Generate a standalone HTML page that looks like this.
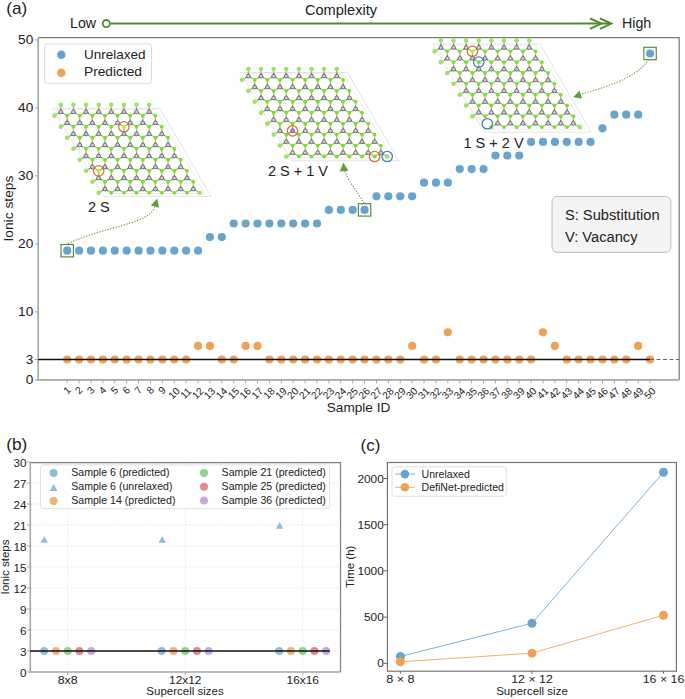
<!DOCTYPE html>
<html><head><meta charset="utf-8"><style>
html,body{margin:0;padding:0;background:#fff;}
svg{display:block;font-family:"Liberation Sans", sans-serif;}
</style></head><body>
<svg width="685" height="699" viewBox="0 0 685 699">
<rect width="685" height="699" fill="#fff"/>
<text x="6.3" y="13.6" font-size="17" fill="#222" textLength="21" lengthAdjust="spacingAndGlyphs">(a)</text>
<text x="70" y="28" font-size="14.2" fill="#222">Low</text>
<text x="341" y="14.8" font-size="14.6" fill="#222" text-anchor="middle">Complexity</text>
<text x="622" y="27.7" font-size="14.2" fill="#222">High</text>
<line x1="110.5" y1="23.6" x2="610" y2="23.6" stroke="#4e8a2e" stroke-width="2"/>
<circle cx="106.3" cy="23.6" r="3.6" fill="#fff" stroke="#4e8a2e" stroke-width="1.8"/>
<polyline points="590,18.3 601.3,23.6 590,28.9" fill="none" stroke="#4e8a2e" stroke-width="2"/>
<polyline points="600,18.3 611.3,23.6 600,28.9" fill="none" stroke="#4e8a2e" stroke-width="2"/>
<path d="M38.2,37.6 H679.2 V379.9" fill="none" stroke="#7c7c7c" stroke-width="1.25"/>
<path d="M38.2,37.6 V379.9 H679.2" fill="none" stroke="#a8a8a8" stroke-width="1.6"/>
<line x1="34.7" y1="379.90" x2="38.2" y2="379.90" stroke="#a8a8a8" stroke-width="1"/>
<text x="33.3" y="384.30" font-size="12.6" fill="#222" text-anchor="end" textLength="7.6" lengthAdjust="spacingAndGlyphs">0</text>
<line x1="34.7" y1="359.50" x2="38.2" y2="359.50" stroke="#a8a8a8" stroke-width="1"/>
<text x="33.3" y="363.90" font-size="12.6" fill="#222" text-anchor="end" textLength="7.6" lengthAdjust="spacingAndGlyphs">3</text>
<line x1="34.7" y1="311.90" x2="38.2" y2="311.90" stroke="#a8a8a8" stroke-width="1"/>
<text x="33.3" y="316.30" font-size="12.6" fill="#222" text-anchor="end" textLength="15.2" lengthAdjust="spacingAndGlyphs">10</text>
<line x1="34.7" y1="243.90" x2="38.2" y2="243.90" stroke="#a8a8a8" stroke-width="1"/>
<text x="33.3" y="248.30" font-size="12.6" fill="#222" text-anchor="end" textLength="15.2" lengthAdjust="spacingAndGlyphs">20</text>
<line x1="34.7" y1="175.90" x2="38.2" y2="175.90" stroke="#a8a8a8" stroke-width="1"/>
<text x="33.3" y="180.30" font-size="12.6" fill="#222" text-anchor="end" textLength="15.2" lengthAdjust="spacingAndGlyphs">30</text>
<line x1="34.7" y1="107.90" x2="38.2" y2="107.90" stroke="#a8a8a8" stroke-width="1"/>
<text x="33.3" y="112.30" font-size="12.6" fill="#222" text-anchor="end" textLength="15.2" lengthAdjust="spacingAndGlyphs">40</text>
<line x1="34.7" y1="39.90" x2="38.2" y2="39.90" stroke="#a8a8a8" stroke-width="1"/>
<text x="33.3" y="44.30" font-size="12.6" fill="#222" text-anchor="end" textLength="15.2" lengthAdjust="spacingAndGlyphs">50</text>
<line x1="67.20" y1="379.9" x2="67.20" y2="383.4" stroke="#a8a8a8" stroke-width="1"/>
<text x="66.70" y="393.75" font-size="10.2" fill="#222" text-anchor="middle" transform="rotate(-45 66.70 389.95)">1</text>
<line x1="79.09" y1="379.9" x2="79.09" y2="383.4" stroke="#a8a8a8" stroke-width="1"/>
<text x="78.59" y="393.75" font-size="10.2" fill="#222" text-anchor="middle" transform="rotate(-45 78.59 389.95)">2</text>
<line x1="90.99" y1="379.9" x2="90.99" y2="383.4" stroke="#a8a8a8" stroke-width="1"/>
<text x="90.49" y="393.75" font-size="10.2" fill="#222" text-anchor="middle" transform="rotate(-45 90.49 389.95)">3</text>
<line x1="102.89" y1="379.9" x2="102.89" y2="383.4" stroke="#a8a8a8" stroke-width="1"/>
<text x="102.39" y="393.75" font-size="10.2" fill="#222" text-anchor="middle" transform="rotate(-45 102.39 389.95)">4</text>
<line x1="114.78" y1="379.9" x2="114.78" y2="383.4" stroke="#a8a8a8" stroke-width="1"/>
<text x="114.28" y="393.75" font-size="10.2" fill="#222" text-anchor="middle" transform="rotate(-45 114.28 389.95)">5</text>
<line x1="126.67" y1="379.9" x2="126.67" y2="383.4" stroke="#a8a8a8" stroke-width="1"/>
<text x="126.17" y="393.75" font-size="10.2" fill="#222" text-anchor="middle" transform="rotate(-45 126.17 389.95)">6</text>
<line x1="138.57" y1="379.9" x2="138.57" y2="383.4" stroke="#a8a8a8" stroke-width="1"/>
<text x="138.07" y="393.75" font-size="10.2" fill="#222" text-anchor="middle" transform="rotate(-45 138.07 389.95)">7</text>
<line x1="150.47" y1="379.9" x2="150.47" y2="383.4" stroke="#a8a8a8" stroke-width="1"/>
<text x="149.97" y="393.75" font-size="10.2" fill="#222" text-anchor="middle" transform="rotate(-45 149.97 389.95)">8</text>
<line x1="162.36" y1="379.9" x2="162.36" y2="383.4" stroke="#a8a8a8" stroke-width="1"/>
<text x="161.86" y="393.75" font-size="10.2" fill="#222" text-anchor="middle" transform="rotate(-45 161.86 389.95)">9</text>
<line x1="174.25" y1="379.9" x2="174.25" y2="383.4" stroke="#a8a8a8" stroke-width="1"/>
<text x="173.75" y="396.76" font-size="10.2" fill="#222" text-anchor="middle" transform="rotate(-45 173.75 392.96)">10</text>
<line x1="186.15" y1="379.9" x2="186.15" y2="383.4" stroke="#a8a8a8" stroke-width="1"/>
<text x="185.65" y="396.76" font-size="10.2" fill="#222" text-anchor="middle" transform="rotate(-45 185.65 392.96)">11</text>
<line x1="198.05" y1="379.9" x2="198.05" y2="383.4" stroke="#a8a8a8" stroke-width="1"/>
<text x="197.55" y="396.76" font-size="10.2" fill="#222" text-anchor="middle" transform="rotate(-45 197.55 392.96)">12</text>
<line x1="209.94" y1="379.9" x2="209.94" y2="383.4" stroke="#a8a8a8" stroke-width="1"/>
<text x="209.44" y="396.76" font-size="10.2" fill="#222" text-anchor="middle" transform="rotate(-45 209.44 392.96)">13</text>
<line x1="221.83" y1="379.9" x2="221.83" y2="383.4" stroke="#a8a8a8" stroke-width="1"/>
<text x="221.33" y="396.76" font-size="10.2" fill="#222" text-anchor="middle" transform="rotate(-45 221.33 392.96)">14</text>
<line x1="233.73" y1="379.9" x2="233.73" y2="383.4" stroke="#a8a8a8" stroke-width="1"/>
<text x="233.23" y="396.76" font-size="10.2" fill="#222" text-anchor="middle" transform="rotate(-45 233.23 392.96)">15</text>
<line x1="245.62" y1="379.9" x2="245.62" y2="383.4" stroke="#a8a8a8" stroke-width="1"/>
<text x="245.12" y="396.76" font-size="10.2" fill="#222" text-anchor="middle" transform="rotate(-45 245.12 392.96)">16</text>
<line x1="257.52" y1="379.9" x2="257.52" y2="383.4" stroke="#a8a8a8" stroke-width="1"/>
<text x="257.02" y="396.76" font-size="10.2" fill="#222" text-anchor="middle" transform="rotate(-45 257.02 392.96)">17</text>
<line x1="269.42" y1="379.9" x2="269.42" y2="383.4" stroke="#a8a8a8" stroke-width="1"/>
<text x="268.92" y="396.76" font-size="10.2" fill="#222" text-anchor="middle" transform="rotate(-45 268.92 392.96)">18</text>
<line x1="281.31" y1="379.9" x2="281.31" y2="383.4" stroke="#a8a8a8" stroke-width="1"/>
<text x="280.81" y="396.76" font-size="10.2" fill="#222" text-anchor="middle" transform="rotate(-45 280.81 392.96)">19</text>
<line x1="293.20" y1="379.9" x2="293.20" y2="383.4" stroke="#a8a8a8" stroke-width="1"/>
<text x="292.70" y="396.76" font-size="10.2" fill="#222" text-anchor="middle" transform="rotate(-45 292.70 392.96)">20</text>
<line x1="305.10" y1="379.9" x2="305.10" y2="383.4" stroke="#a8a8a8" stroke-width="1"/>
<text x="304.60" y="396.76" font-size="10.2" fill="#222" text-anchor="middle" transform="rotate(-45 304.60 392.96)">21</text>
<line x1="317.00" y1="379.9" x2="317.00" y2="383.4" stroke="#a8a8a8" stroke-width="1"/>
<text x="316.50" y="396.76" font-size="10.2" fill="#222" text-anchor="middle" transform="rotate(-45 316.50 392.96)">22</text>
<line x1="328.89" y1="379.9" x2="328.89" y2="383.4" stroke="#a8a8a8" stroke-width="1"/>
<text x="328.39" y="396.76" font-size="10.2" fill="#222" text-anchor="middle" transform="rotate(-45 328.39 392.96)">23</text>
<line x1="340.78" y1="379.9" x2="340.78" y2="383.4" stroke="#a8a8a8" stroke-width="1"/>
<text x="340.28" y="396.76" font-size="10.2" fill="#222" text-anchor="middle" transform="rotate(-45 340.28 392.96)">24</text>
<line x1="352.68" y1="379.9" x2="352.68" y2="383.4" stroke="#a8a8a8" stroke-width="1"/>
<text x="352.18" y="396.76" font-size="10.2" fill="#222" text-anchor="middle" transform="rotate(-45 352.18 392.96)">25</text>
<line x1="364.57" y1="379.9" x2="364.57" y2="383.4" stroke="#a8a8a8" stroke-width="1"/>
<text x="364.07" y="396.76" font-size="10.2" fill="#222" text-anchor="middle" transform="rotate(-45 364.07 392.96)">26</text>
<line x1="376.47" y1="379.9" x2="376.47" y2="383.4" stroke="#a8a8a8" stroke-width="1"/>
<text x="375.97" y="396.76" font-size="10.2" fill="#222" text-anchor="middle" transform="rotate(-45 375.97 392.96)">27</text>
<line x1="388.36" y1="379.9" x2="388.36" y2="383.4" stroke="#a8a8a8" stroke-width="1"/>
<text x="387.86" y="396.76" font-size="10.2" fill="#222" text-anchor="middle" transform="rotate(-45 387.86 392.96)">28</text>
<line x1="400.26" y1="379.9" x2="400.26" y2="383.4" stroke="#a8a8a8" stroke-width="1"/>
<text x="399.76" y="396.76" font-size="10.2" fill="#222" text-anchor="middle" transform="rotate(-45 399.76 392.96)">29</text>
<line x1="412.15" y1="379.9" x2="412.15" y2="383.4" stroke="#a8a8a8" stroke-width="1"/>
<text x="411.65" y="396.76" font-size="10.2" fill="#222" text-anchor="middle" transform="rotate(-45 411.65 392.96)">30</text>
<line x1="424.05" y1="379.9" x2="424.05" y2="383.4" stroke="#a8a8a8" stroke-width="1"/>
<text x="423.55" y="396.76" font-size="10.2" fill="#222" text-anchor="middle" transform="rotate(-45 423.55 392.96)">31</text>
<line x1="435.94" y1="379.9" x2="435.94" y2="383.4" stroke="#a8a8a8" stroke-width="1"/>
<text x="435.44" y="396.76" font-size="10.2" fill="#222" text-anchor="middle" transform="rotate(-45 435.44 392.96)">32</text>
<line x1="447.84" y1="379.9" x2="447.84" y2="383.4" stroke="#a8a8a8" stroke-width="1"/>
<text x="447.34" y="396.76" font-size="10.2" fill="#222" text-anchor="middle" transform="rotate(-45 447.34 392.96)">33</text>
<line x1="459.73" y1="379.9" x2="459.73" y2="383.4" stroke="#a8a8a8" stroke-width="1"/>
<text x="459.23" y="396.76" font-size="10.2" fill="#222" text-anchor="middle" transform="rotate(-45 459.23 392.96)">34</text>
<line x1="471.63" y1="379.9" x2="471.63" y2="383.4" stroke="#a8a8a8" stroke-width="1"/>
<text x="471.13" y="396.76" font-size="10.2" fill="#222" text-anchor="middle" transform="rotate(-45 471.13 392.96)">35</text>
<line x1="483.52" y1="379.9" x2="483.52" y2="383.4" stroke="#a8a8a8" stroke-width="1"/>
<text x="483.02" y="396.76" font-size="10.2" fill="#222" text-anchor="middle" transform="rotate(-45 483.02 392.96)">36</text>
<line x1="495.42" y1="379.9" x2="495.42" y2="383.4" stroke="#a8a8a8" stroke-width="1"/>
<text x="494.92" y="396.76" font-size="10.2" fill="#222" text-anchor="middle" transform="rotate(-45 494.92 392.96)">37</text>
<line x1="507.31" y1="379.9" x2="507.31" y2="383.4" stroke="#a8a8a8" stroke-width="1"/>
<text x="506.81" y="396.76" font-size="10.2" fill="#222" text-anchor="middle" transform="rotate(-45 506.81 392.96)">38</text>
<line x1="519.21" y1="379.9" x2="519.21" y2="383.4" stroke="#a8a8a8" stroke-width="1"/>
<text x="518.71" y="396.76" font-size="10.2" fill="#222" text-anchor="middle" transform="rotate(-45 518.71 392.96)">39</text>
<line x1="531.11" y1="379.9" x2="531.11" y2="383.4" stroke="#a8a8a8" stroke-width="1"/>
<text x="530.61" y="396.76" font-size="10.2" fill="#222" text-anchor="middle" transform="rotate(-45 530.61 392.96)">40</text>
<line x1="543.00" y1="379.9" x2="543.00" y2="383.4" stroke="#a8a8a8" stroke-width="1"/>
<text x="542.50" y="396.76" font-size="10.2" fill="#222" text-anchor="middle" transform="rotate(-45 542.50 392.96)">41</text>
<line x1="554.89" y1="379.9" x2="554.89" y2="383.4" stroke="#a8a8a8" stroke-width="1"/>
<text x="554.39" y="396.76" font-size="10.2" fill="#222" text-anchor="middle" transform="rotate(-45 554.39 392.96)">42</text>
<line x1="566.79" y1="379.9" x2="566.79" y2="383.4" stroke="#a8a8a8" stroke-width="1"/>
<text x="566.29" y="396.76" font-size="10.2" fill="#222" text-anchor="middle" transform="rotate(-45 566.29 392.96)">43</text>
<line x1="578.68" y1="379.9" x2="578.68" y2="383.4" stroke="#a8a8a8" stroke-width="1"/>
<text x="578.18" y="396.76" font-size="10.2" fill="#222" text-anchor="middle" transform="rotate(-45 578.18 392.96)">44</text>
<line x1="590.58" y1="379.9" x2="590.58" y2="383.4" stroke="#a8a8a8" stroke-width="1"/>
<text x="590.08" y="396.76" font-size="10.2" fill="#222" text-anchor="middle" transform="rotate(-45 590.08 392.96)">45</text>
<line x1="602.48" y1="379.9" x2="602.48" y2="383.4" stroke="#a8a8a8" stroke-width="1"/>
<text x="601.98" y="396.76" font-size="10.2" fill="#222" text-anchor="middle" transform="rotate(-45 601.98 392.96)">46</text>
<line x1="614.37" y1="379.9" x2="614.37" y2="383.4" stroke="#a8a8a8" stroke-width="1"/>
<text x="613.87" y="396.76" font-size="10.2" fill="#222" text-anchor="middle" transform="rotate(-45 613.87 392.96)">47</text>
<line x1="626.26" y1="379.9" x2="626.26" y2="383.4" stroke="#a8a8a8" stroke-width="1"/>
<text x="625.76" y="396.76" font-size="10.2" fill="#222" text-anchor="middle" transform="rotate(-45 625.76 392.96)">48</text>
<line x1="638.16" y1="379.9" x2="638.16" y2="383.4" stroke="#a8a8a8" stroke-width="1"/>
<text x="637.66" y="396.76" font-size="10.2" fill="#222" text-anchor="middle" transform="rotate(-45 637.66 392.96)">49</text>
<line x1="650.06" y1="379.9" x2="650.06" y2="383.4" stroke="#a8a8a8" stroke-width="1"/>
<text x="649.56" y="396.76" font-size="10.2" fill="#222" text-anchor="middle" transform="rotate(-45 649.56 392.96)">50</text>
<text x="358.5" y="412" font-size="13" fill="#222" text-anchor="middle" textLength="63.5" lengthAdjust="spacingAndGlyphs">Sample ID</text>
<text transform="translate(12.5 208.6) rotate(-90)" font-size="12.3" fill="#222" text-anchor="middle" textLength="66" lengthAdjust="spacingAndGlyphs">Ionic steps</text>
<circle cx="67.20" cy="250.70" r="4.1" fill="#6aa4cd"/>
<circle cx="79.09" cy="250.70" r="4.1" fill="#6aa4cd"/>
<circle cx="90.99" cy="250.70" r="4.1" fill="#6aa4cd"/>
<circle cx="102.89" cy="250.70" r="4.1" fill="#6aa4cd"/>
<circle cx="114.78" cy="250.70" r="4.1" fill="#6aa4cd"/>
<circle cx="126.67" cy="250.70" r="4.1" fill="#6aa4cd"/>
<circle cx="138.57" cy="250.70" r="4.1" fill="#6aa4cd"/>
<circle cx="150.47" cy="250.70" r="4.1" fill="#6aa4cd"/>
<circle cx="162.36" cy="250.70" r="4.1" fill="#6aa4cd"/>
<circle cx="174.25" cy="250.70" r="4.1" fill="#6aa4cd"/>
<circle cx="186.15" cy="250.70" r="4.1" fill="#6aa4cd"/>
<circle cx="198.05" cy="250.70" r="4.1" fill="#6aa4cd"/>
<circle cx="209.94" cy="237.10" r="4.1" fill="#6aa4cd"/>
<circle cx="221.83" cy="237.10" r="4.1" fill="#6aa4cd"/>
<circle cx="233.73" cy="223.50" r="4.1" fill="#6aa4cd"/>
<circle cx="245.62" cy="223.50" r="4.1" fill="#6aa4cd"/>
<circle cx="257.52" cy="223.50" r="4.1" fill="#6aa4cd"/>
<circle cx="269.42" cy="223.50" r="4.1" fill="#6aa4cd"/>
<circle cx="281.31" cy="223.50" r="4.1" fill="#6aa4cd"/>
<circle cx="293.20" cy="223.50" r="4.1" fill="#6aa4cd"/>
<circle cx="305.10" cy="223.50" r="4.1" fill="#6aa4cd"/>
<circle cx="317.00" cy="223.50" r="4.1" fill="#6aa4cd"/>
<circle cx="328.89" cy="209.90" r="4.1" fill="#6aa4cd"/>
<circle cx="340.78" cy="209.90" r="4.1" fill="#6aa4cd"/>
<circle cx="352.68" cy="209.90" r="4.1" fill="#6aa4cd"/>
<circle cx="364.57" cy="209.90" r="4.1" fill="#6aa4cd"/>
<circle cx="376.47" cy="196.30" r="4.1" fill="#6aa4cd"/>
<circle cx="388.36" cy="196.30" r="4.1" fill="#6aa4cd"/>
<circle cx="400.26" cy="196.30" r="4.1" fill="#6aa4cd"/>
<circle cx="412.15" cy="196.30" r="4.1" fill="#6aa4cd"/>
<circle cx="424.05" cy="182.70" r="4.1" fill="#6aa4cd"/>
<circle cx="435.94" cy="182.70" r="4.1" fill="#6aa4cd"/>
<circle cx="447.84" cy="182.70" r="4.1" fill="#6aa4cd"/>
<circle cx="459.73" cy="169.10" r="4.1" fill="#6aa4cd"/>
<circle cx="471.63" cy="169.10" r="4.1" fill="#6aa4cd"/>
<circle cx="483.52" cy="169.10" r="4.1" fill="#6aa4cd"/>
<circle cx="495.42" cy="155.50" r="4.1" fill="#6aa4cd"/>
<circle cx="507.31" cy="155.50" r="4.1" fill="#6aa4cd"/>
<circle cx="519.21" cy="155.50" r="4.1" fill="#6aa4cd"/>
<circle cx="531.11" cy="141.90" r="4.1" fill="#6aa4cd"/>
<circle cx="543.00" cy="141.90" r="4.1" fill="#6aa4cd"/>
<circle cx="554.89" cy="141.90" r="4.1" fill="#6aa4cd"/>
<circle cx="566.79" cy="141.90" r="4.1" fill="#6aa4cd"/>
<circle cx="578.68" cy="141.90" r="4.1" fill="#6aa4cd"/>
<circle cx="590.58" cy="141.90" r="4.1" fill="#6aa4cd"/>
<circle cx="602.48" cy="128.30" r="4.1" fill="#6aa4cd"/>
<circle cx="614.37" cy="114.70" r="4.1" fill="#6aa4cd"/>
<circle cx="626.26" cy="114.70" r="4.1" fill="#6aa4cd"/>
<circle cx="638.16" cy="114.70" r="4.1" fill="#6aa4cd"/>
<circle cx="650.06" cy="53.50" r="4.1" fill="#6aa4cd"/>
<circle cx="67.20" cy="359.50" r="4.1" fill="#eea158"/>
<circle cx="79.09" cy="359.50" r="4.1" fill="#eea158"/>
<circle cx="90.99" cy="359.50" r="4.1" fill="#eea158"/>
<circle cx="102.89" cy="359.50" r="4.1" fill="#eea158"/>
<circle cx="114.78" cy="359.50" r="4.1" fill="#eea158"/>
<circle cx="126.67" cy="359.50" r="4.1" fill="#eea158"/>
<circle cx="138.57" cy="359.50" r="4.1" fill="#eea158"/>
<circle cx="150.47" cy="359.50" r="4.1" fill="#eea158"/>
<circle cx="162.36" cy="359.50" r="4.1" fill="#eea158"/>
<circle cx="174.25" cy="359.50" r="4.1" fill="#eea158"/>
<circle cx="186.15" cy="359.50" r="4.1" fill="#eea158"/>
<circle cx="198.05" cy="345.90" r="4.1" fill="#eea158"/>
<circle cx="209.94" cy="345.90" r="4.1" fill="#eea158"/>
<circle cx="221.83" cy="359.50" r="4.1" fill="#eea158"/>
<circle cx="233.73" cy="359.50" r="4.1" fill="#eea158"/>
<circle cx="245.62" cy="345.90" r="4.1" fill="#eea158"/>
<circle cx="257.52" cy="345.90" r="4.1" fill="#eea158"/>
<circle cx="269.42" cy="359.50" r="4.1" fill="#eea158"/>
<circle cx="281.31" cy="359.50" r="4.1" fill="#eea158"/>
<circle cx="293.20" cy="359.50" r="4.1" fill="#eea158"/>
<circle cx="305.10" cy="359.50" r="4.1" fill="#eea158"/>
<circle cx="317.00" cy="359.50" r="4.1" fill="#eea158"/>
<circle cx="328.89" cy="359.50" r="4.1" fill="#eea158"/>
<circle cx="340.78" cy="359.50" r="4.1" fill="#eea158"/>
<circle cx="352.68" cy="359.50" r="4.1" fill="#eea158"/>
<circle cx="364.57" cy="359.50" r="4.1" fill="#eea158"/>
<circle cx="376.47" cy="359.50" r="4.1" fill="#eea158"/>
<circle cx="388.36" cy="359.50" r="4.1" fill="#eea158"/>
<circle cx="400.26" cy="359.50" r="4.1" fill="#eea158"/>
<circle cx="412.15" cy="345.90" r="4.1" fill="#eea158"/>
<circle cx="424.05" cy="359.50" r="4.1" fill="#eea158"/>
<circle cx="435.94" cy="359.50" r="4.1" fill="#eea158"/>
<circle cx="447.84" cy="332.30" r="4.1" fill="#eea158"/>
<circle cx="459.73" cy="359.50" r="4.1" fill="#eea158"/>
<circle cx="471.63" cy="359.50" r="4.1" fill="#eea158"/>
<circle cx="483.52" cy="359.50" r="4.1" fill="#eea158"/>
<circle cx="495.42" cy="359.50" r="4.1" fill="#eea158"/>
<circle cx="507.31" cy="359.50" r="4.1" fill="#eea158"/>
<circle cx="519.21" cy="359.50" r="4.1" fill="#eea158"/>
<circle cx="531.11" cy="359.50" r="4.1" fill="#eea158"/>
<circle cx="543.00" cy="332.30" r="4.1" fill="#eea158"/>
<circle cx="554.89" cy="345.90" r="4.1" fill="#eea158"/>
<circle cx="566.79" cy="359.50" r="4.1" fill="#eea158"/>
<circle cx="578.68" cy="359.50" r="4.1" fill="#eea158"/>
<circle cx="590.58" cy="359.50" r="4.1" fill="#eea158"/>
<circle cx="602.48" cy="359.50" r="4.1" fill="#eea158"/>
<circle cx="614.37" cy="359.50" r="4.1" fill="#eea158"/>
<circle cx="626.26" cy="359.50" r="4.1" fill="#eea158"/>
<circle cx="638.16" cy="345.90" r="4.1" fill="#eea158"/>
<circle cx="650.06" cy="359.50" r="4.1" fill="#eea158"/>
<line x1="38.2" y1="359.50" x2="650.06" y2="359.50" stroke="#111" stroke-width="1.5"/>
<line x1="650.06" y1="359.50" x2="679.2" y2="359.50" stroke="#666" stroke-width="1" stroke-dasharray="4 2.5"/>
<rect x="44.5" y="43.9" width="107" height="39.4" rx="2.5" fill="#fff" fill-opacity="0.8" stroke="#dcdcdc" stroke-width="1"/>
<circle cx="61.3" cy="54.7" r="4.3" fill="#6aa4cd"/>
<circle cx="61.3" cy="72.8" r="4.3" fill="#eea158"/>
<text x="84" y="58.5" font-size="12.4" fill="#222" textLength="61.5" lengthAdjust="spacingAndGlyphs">Unrelaxed</text>
<text x="84" y="76.4" font-size="12.4" fill="#222" textLength="58" lengthAdjust="spacingAndGlyphs">Predicted</text>
<rect x="552" y="196.5" width="118.8" height="55.8" rx="5" fill="#f4f4f4" stroke="#bdbdbd" stroke-width="1"/>
<text x="564.9" y="220" font-size="14.7" fill="#222">S: Substitution</text>
<text x="564.9" y="242.1" font-size="14.7" fill="#222">V: Vacancy</text>
<text x="88" y="211.8" font-size="14.5" fill="#222">2 S</text>
<text x="267.9" y="175.6" font-size="14.5" fill="#222">2 S + 1 V</text>
<text x="463.5" y="147.6" font-size="14.5" fill="#222">1 S + 2 V</text>
<polygon points="52.8,108.3 159.8,108.3 211.2,196.5 104.2,196.5" fill="none" stroke="#d8d8d8" stroke-width="0.7"/>
<polygon points="55.8,109.5 155.8,109.5 204.7,193.5 106.7,193.5" fill="none" stroke="#e2e2e2" stroke-width="0.6"/>
<line x1="60.80" y1="111.90" x2="60.80" y2="108.35" stroke="#767676" stroke-width="1.3"/>
<line x1="60.80" y1="108.35" x2="60.80" y2="104.80" stroke="#86d83a" stroke-width="1.2"/>
<line x1="60.80" y1="111.90" x2="57.64" y2="113.77" stroke="#767676" stroke-width="1.3"/>
<line x1="57.64" y1="113.77" x2="54.49" y2="115.65" stroke="#86d83a" stroke-width="1.2"/>
<line x1="60.80" y1="111.90" x2="63.95" y2="113.77" stroke="#767676" stroke-width="1.3"/>
<line x1="63.95" y1="113.77" x2="67.11" y2="115.65" stroke="#86d83a" stroke-width="1.2"/>
<line x1="73.42" y1="111.90" x2="73.42" y2="108.35" stroke="#767676" stroke-width="1.3"/>
<line x1="73.42" y1="108.35" x2="73.42" y2="104.80" stroke="#86d83a" stroke-width="1.2"/>
<line x1="73.42" y1="111.90" x2="70.27" y2="113.77" stroke="#767676" stroke-width="1.3"/>
<line x1="70.27" y1="113.77" x2="67.11" y2="115.65" stroke="#86d83a" stroke-width="1.2"/>
<line x1="73.42" y1="111.90" x2="76.58" y2="113.77" stroke="#767676" stroke-width="1.3"/>
<line x1="76.58" y1="113.77" x2="79.73" y2="115.65" stroke="#86d83a" stroke-width="1.2"/>
<line x1="86.04" y1="111.90" x2="86.04" y2="108.35" stroke="#767676" stroke-width="1.3"/>
<line x1="86.04" y1="108.35" x2="86.04" y2="104.80" stroke="#86d83a" stroke-width="1.2"/>
<line x1="86.04" y1="111.90" x2="82.88" y2="113.77" stroke="#767676" stroke-width="1.3"/>
<line x1="82.88" y1="113.77" x2="79.73" y2="115.65" stroke="#86d83a" stroke-width="1.2"/>
<line x1="86.04" y1="111.90" x2="89.19" y2="113.77" stroke="#767676" stroke-width="1.3"/>
<line x1="89.19" y1="113.77" x2="92.35" y2="115.65" stroke="#86d83a" stroke-width="1.2"/>
<line x1="98.66" y1="111.90" x2="98.66" y2="108.35" stroke="#767676" stroke-width="1.3"/>
<line x1="98.66" y1="108.35" x2="98.66" y2="104.80" stroke="#86d83a" stroke-width="1.2"/>
<line x1="98.66" y1="111.90" x2="95.50" y2="113.77" stroke="#767676" stroke-width="1.3"/>
<line x1="95.50" y1="113.77" x2="92.35" y2="115.65" stroke="#86d83a" stroke-width="1.2"/>
<line x1="98.66" y1="111.90" x2="101.81" y2="113.77" stroke="#767676" stroke-width="1.3"/>
<line x1="101.81" y1="113.77" x2="104.97" y2="115.65" stroke="#86d83a" stroke-width="1.2"/>
<line x1="111.28" y1="111.90" x2="111.28" y2="108.35" stroke="#767676" stroke-width="1.3"/>
<line x1="111.28" y1="108.35" x2="111.28" y2="104.80" stroke="#86d83a" stroke-width="1.2"/>
<line x1="111.28" y1="111.90" x2="108.12" y2="113.77" stroke="#767676" stroke-width="1.3"/>
<line x1="108.12" y1="113.77" x2="104.97" y2="115.65" stroke="#86d83a" stroke-width="1.2"/>
<line x1="111.28" y1="111.90" x2="114.44" y2="113.77" stroke="#767676" stroke-width="1.3"/>
<line x1="114.44" y1="113.77" x2="117.59" y2="115.65" stroke="#86d83a" stroke-width="1.2"/>
<line x1="123.90" y1="111.90" x2="123.90" y2="108.35" stroke="#767676" stroke-width="1.3"/>
<line x1="123.90" y1="108.35" x2="123.90" y2="104.80" stroke="#86d83a" stroke-width="1.2"/>
<line x1="123.90" y1="111.90" x2="120.74" y2="113.77" stroke="#767676" stroke-width="1.3"/>
<line x1="120.74" y1="113.77" x2="117.59" y2="115.65" stroke="#86d83a" stroke-width="1.2"/>
<line x1="123.90" y1="111.90" x2="127.05" y2="113.77" stroke="#767676" stroke-width="1.3"/>
<line x1="127.05" y1="113.77" x2="130.21" y2="115.65" stroke="#86d83a" stroke-width="1.2"/>
<line x1="136.52" y1="111.90" x2="136.52" y2="108.35" stroke="#767676" stroke-width="1.3"/>
<line x1="136.52" y1="108.35" x2="136.52" y2="104.80" stroke="#86d83a" stroke-width="1.2"/>
<line x1="136.52" y1="111.90" x2="133.36" y2="113.77" stroke="#767676" stroke-width="1.3"/>
<line x1="133.36" y1="113.77" x2="130.21" y2="115.65" stroke="#86d83a" stroke-width="1.2"/>
<line x1="136.52" y1="111.90" x2="139.67" y2="113.77" stroke="#767676" stroke-width="1.3"/>
<line x1="139.67" y1="113.77" x2="142.83" y2="115.65" stroke="#86d83a" stroke-width="1.2"/>
<line x1="149.14" y1="111.90" x2="149.14" y2="108.35" stroke="#767676" stroke-width="1.3"/>
<line x1="149.14" y1="108.35" x2="149.14" y2="104.80" stroke="#86d83a" stroke-width="1.2"/>
<line x1="149.14" y1="111.90" x2="145.98" y2="113.77" stroke="#767676" stroke-width="1.3"/>
<line x1="145.98" y1="113.77" x2="142.83" y2="115.65" stroke="#86d83a" stroke-width="1.2"/>
<line x1="149.14" y1="111.90" x2="152.29" y2="113.77" stroke="#767676" stroke-width="1.3"/>
<line x1="152.29" y1="113.77" x2="155.45" y2="115.65" stroke="#86d83a" stroke-width="1.2"/>
<line x1="67.11" y1="122.92" x2="67.11" y2="119.37" stroke="#767676" stroke-width="1.3"/>
<line x1="67.11" y1="119.37" x2="67.11" y2="115.82" stroke="#86d83a" stroke-width="1.2"/>
<line x1="67.11" y1="122.92" x2="63.95" y2="124.79" stroke="#767676" stroke-width="1.3"/>
<line x1="63.95" y1="124.79" x2="60.80" y2="126.67" stroke="#86d83a" stroke-width="1.2"/>
<line x1="67.11" y1="122.92" x2="70.27" y2="124.79" stroke="#767676" stroke-width="1.3"/>
<line x1="70.27" y1="124.79" x2="73.42" y2="126.67" stroke="#86d83a" stroke-width="1.2"/>
<line x1="79.73" y1="122.92" x2="79.73" y2="119.37" stroke="#767676" stroke-width="1.3"/>
<line x1="79.73" y1="119.37" x2="79.73" y2="115.82" stroke="#86d83a" stroke-width="1.2"/>
<line x1="79.73" y1="122.92" x2="76.58" y2="124.79" stroke="#767676" stroke-width="1.3"/>
<line x1="76.58" y1="124.79" x2="73.42" y2="126.67" stroke="#86d83a" stroke-width="1.2"/>
<line x1="79.73" y1="122.92" x2="82.89" y2="124.79" stroke="#767676" stroke-width="1.3"/>
<line x1="82.89" y1="124.79" x2="86.04" y2="126.67" stroke="#86d83a" stroke-width="1.2"/>
<line x1="92.35" y1="122.92" x2="92.35" y2="119.37" stroke="#767676" stroke-width="1.3"/>
<line x1="92.35" y1="119.37" x2="92.35" y2="115.82" stroke="#86d83a" stroke-width="1.2"/>
<line x1="92.35" y1="122.92" x2="89.19" y2="124.79" stroke="#767676" stroke-width="1.3"/>
<line x1="89.19" y1="124.79" x2="86.04" y2="126.67" stroke="#86d83a" stroke-width="1.2"/>
<line x1="92.35" y1="122.92" x2="95.50" y2="124.79" stroke="#767676" stroke-width="1.3"/>
<line x1="95.50" y1="124.79" x2="98.66" y2="126.67" stroke="#86d83a" stroke-width="1.2"/>
<line x1="104.97" y1="122.92" x2="104.97" y2="119.37" stroke="#767676" stroke-width="1.3"/>
<line x1="104.97" y1="119.37" x2="104.97" y2="115.82" stroke="#86d83a" stroke-width="1.2"/>
<line x1="104.97" y1="122.92" x2="101.81" y2="124.79" stroke="#767676" stroke-width="1.3"/>
<line x1="101.81" y1="124.79" x2="98.66" y2="126.67" stroke="#86d83a" stroke-width="1.2"/>
<line x1="104.97" y1="122.92" x2="108.12" y2="124.79" stroke="#767676" stroke-width="1.3"/>
<line x1="108.12" y1="124.79" x2="111.28" y2="126.67" stroke="#86d83a" stroke-width="1.2"/>
<line x1="117.59" y1="122.92" x2="117.59" y2="119.37" stroke="#767676" stroke-width="1.3"/>
<line x1="117.59" y1="119.37" x2="117.59" y2="115.82" stroke="#86d83a" stroke-width="1.2"/>
<line x1="117.59" y1="122.92" x2="114.44" y2="124.79" stroke="#767676" stroke-width="1.3"/>
<line x1="114.44" y1="124.79" x2="111.28" y2="126.67" stroke="#86d83a" stroke-width="1.2"/>
<line x1="117.59" y1="122.92" x2="120.75" y2="124.79" stroke="#767676" stroke-width="1.3"/>
<line x1="120.75" y1="124.79" x2="123.90" y2="126.67" stroke="#86d83a" stroke-width="1.2"/>
<line x1="130.21" y1="122.92" x2="130.21" y2="119.37" stroke="#767676" stroke-width="1.3"/>
<line x1="130.21" y1="119.37" x2="130.21" y2="115.82" stroke="#86d83a" stroke-width="1.2"/>
<line x1="130.21" y1="122.92" x2="127.05" y2="124.79" stroke="#767676" stroke-width="1.3"/>
<line x1="127.05" y1="124.79" x2="123.90" y2="126.67" stroke="#86d83a" stroke-width="1.2"/>
<line x1="130.21" y1="122.92" x2="133.36" y2="124.79" stroke="#767676" stroke-width="1.3"/>
<line x1="133.36" y1="124.79" x2="136.52" y2="126.67" stroke="#86d83a" stroke-width="1.2"/>
<line x1="142.83" y1="122.92" x2="142.83" y2="119.37" stroke="#767676" stroke-width="1.3"/>
<line x1="142.83" y1="119.37" x2="142.83" y2="115.82" stroke="#86d83a" stroke-width="1.2"/>
<line x1="142.83" y1="122.92" x2="139.67" y2="124.79" stroke="#767676" stroke-width="1.3"/>
<line x1="139.67" y1="124.79" x2="136.52" y2="126.67" stroke="#86d83a" stroke-width="1.2"/>
<line x1="142.83" y1="122.92" x2="145.98" y2="124.79" stroke="#767676" stroke-width="1.3"/>
<line x1="145.98" y1="124.79" x2="149.14" y2="126.67" stroke="#86d83a" stroke-width="1.2"/>
<line x1="155.45" y1="122.92" x2="155.45" y2="119.37" stroke="#767676" stroke-width="1.3"/>
<line x1="155.45" y1="119.37" x2="155.45" y2="115.82" stroke="#86d83a" stroke-width="1.2"/>
<line x1="155.45" y1="122.92" x2="152.29" y2="124.79" stroke="#767676" stroke-width="1.3"/>
<line x1="152.29" y1="124.79" x2="149.14" y2="126.67" stroke="#86d83a" stroke-width="1.2"/>
<line x1="155.45" y1="122.92" x2="158.60" y2="124.79" stroke="#767676" stroke-width="1.3"/>
<line x1="158.60" y1="124.79" x2="161.76" y2="126.67" stroke="#86d83a" stroke-width="1.2"/>
<line x1="73.42" y1="133.94" x2="73.42" y2="130.39" stroke="#767676" stroke-width="1.3"/>
<line x1="73.42" y1="130.39" x2="73.42" y2="126.84" stroke="#86d83a" stroke-width="1.2"/>
<line x1="73.42" y1="133.94" x2="70.27" y2="135.81" stroke="#767676" stroke-width="1.3"/>
<line x1="70.27" y1="135.81" x2="67.11" y2="137.69" stroke="#86d83a" stroke-width="1.2"/>
<line x1="73.42" y1="133.94" x2="76.58" y2="135.81" stroke="#767676" stroke-width="1.3"/>
<line x1="76.58" y1="135.81" x2="79.73" y2="137.69" stroke="#86d83a" stroke-width="1.2"/>
<line x1="86.04" y1="133.94" x2="86.04" y2="130.39" stroke="#767676" stroke-width="1.3"/>
<line x1="86.04" y1="130.39" x2="86.04" y2="126.84" stroke="#86d83a" stroke-width="1.2"/>
<line x1="86.04" y1="133.94" x2="82.89" y2="135.81" stroke="#767676" stroke-width="1.3"/>
<line x1="82.89" y1="135.81" x2="79.73" y2="137.69" stroke="#86d83a" stroke-width="1.2"/>
<line x1="86.04" y1="133.94" x2="89.20" y2="135.81" stroke="#767676" stroke-width="1.3"/>
<line x1="89.20" y1="135.81" x2="92.35" y2="137.69" stroke="#86d83a" stroke-width="1.2"/>
<line x1="98.66" y1="133.94" x2="98.66" y2="130.39" stroke="#767676" stroke-width="1.3"/>
<line x1="98.66" y1="130.39" x2="98.66" y2="126.84" stroke="#86d83a" stroke-width="1.2"/>
<line x1="98.66" y1="133.94" x2="95.50" y2="135.81" stroke="#767676" stroke-width="1.3"/>
<line x1="95.50" y1="135.81" x2="92.35" y2="137.69" stroke="#86d83a" stroke-width="1.2"/>
<line x1="98.66" y1="133.94" x2="101.81" y2="135.81" stroke="#767676" stroke-width="1.3"/>
<line x1="101.81" y1="135.81" x2="104.97" y2="137.69" stroke="#86d83a" stroke-width="1.2"/>
<line x1="111.28" y1="133.94" x2="111.28" y2="130.39" stroke="#767676" stroke-width="1.3"/>
<line x1="111.28" y1="130.39" x2="111.28" y2="126.84" stroke="#86d83a" stroke-width="1.2"/>
<line x1="111.28" y1="133.94" x2="108.12" y2="135.81" stroke="#767676" stroke-width="1.3"/>
<line x1="108.12" y1="135.81" x2="104.97" y2="137.69" stroke="#86d83a" stroke-width="1.2"/>
<line x1="111.28" y1="133.94" x2="114.44" y2="135.81" stroke="#767676" stroke-width="1.3"/>
<line x1="114.44" y1="135.81" x2="117.59" y2="137.69" stroke="#86d83a" stroke-width="1.2"/>
<line x1="123.90" y1="133.94" x2="123.90" y2="130.39" stroke="#767676" stroke-width="1.3"/>
<line x1="123.90" y1="130.39" x2="123.90" y2="126.84" stroke="#86d83a" stroke-width="1.2"/>
<line x1="123.90" y1="133.94" x2="120.75" y2="135.81" stroke="#767676" stroke-width="1.3"/>
<line x1="120.75" y1="135.81" x2="117.59" y2="137.69" stroke="#86d83a" stroke-width="1.2"/>
<line x1="123.90" y1="133.94" x2="127.06" y2="135.81" stroke="#767676" stroke-width="1.3"/>
<line x1="127.06" y1="135.81" x2="130.21" y2="137.69" stroke="#86d83a" stroke-width="1.2"/>
<line x1="136.52" y1="133.94" x2="136.52" y2="130.39" stroke="#767676" stroke-width="1.3"/>
<line x1="136.52" y1="130.39" x2="136.52" y2="126.84" stroke="#86d83a" stroke-width="1.2"/>
<line x1="136.52" y1="133.94" x2="133.36" y2="135.81" stroke="#767676" stroke-width="1.3"/>
<line x1="133.36" y1="135.81" x2="130.21" y2="137.69" stroke="#86d83a" stroke-width="1.2"/>
<line x1="136.52" y1="133.94" x2="139.67" y2="135.81" stroke="#767676" stroke-width="1.3"/>
<line x1="139.67" y1="135.81" x2="142.83" y2="137.69" stroke="#86d83a" stroke-width="1.2"/>
<line x1="149.14" y1="133.94" x2="149.14" y2="130.39" stroke="#767676" stroke-width="1.3"/>
<line x1="149.14" y1="130.39" x2="149.14" y2="126.84" stroke="#86d83a" stroke-width="1.2"/>
<line x1="149.14" y1="133.94" x2="145.98" y2="135.81" stroke="#767676" stroke-width="1.3"/>
<line x1="145.98" y1="135.81" x2="142.83" y2="137.69" stroke="#86d83a" stroke-width="1.2"/>
<line x1="149.14" y1="133.94" x2="152.29" y2="135.81" stroke="#767676" stroke-width="1.3"/>
<line x1="152.29" y1="135.81" x2="155.45" y2="137.69" stroke="#86d83a" stroke-width="1.2"/>
<line x1="161.76" y1="133.94" x2="161.76" y2="130.39" stroke="#767676" stroke-width="1.3"/>
<line x1="161.76" y1="130.39" x2="161.76" y2="126.84" stroke="#86d83a" stroke-width="1.2"/>
<line x1="161.76" y1="133.94" x2="158.60" y2="135.81" stroke="#767676" stroke-width="1.3"/>
<line x1="158.60" y1="135.81" x2="155.45" y2="137.69" stroke="#86d83a" stroke-width="1.2"/>
<line x1="161.76" y1="133.94" x2="164.91" y2="135.81" stroke="#767676" stroke-width="1.3"/>
<line x1="164.91" y1="135.81" x2="168.07" y2="137.69" stroke="#86d83a" stroke-width="1.2"/>
<line x1="79.73" y1="144.96" x2="79.73" y2="141.41" stroke="#767676" stroke-width="1.3"/>
<line x1="79.73" y1="141.41" x2="79.73" y2="137.86" stroke="#86d83a" stroke-width="1.2"/>
<line x1="79.73" y1="144.96" x2="76.57" y2="146.83" stroke="#767676" stroke-width="1.3"/>
<line x1="76.57" y1="146.83" x2="73.42" y2="148.71" stroke="#86d83a" stroke-width="1.2"/>
<line x1="79.73" y1="144.96" x2="82.88" y2="146.83" stroke="#767676" stroke-width="1.3"/>
<line x1="82.88" y1="146.83" x2="86.04" y2="148.71" stroke="#86d83a" stroke-width="1.2"/>
<line x1="92.35" y1="144.96" x2="92.35" y2="141.41" stroke="#767676" stroke-width="1.3"/>
<line x1="92.35" y1="141.41" x2="92.35" y2="137.86" stroke="#86d83a" stroke-width="1.2"/>
<line x1="92.35" y1="144.96" x2="89.19" y2="146.83" stroke="#767676" stroke-width="1.3"/>
<line x1="89.19" y1="146.83" x2="86.04" y2="148.71" stroke="#86d83a" stroke-width="1.2"/>
<line x1="92.35" y1="144.96" x2="95.50" y2="146.83" stroke="#767676" stroke-width="1.3"/>
<line x1="95.50" y1="146.83" x2="98.66" y2="148.71" stroke="#86d83a" stroke-width="1.2"/>
<line x1="104.97" y1="144.96" x2="104.97" y2="141.41" stroke="#767676" stroke-width="1.3"/>
<line x1="104.97" y1="141.41" x2="104.97" y2="137.86" stroke="#86d83a" stroke-width="1.2"/>
<line x1="104.97" y1="144.96" x2="101.81" y2="146.83" stroke="#767676" stroke-width="1.3"/>
<line x1="101.81" y1="146.83" x2="98.66" y2="148.71" stroke="#86d83a" stroke-width="1.2"/>
<line x1="104.97" y1="144.96" x2="108.12" y2="146.83" stroke="#767676" stroke-width="1.3"/>
<line x1="108.12" y1="146.83" x2="111.28" y2="148.71" stroke="#86d83a" stroke-width="1.2"/>
<line x1="117.59" y1="144.96" x2="117.59" y2="141.41" stroke="#767676" stroke-width="1.3"/>
<line x1="117.59" y1="141.41" x2="117.59" y2="137.86" stroke="#86d83a" stroke-width="1.2"/>
<line x1="117.59" y1="144.96" x2="114.44" y2="146.83" stroke="#767676" stroke-width="1.3"/>
<line x1="114.44" y1="146.83" x2="111.28" y2="148.71" stroke="#86d83a" stroke-width="1.2"/>
<line x1="117.59" y1="144.96" x2="120.75" y2="146.83" stroke="#767676" stroke-width="1.3"/>
<line x1="120.75" y1="146.83" x2="123.90" y2="148.71" stroke="#86d83a" stroke-width="1.2"/>
<line x1="130.21" y1="144.96" x2="130.21" y2="141.41" stroke="#767676" stroke-width="1.3"/>
<line x1="130.21" y1="141.41" x2="130.21" y2="137.86" stroke="#86d83a" stroke-width="1.2"/>
<line x1="130.21" y1="144.96" x2="127.06" y2="146.83" stroke="#767676" stroke-width="1.3"/>
<line x1="127.06" y1="146.83" x2="123.90" y2="148.71" stroke="#86d83a" stroke-width="1.2"/>
<line x1="130.21" y1="144.96" x2="133.37" y2="146.83" stroke="#767676" stroke-width="1.3"/>
<line x1="133.37" y1="146.83" x2="136.52" y2="148.71" stroke="#86d83a" stroke-width="1.2"/>
<line x1="142.83" y1="144.96" x2="142.83" y2="141.41" stroke="#767676" stroke-width="1.3"/>
<line x1="142.83" y1="141.41" x2="142.83" y2="137.86" stroke="#86d83a" stroke-width="1.2"/>
<line x1="142.83" y1="144.96" x2="139.67" y2="146.83" stroke="#767676" stroke-width="1.3"/>
<line x1="139.67" y1="146.83" x2="136.52" y2="148.71" stroke="#86d83a" stroke-width="1.2"/>
<line x1="142.83" y1="144.96" x2="145.98" y2="146.83" stroke="#767676" stroke-width="1.3"/>
<line x1="145.98" y1="146.83" x2="149.14" y2="148.71" stroke="#86d83a" stroke-width="1.2"/>
<line x1="155.45" y1="144.96" x2="155.45" y2="141.41" stroke="#767676" stroke-width="1.3"/>
<line x1="155.45" y1="141.41" x2="155.45" y2="137.86" stroke="#86d83a" stroke-width="1.2"/>
<line x1="155.45" y1="144.96" x2="152.29" y2="146.83" stroke="#767676" stroke-width="1.3"/>
<line x1="152.29" y1="146.83" x2="149.14" y2="148.71" stroke="#86d83a" stroke-width="1.2"/>
<line x1="155.45" y1="144.96" x2="158.60" y2="146.83" stroke="#767676" stroke-width="1.3"/>
<line x1="158.60" y1="146.83" x2="161.76" y2="148.71" stroke="#86d83a" stroke-width="1.2"/>
<line x1="168.07" y1="144.96" x2="168.07" y2="141.41" stroke="#767676" stroke-width="1.3"/>
<line x1="168.07" y1="141.41" x2="168.07" y2="137.86" stroke="#86d83a" stroke-width="1.2"/>
<line x1="168.07" y1="144.96" x2="164.91" y2="146.83" stroke="#767676" stroke-width="1.3"/>
<line x1="164.91" y1="146.83" x2="161.76" y2="148.71" stroke="#86d83a" stroke-width="1.2"/>
<line x1="168.07" y1="144.96" x2="171.22" y2="146.83" stroke="#767676" stroke-width="1.3"/>
<line x1="171.22" y1="146.83" x2="174.38" y2="148.71" stroke="#86d83a" stroke-width="1.2"/>
<line x1="86.04" y1="155.98" x2="86.04" y2="152.43" stroke="#767676" stroke-width="1.3"/>
<line x1="86.04" y1="152.43" x2="86.04" y2="148.88" stroke="#86d83a" stroke-width="1.2"/>
<line x1="86.04" y1="155.98" x2="82.88" y2="157.85" stroke="#767676" stroke-width="1.3"/>
<line x1="82.88" y1="157.85" x2="79.73" y2="159.73" stroke="#86d83a" stroke-width="1.2"/>
<line x1="86.04" y1="155.98" x2="89.19" y2="157.85" stroke="#767676" stroke-width="1.3"/>
<line x1="89.19" y1="157.85" x2="92.35" y2="159.73" stroke="#86d83a" stroke-width="1.2"/>
<line x1="98.66" y1="155.98" x2="98.66" y2="152.43" stroke="#767676" stroke-width="1.3"/>
<line x1="98.66" y1="152.43" x2="98.66" y2="148.88" stroke="#86d83a" stroke-width="1.2"/>
<line x1="98.66" y1="155.98" x2="95.50" y2="157.85" stroke="#767676" stroke-width="1.3"/>
<line x1="95.50" y1="157.85" x2="92.35" y2="159.73" stroke="#86d83a" stroke-width="1.2"/>
<line x1="98.66" y1="155.98" x2="101.81" y2="157.85" stroke="#767676" stroke-width="1.3"/>
<line x1="101.81" y1="157.85" x2="104.97" y2="159.73" stroke="#86d83a" stroke-width="1.2"/>
<line x1="111.28" y1="155.98" x2="111.28" y2="152.43" stroke="#767676" stroke-width="1.3"/>
<line x1="111.28" y1="152.43" x2="111.28" y2="148.88" stroke="#86d83a" stroke-width="1.2"/>
<line x1="111.28" y1="155.98" x2="108.12" y2="157.85" stroke="#767676" stroke-width="1.3"/>
<line x1="108.12" y1="157.85" x2="104.97" y2="159.73" stroke="#86d83a" stroke-width="1.2"/>
<line x1="111.28" y1="155.98" x2="114.43" y2="157.85" stroke="#767676" stroke-width="1.3"/>
<line x1="114.43" y1="157.85" x2="117.59" y2="159.73" stroke="#86d83a" stroke-width="1.2"/>
<line x1="123.90" y1="155.98" x2="123.90" y2="152.43" stroke="#767676" stroke-width="1.3"/>
<line x1="123.90" y1="152.43" x2="123.90" y2="148.88" stroke="#86d83a" stroke-width="1.2"/>
<line x1="123.90" y1="155.98" x2="120.74" y2="157.85" stroke="#767676" stroke-width="1.3"/>
<line x1="120.74" y1="157.85" x2="117.59" y2="159.73" stroke="#86d83a" stroke-width="1.2"/>
<line x1="123.90" y1="155.98" x2="127.05" y2="157.85" stroke="#767676" stroke-width="1.3"/>
<line x1="127.05" y1="157.85" x2="130.21" y2="159.73" stroke="#86d83a" stroke-width="1.2"/>
<line x1="136.52" y1="155.98" x2="136.52" y2="152.43" stroke="#767676" stroke-width="1.3"/>
<line x1="136.52" y1="152.43" x2="136.52" y2="148.88" stroke="#86d83a" stroke-width="1.2"/>
<line x1="136.52" y1="155.98" x2="133.37" y2="157.85" stroke="#767676" stroke-width="1.3"/>
<line x1="133.37" y1="157.85" x2="130.21" y2="159.73" stroke="#86d83a" stroke-width="1.2"/>
<line x1="136.52" y1="155.98" x2="139.68" y2="157.85" stroke="#767676" stroke-width="1.3"/>
<line x1="139.68" y1="157.85" x2="142.83" y2="159.73" stroke="#86d83a" stroke-width="1.2"/>
<line x1="149.14" y1="155.98" x2="149.14" y2="152.43" stroke="#767676" stroke-width="1.3"/>
<line x1="149.14" y1="152.43" x2="149.14" y2="148.88" stroke="#86d83a" stroke-width="1.2"/>
<line x1="149.14" y1="155.98" x2="145.98" y2="157.85" stroke="#767676" stroke-width="1.3"/>
<line x1="145.98" y1="157.85" x2="142.83" y2="159.73" stroke="#86d83a" stroke-width="1.2"/>
<line x1="149.14" y1="155.98" x2="152.29" y2="157.85" stroke="#767676" stroke-width="1.3"/>
<line x1="152.29" y1="157.85" x2="155.45" y2="159.73" stroke="#86d83a" stroke-width="1.2"/>
<line x1="161.76" y1="155.98" x2="161.76" y2="152.43" stroke="#767676" stroke-width="1.3"/>
<line x1="161.76" y1="152.43" x2="161.76" y2="148.88" stroke="#86d83a" stroke-width="1.2"/>
<line x1="161.76" y1="155.98" x2="158.60" y2="157.85" stroke="#767676" stroke-width="1.3"/>
<line x1="158.60" y1="157.85" x2="155.45" y2="159.73" stroke="#86d83a" stroke-width="1.2"/>
<line x1="161.76" y1="155.98" x2="164.91" y2="157.85" stroke="#767676" stroke-width="1.3"/>
<line x1="164.91" y1="157.85" x2="168.07" y2="159.73" stroke="#86d83a" stroke-width="1.2"/>
<line x1="174.38" y1="155.98" x2="174.38" y2="152.43" stroke="#767676" stroke-width="1.3"/>
<line x1="174.38" y1="152.43" x2="174.38" y2="148.88" stroke="#86d83a" stroke-width="1.2"/>
<line x1="174.38" y1="155.98" x2="171.22" y2="157.85" stroke="#767676" stroke-width="1.3"/>
<line x1="171.22" y1="157.85" x2="168.07" y2="159.73" stroke="#86d83a" stroke-width="1.2"/>
<line x1="174.38" y1="155.98" x2="177.53" y2="157.85" stroke="#767676" stroke-width="1.3"/>
<line x1="177.53" y1="157.85" x2="180.69" y2="159.73" stroke="#86d83a" stroke-width="1.2"/>
<line x1="92.35" y1="167.00" x2="92.35" y2="163.45" stroke="#767676" stroke-width="1.3"/>
<line x1="92.35" y1="163.45" x2="92.35" y2="159.90" stroke="#86d83a" stroke-width="1.2"/>
<line x1="92.35" y1="167.00" x2="89.19" y2="168.88" stroke="#767676" stroke-width="1.3"/>
<line x1="89.19" y1="168.88" x2="86.04" y2="170.75" stroke="#86d83a" stroke-width="1.2"/>
<line x1="92.35" y1="167.00" x2="95.50" y2="168.88" stroke="#767676" stroke-width="1.3"/>
<line x1="95.50" y1="168.88" x2="98.66" y2="170.75" stroke="#86d83a" stroke-width="1.2"/>
<line x1="104.97" y1="167.00" x2="104.97" y2="163.45" stroke="#767676" stroke-width="1.3"/>
<line x1="104.97" y1="163.45" x2="104.97" y2="159.90" stroke="#86d83a" stroke-width="1.2"/>
<line x1="104.97" y1="167.00" x2="101.81" y2="168.88" stroke="#767676" stroke-width="1.3"/>
<line x1="101.81" y1="168.88" x2="98.66" y2="170.75" stroke="#86d83a" stroke-width="1.2"/>
<line x1="104.97" y1="167.00" x2="108.12" y2="168.88" stroke="#767676" stroke-width="1.3"/>
<line x1="108.12" y1="168.88" x2="111.28" y2="170.75" stroke="#86d83a" stroke-width="1.2"/>
<line x1="117.59" y1="167.00" x2="117.59" y2="163.45" stroke="#767676" stroke-width="1.3"/>
<line x1="117.59" y1="163.45" x2="117.59" y2="159.90" stroke="#86d83a" stroke-width="1.2"/>
<line x1="117.59" y1="167.00" x2="114.43" y2="168.88" stroke="#767676" stroke-width="1.3"/>
<line x1="114.43" y1="168.88" x2="111.28" y2="170.75" stroke="#86d83a" stroke-width="1.2"/>
<line x1="117.59" y1="167.00" x2="120.74" y2="168.88" stroke="#767676" stroke-width="1.3"/>
<line x1="120.74" y1="168.88" x2="123.90" y2="170.75" stroke="#86d83a" stroke-width="1.2"/>
<line x1="130.21" y1="167.00" x2="130.21" y2="163.45" stroke="#767676" stroke-width="1.3"/>
<line x1="130.21" y1="163.45" x2="130.21" y2="159.90" stroke="#86d83a" stroke-width="1.2"/>
<line x1="130.21" y1="167.00" x2="127.05" y2="168.88" stroke="#767676" stroke-width="1.3"/>
<line x1="127.05" y1="168.88" x2="123.90" y2="170.75" stroke="#86d83a" stroke-width="1.2"/>
<line x1="130.21" y1="167.00" x2="133.36" y2="168.88" stroke="#767676" stroke-width="1.3"/>
<line x1="133.36" y1="168.88" x2="136.52" y2="170.75" stroke="#86d83a" stroke-width="1.2"/>
<line x1="142.83" y1="167.00" x2="142.83" y2="163.45" stroke="#767676" stroke-width="1.3"/>
<line x1="142.83" y1="163.45" x2="142.83" y2="159.90" stroke="#86d83a" stroke-width="1.2"/>
<line x1="142.83" y1="167.00" x2="139.67" y2="168.88" stroke="#767676" stroke-width="1.3"/>
<line x1="139.67" y1="168.88" x2="136.52" y2="170.75" stroke="#86d83a" stroke-width="1.2"/>
<line x1="142.83" y1="167.00" x2="145.98" y2="168.88" stroke="#767676" stroke-width="1.3"/>
<line x1="145.98" y1="168.88" x2="149.14" y2="170.75" stroke="#86d83a" stroke-width="1.2"/>
<line x1="155.45" y1="167.00" x2="155.45" y2="163.45" stroke="#767676" stroke-width="1.3"/>
<line x1="155.45" y1="163.45" x2="155.45" y2="159.90" stroke="#86d83a" stroke-width="1.2"/>
<line x1="155.45" y1="167.00" x2="152.29" y2="168.88" stroke="#767676" stroke-width="1.3"/>
<line x1="152.29" y1="168.88" x2="149.14" y2="170.75" stroke="#86d83a" stroke-width="1.2"/>
<line x1="155.45" y1="167.00" x2="158.60" y2="168.88" stroke="#767676" stroke-width="1.3"/>
<line x1="158.60" y1="168.88" x2="161.76" y2="170.75" stroke="#86d83a" stroke-width="1.2"/>
<line x1="168.07" y1="167.00" x2="168.07" y2="163.45" stroke="#767676" stroke-width="1.3"/>
<line x1="168.07" y1="163.45" x2="168.07" y2="159.90" stroke="#86d83a" stroke-width="1.2"/>
<line x1="168.07" y1="167.00" x2="164.91" y2="168.88" stroke="#767676" stroke-width="1.3"/>
<line x1="164.91" y1="168.88" x2="161.76" y2="170.75" stroke="#86d83a" stroke-width="1.2"/>
<line x1="168.07" y1="167.00" x2="171.22" y2="168.88" stroke="#767676" stroke-width="1.3"/>
<line x1="171.22" y1="168.88" x2="174.38" y2="170.75" stroke="#86d83a" stroke-width="1.2"/>
<line x1="180.69" y1="167.00" x2="180.69" y2="163.45" stroke="#767676" stroke-width="1.3"/>
<line x1="180.69" y1="163.45" x2="180.69" y2="159.90" stroke="#86d83a" stroke-width="1.2"/>
<line x1="180.69" y1="167.00" x2="177.53" y2="168.88" stroke="#767676" stroke-width="1.3"/>
<line x1="177.53" y1="168.88" x2="174.38" y2="170.75" stroke="#86d83a" stroke-width="1.2"/>
<line x1="180.69" y1="167.00" x2="183.84" y2="168.88" stroke="#767676" stroke-width="1.3"/>
<line x1="183.84" y1="168.88" x2="187.00" y2="170.75" stroke="#86d83a" stroke-width="1.2"/>
<line x1="98.66" y1="178.02" x2="98.66" y2="174.47" stroke="#767676" stroke-width="1.3"/>
<line x1="98.66" y1="174.47" x2="98.66" y2="170.92" stroke="#86d83a" stroke-width="1.2"/>
<line x1="98.66" y1="178.02" x2="95.50" y2="179.89" stroke="#767676" stroke-width="1.3"/>
<line x1="95.50" y1="179.89" x2="92.35" y2="181.77" stroke="#86d83a" stroke-width="1.2"/>
<line x1="98.66" y1="178.02" x2="101.81" y2="179.89" stroke="#767676" stroke-width="1.3"/>
<line x1="101.81" y1="179.89" x2="104.97" y2="181.77" stroke="#86d83a" stroke-width="1.2"/>
<line x1="111.28" y1="178.02" x2="111.28" y2="174.47" stroke="#767676" stroke-width="1.3"/>
<line x1="111.28" y1="174.47" x2="111.28" y2="170.92" stroke="#86d83a" stroke-width="1.2"/>
<line x1="111.28" y1="178.02" x2="108.12" y2="179.89" stroke="#767676" stroke-width="1.3"/>
<line x1="108.12" y1="179.89" x2="104.97" y2="181.77" stroke="#86d83a" stroke-width="1.2"/>
<line x1="111.28" y1="178.02" x2="114.44" y2="179.89" stroke="#767676" stroke-width="1.3"/>
<line x1="114.44" y1="179.89" x2="117.59" y2="181.77" stroke="#86d83a" stroke-width="1.2"/>
<line x1="123.90" y1="178.02" x2="123.90" y2="174.47" stroke="#767676" stroke-width="1.3"/>
<line x1="123.90" y1="174.47" x2="123.90" y2="170.92" stroke="#86d83a" stroke-width="1.2"/>
<line x1="123.90" y1="178.02" x2="120.74" y2="179.89" stroke="#767676" stroke-width="1.3"/>
<line x1="120.74" y1="179.89" x2="117.59" y2="181.77" stroke="#86d83a" stroke-width="1.2"/>
<line x1="123.90" y1="178.02" x2="127.05" y2="179.89" stroke="#767676" stroke-width="1.3"/>
<line x1="127.05" y1="179.89" x2="130.21" y2="181.77" stroke="#86d83a" stroke-width="1.2"/>
<line x1="136.52" y1="178.02" x2="136.52" y2="174.47" stroke="#767676" stroke-width="1.3"/>
<line x1="136.52" y1="174.47" x2="136.52" y2="170.92" stroke="#86d83a" stroke-width="1.2"/>
<line x1="136.52" y1="178.02" x2="133.36" y2="179.89" stroke="#767676" stroke-width="1.3"/>
<line x1="133.36" y1="179.89" x2="130.21" y2="181.77" stroke="#86d83a" stroke-width="1.2"/>
<line x1="136.52" y1="178.02" x2="139.67" y2="179.89" stroke="#767676" stroke-width="1.3"/>
<line x1="139.67" y1="179.89" x2="142.83" y2="181.77" stroke="#86d83a" stroke-width="1.2"/>
<line x1="149.14" y1="178.02" x2="149.14" y2="174.47" stroke="#767676" stroke-width="1.3"/>
<line x1="149.14" y1="174.47" x2="149.14" y2="170.92" stroke="#86d83a" stroke-width="1.2"/>
<line x1="149.14" y1="178.02" x2="145.98" y2="179.89" stroke="#767676" stroke-width="1.3"/>
<line x1="145.98" y1="179.89" x2="142.83" y2="181.77" stroke="#86d83a" stroke-width="1.2"/>
<line x1="149.14" y1="178.02" x2="152.29" y2="179.89" stroke="#767676" stroke-width="1.3"/>
<line x1="152.29" y1="179.89" x2="155.45" y2="181.77" stroke="#86d83a" stroke-width="1.2"/>
<line x1="161.76" y1="178.02" x2="161.76" y2="174.47" stroke="#767676" stroke-width="1.3"/>
<line x1="161.76" y1="174.47" x2="161.76" y2="170.92" stroke="#86d83a" stroke-width="1.2"/>
<line x1="161.76" y1="178.02" x2="158.60" y2="179.89" stroke="#767676" stroke-width="1.3"/>
<line x1="158.60" y1="179.89" x2="155.45" y2="181.77" stroke="#86d83a" stroke-width="1.2"/>
<line x1="161.76" y1="178.02" x2="164.91" y2="179.89" stroke="#767676" stroke-width="1.3"/>
<line x1="164.91" y1="179.89" x2="168.07" y2="181.77" stroke="#86d83a" stroke-width="1.2"/>
<line x1="174.38" y1="178.02" x2="174.38" y2="174.47" stroke="#767676" stroke-width="1.3"/>
<line x1="174.38" y1="174.47" x2="174.38" y2="170.92" stroke="#86d83a" stroke-width="1.2"/>
<line x1="174.38" y1="178.02" x2="171.22" y2="179.89" stroke="#767676" stroke-width="1.3"/>
<line x1="171.22" y1="179.89" x2="168.07" y2="181.77" stroke="#86d83a" stroke-width="1.2"/>
<line x1="174.38" y1="178.02" x2="177.53" y2="179.89" stroke="#767676" stroke-width="1.3"/>
<line x1="177.53" y1="179.89" x2="180.69" y2="181.77" stroke="#86d83a" stroke-width="1.2"/>
<line x1="187.00" y1="178.02" x2="187.00" y2="174.47" stroke="#767676" stroke-width="1.3"/>
<line x1="187.00" y1="174.47" x2="187.00" y2="170.92" stroke="#86d83a" stroke-width="1.2"/>
<line x1="187.00" y1="178.02" x2="183.84" y2="179.89" stroke="#767676" stroke-width="1.3"/>
<line x1="183.84" y1="179.89" x2="180.69" y2="181.77" stroke="#86d83a" stroke-width="1.2"/>
<line x1="187.00" y1="178.02" x2="190.16" y2="179.89" stroke="#767676" stroke-width="1.3"/>
<line x1="190.16" y1="179.89" x2="193.31" y2="181.77" stroke="#86d83a" stroke-width="1.2"/>
<line x1="104.97" y1="189.04" x2="104.97" y2="185.49" stroke="#767676" stroke-width="1.3"/>
<line x1="104.97" y1="185.49" x2="104.97" y2="181.94" stroke="#86d83a" stroke-width="1.2"/>
<line x1="104.97" y1="189.04" x2="101.81" y2="190.91" stroke="#767676" stroke-width="1.3"/>
<line x1="101.81" y1="190.91" x2="98.66" y2="192.79" stroke="#86d83a" stroke-width="1.2"/>
<line x1="104.97" y1="189.04" x2="108.12" y2="190.91" stroke="#767676" stroke-width="1.3"/>
<line x1="108.12" y1="190.91" x2="111.28" y2="192.79" stroke="#86d83a" stroke-width="1.2"/>
<line x1="117.59" y1="189.04" x2="117.59" y2="185.49" stroke="#767676" stroke-width="1.3"/>
<line x1="117.59" y1="185.49" x2="117.59" y2="181.94" stroke="#86d83a" stroke-width="1.2"/>
<line x1="117.59" y1="189.04" x2="114.44" y2="190.91" stroke="#767676" stroke-width="1.3"/>
<line x1="114.44" y1="190.91" x2="111.28" y2="192.79" stroke="#86d83a" stroke-width="1.2"/>
<line x1="117.59" y1="189.04" x2="120.75" y2="190.91" stroke="#767676" stroke-width="1.3"/>
<line x1="120.75" y1="190.91" x2="123.90" y2="192.79" stroke="#86d83a" stroke-width="1.2"/>
<line x1="130.21" y1="189.04" x2="130.21" y2="185.49" stroke="#767676" stroke-width="1.3"/>
<line x1="130.21" y1="185.49" x2="130.21" y2="181.94" stroke="#86d83a" stroke-width="1.2"/>
<line x1="130.21" y1="189.04" x2="127.05" y2="190.91" stroke="#767676" stroke-width="1.3"/>
<line x1="127.05" y1="190.91" x2="123.90" y2="192.79" stroke="#86d83a" stroke-width="1.2"/>
<line x1="130.21" y1="189.04" x2="133.36" y2="190.91" stroke="#767676" stroke-width="1.3"/>
<line x1="133.36" y1="190.91" x2="136.52" y2="192.79" stroke="#86d83a" stroke-width="1.2"/>
<line x1="142.83" y1="189.04" x2="142.83" y2="185.49" stroke="#767676" stroke-width="1.3"/>
<line x1="142.83" y1="185.49" x2="142.83" y2="181.94" stroke="#86d83a" stroke-width="1.2"/>
<line x1="142.83" y1="189.04" x2="139.67" y2="190.91" stroke="#767676" stroke-width="1.3"/>
<line x1="139.67" y1="190.91" x2="136.52" y2="192.79" stroke="#86d83a" stroke-width="1.2"/>
<line x1="142.83" y1="189.04" x2="145.98" y2="190.91" stroke="#767676" stroke-width="1.3"/>
<line x1="145.98" y1="190.91" x2="149.14" y2="192.79" stroke="#86d83a" stroke-width="1.2"/>
<line x1="155.45" y1="189.04" x2="155.45" y2="185.49" stroke="#767676" stroke-width="1.3"/>
<line x1="155.45" y1="185.49" x2="155.45" y2="181.94" stroke="#86d83a" stroke-width="1.2"/>
<line x1="155.45" y1="189.04" x2="152.29" y2="190.91" stroke="#767676" stroke-width="1.3"/>
<line x1="152.29" y1="190.91" x2="149.14" y2="192.79" stroke="#86d83a" stroke-width="1.2"/>
<line x1="155.45" y1="189.04" x2="158.60" y2="190.91" stroke="#767676" stroke-width="1.3"/>
<line x1="158.60" y1="190.91" x2="161.76" y2="192.79" stroke="#86d83a" stroke-width="1.2"/>
<line x1="168.07" y1="189.04" x2="168.07" y2="185.49" stroke="#767676" stroke-width="1.3"/>
<line x1="168.07" y1="185.49" x2="168.07" y2="181.94" stroke="#86d83a" stroke-width="1.2"/>
<line x1="168.07" y1="189.04" x2="164.91" y2="190.91" stroke="#767676" stroke-width="1.3"/>
<line x1="164.91" y1="190.91" x2="161.76" y2="192.79" stroke="#86d83a" stroke-width="1.2"/>
<line x1="168.07" y1="189.04" x2="171.22" y2="190.91" stroke="#767676" stroke-width="1.3"/>
<line x1="171.22" y1="190.91" x2="174.38" y2="192.79" stroke="#86d83a" stroke-width="1.2"/>
<line x1="180.69" y1="189.04" x2="180.69" y2="185.49" stroke="#767676" stroke-width="1.3"/>
<line x1="180.69" y1="185.49" x2="180.69" y2="181.94" stroke="#86d83a" stroke-width="1.2"/>
<line x1="180.69" y1="189.04" x2="177.53" y2="190.91" stroke="#767676" stroke-width="1.3"/>
<line x1="177.53" y1="190.91" x2="174.38" y2="192.79" stroke="#86d83a" stroke-width="1.2"/>
<line x1="180.69" y1="189.04" x2="183.84" y2="190.91" stroke="#767676" stroke-width="1.3"/>
<line x1="183.84" y1="190.91" x2="187.00" y2="192.79" stroke="#86d83a" stroke-width="1.2"/>
<line x1="193.31" y1="189.04" x2="193.31" y2="185.49" stroke="#767676" stroke-width="1.3"/>
<line x1="193.31" y1="185.49" x2="193.31" y2="181.94" stroke="#86d83a" stroke-width="1.2"/>
<line x1="193.31" y1="189.04" x2="190.15" y2="190.91" stroke="#767676" stroke-width="1.3"/>
<line x1="190.15" y1="190.91" x2="187.00" y2="192.79" stroke="#86d83a" stroke-width="1.2"/>
<line x1="193.31" y1="189.04" x2="196.46" y2="190.91" stroke="#767676" stroke-width="1.3"/>
<line x1="196.46" y1="190.91" x2="199.62" y2="192.79" stroke="#86d83a" stroke-width="1.2"/>
<circle cx="60.80" cy="104.80" r="2.3" fill="#a2e065"/>
<circle cx="54.49" cy="115.65" r="2.3" fill="#a2e065"/>
<circle cx="67.11" cy="115.65" r="1.9" fill="#86d83a"/>
<circle cx="73.42" cy="104.80" r="2.3" fill="#a2e065"/>
<circle cx="79.73" cy="115.65" r="1.9" fill="#86d83a"/>
<circle cx="86.04" cy="104.80" r="2.3" fill="#a2e065"/>
<circle cx="92.35" cy="115.65" r="1.9" fill="#86d83a"/>
<circle cx="98.66" cy="104.80" r="2.3" fill="#a2e065"/>
<circle cx="104.97" cy="115.65" r="1.9" fill="#86d83a"/>
<circle cx="111.28" cy="104.80" r="2.3" fill="#a2e065"/>
<circle cx="117.59" cy="115.65" r="1.9" fill="#86d83a"/>
<circle cx="123.90" cy="104.80" r="2.3" fill="#a2e065"/>
<circle cx="130.21" cy="115.65" r="1.9" fill="#86d83a"/>
<circle cx="136.52" cy="104.80" r="2.3" fill="#a2e065"/>
<circle cx="142.83" cy="115.65" r="1.9" fill="#86d83a"/>
<circle cx="149.14" cy="104.80" r="2.3" fill="#a2e065"/>
<circle cx="155.45" cy="115.65" r="1.9" fill="#86d83a"/>
<circle cx="60.80" cy="126.67" r="2.3" fill="#a2e065"/>
<circle cx="73.42" cy="126.67" r="1.9" fill="#86d83a"/>
<circle cx="86.04" cy="126.67" r="1.9" fill="#86d83a"/>
<circle cx="98.66" cy="126.67" r="1.9" fill="#86d83a"/>
<circle cx="111.28" cy="126.67" r="1.9" fill="#86d83a"/>
<circle cx="123.90" cy="126.67" r="1.9" fill="#d2e03a"/>
<circle cx="136.52" cy="126.67" r="1.9" fill="#86d83a"/>
<circle cx="149.14" cy="126.67" r="1.9" fill="#86d83a"/>
<circle cx="161.76" cy="126.67" r="1.9" fill="#86d83a"/>
<circle cx="67.11" cy="137.69" r="2.3" fill="#a2e065"/>
<circle cx="79.73" cy="137.69" r="1.9" fill="#86d83a"/>
<circle cx="92.35" cy="137.69" r="1.9" fill="#86d83a"/>
<circle cx="104.97" cy="137.69" r="1.9" fill="#86d83a"/>
<circle cx="117.59" cy="137.69" r="1.9" fill="#86d83a"/>
<circle cx="130.21" cy="137.69" r="1.9" fill="#86d83a"/>
<circle cx="142.83" cy="137.69" r="1.9" fill="#86d83a"/>
<circle cx="155.45" cy="137.69" r="1.9" fill="#86d83a"/>
<circle cx="168.07" cy="137.69" r="1.9" fill="#86d83a"/>
<circle cx="73.42" cy="148.71" r="2.3" fill="#a2e065"/>
<circle cx="86.04" cy="148.71" r="1.9" fill="#86d83a"/>
<circle cx="98.66" cy="148.71" r="1.9" fill="#86d83a"/>
<circle cx="111.28" cy="148.71" r="1.9" fill="#86d83a"/>
<circle cx="123.90" cy="148.71" r="1.9" fill="#86d83a"/>
<circle cx="136.52" cy="148.71" r="1.9" fill="#86d83a"/>
<circle cx="149.14" cy="148.71" r="1.9" fill="#86d83a"/>
<circle cx="161.76" cy="148.71" r="1.9" fill="#86d83a"/>
<circle cx="174.38" cy="148.71" r="1.9" fill="#86d83a"/>
<circle cx="79.73" cy="159.73" r="2.3" fill="#a2e065"/>
<circle cx="92.35" cy="159.73" r="1.9" fill="#86d83a"/>
<circle cx="104.97" cy="159.73" r="1.9" fill="#86d83a"/>
<circle cx="117.59" cy="159.73" r="1.9" fill="#86d83a"/>
<circle cx="130.21" cy="159.73" r="1.9" fill="#86d83a"/>
<circle cx="142.83" cy="159.73" r="1.9" fill="#86d83a"/>
<circle cx="155.45" cy="159.73" r="1.9" fill="#86d83a"/>
<circle cx="168.07" cy="159.73" r="1.9" fill="#86d83a"/>
<circle cx="180.69" cy="159.73" r="1.9" fill="#86d83a"/>
<circle cx="86.04" cy="170.75" r="2.3" fill="#a2e065"/>
<circle cx="98.66" cy="170.75" r="1.9" fill="#d2e03a"/>
<circle cx="111.28" cy="170.75" r="1.9" fill="#86d83a"/>
<circle cx="123.90" cy="170.75" r="1.9" fill="#86d83a"/>
<circle cx="136.52" cy="170.75" r="1.9" fill="#86d83a"/>
<circle cx="149.14" cy="170.75" r="1.9" fill="#86d83a"/>
<circle cx="161.76" cy="170.75" r="1.9" fill="#86d83a"/>
<circle cx="174.38" cy="170.75" r="1.9" fill="#86d83a"/>
<circle cx="187.00" cy="170.75" r="1.9" fill="#86d83a"/>
<circle cx="92.35" cy="181.77" r="2.3" fill="#a2e065"/>
<circle cx="104.97" cy="181.77" r="1.9" fill="#86d83a"/>
<circle cx="117.59" cy="181.77" r="1.9" fill="#86d83a"/>
<circle cx="130.21" cy="181.77" r="1.9" fill="#86d83a"/>
<circle cx="142.83" cy="181.77" r="1.9" fill="#86d83a"/>
<circle cx="155.45" cy="181.77" r="1.9" fill="#86d83a"/>
<circle cx="168.07" cy="181.77" r="1.9" fill="#86d83a"/>
<circle cx="180.69" cy="181.77" r="1.9" fill="#86d83a"/>
<circle cx="193.31" cy="181.77" r="1.9" fill="#86d83a"/>
<circle cx="98.66" cy="192.79" r="2.3" fill="#a2e065"/>
<circle cx="111.28" cy="192.79" r="1.9" fill="#86d83a"/>
<circle cx="123.90" cy="192.79" r="1.9" fill="#86d83a"/>
<circle cx="136.52" cy="192.79" r="1.9" fill="#86d83a"/>
<circle cx="149.14" cy="192.79" r="1.9" fill="#86d83a"/>
<circle cx="161.76" cy="192.79" r="1.9" fill="#86d83a"/>
<circle cx="174.38" cy="192.79" r="1.9" fill="#86d83a"/>
<circle cx="187.00" cy="192.79" r="1.9" fill="#86d83a"/>
<circle cx="199.62" cy="192.79" r="2.3" fill="#a2e065"/>
<circle cx="60.80" cy="111.90" r="1.9" fill="#cfcfcf" stroke="#656565" stroke-width="0.9"/>
<circle cx="73.42" cy="111.90" r="1.9" fill="#cfcfcf" stroke="#656565" stroke-width="0.9"/>
<circle cx="86.04" cy="111.90" r="1.9" fill="#cfcfcf" stroke="#656565" stroke-width="0.9"/>
<circle cx="98.66" cy="111.90" r="1.9" fill="#cfcfcf" stroke="#656565" stroke-width="0.9"/>
<circle cx="111.28" cy="111.90" r="1.9" fill="#cfcfcf" stroke="#656565" stroke-width="0.9"/>
<circle cx="123.90" cy="111.90" r="1.9" fill="#cfcfcf" stroke="#656565" stroke-width="0.9"/>
<circle cx="136.52" cy="111.90" r="1.9" fill="#cfcfcf" stroke="#656565" stroke-width="0.9"/>
<circle cx="149.14" cy="111.90" r="1.9" fill="#cfcfcf" stroke="#656565" stroke-width="0.9"/>
<circle cx="67.11" cy="122.92" r="1.9" fill="#cfcfcf" stroke="#656565" stroke-width="0.9"/>
<circle cx="79.73" cy="122.92" r="1.9" fill="#cfcfcf" stroke="#656565" stroke-width="0.9"/>
<circle cx="92.35" cy="122.92" r="1.9" fill="#cfcfcf" stroke="#656565" stroke-width="0.9"/>
<circle cx="104.97" cy="122.92" r="1.9" fill="#cfcfcf" stroke="#656565" stroke-width="0.9"/>
<circle cx="117.59" cy="122.92" r="1.9" fill="#cfcfcf" stroke="#656565" stroke-width="0.9"/>
<circle cx="130.21" cy="122.92" r="1.9" fill="#cfcfcf" stroke="#656565" stroke-width="0.9"/>
<circle cx="142.83" cy="122.92" r="1.9" fill="#cfcfcf" stroke="#656565" stroke-width="0.9"/>
<circle cx="155.45" cy="122.92" r="1.9" fill="#cfcfcf" stroke="#656565" stroke-width="0.9"/>
<circle cx="73.42" cy="133.94" r="1.9" fill="#cfcfcf" stroke="#656565" stroke-width="0.9"/>
<circle cx="86.04" cy="133.94" r="1.9" fill="#cfcfcf" stroke="#656565" stroke-width="0.9"/>
<circle cx="98.66" cy="133.94" r="1.9" fill="#cfcfcf" stroke="#656565" stroke-width="0.9"/>
<circle cx="111.28" cy="133.94" r="1.9" fill="#cfcfcf" stroke="#656565" stroke-width="0.9"/>
<circle cx="123.90" cy="133.94" r="1.9" fill="#cfcfcf" stroke="#656565" stroke-width="0.9"/>
<circle cx="136.52" cy="133.94" r="1.9" fill="#cfcfcf" stroke="#656565" stroke-width="0.9"/>
<circle cx="149.14" cy="133.94" r="1.9" fill="#cfcfcf" stroke="#656565" stroke-width="0.9"/>
<circle cx="161.76" cy="133.94" r="1.9" fill="#cfcfcf" stroke="#656565" stroke-width="0.9"/>
<circle cx="79.73" cy="144.96" r="1.9" fill="#cfcfcf" stroke="#656565" stroke-width="0.9"/>
<circle cx="92.35" cy="144.96" r="1.9" fill="#cfcfcf" stroke="#656565" stroke-width="0.9"/>
<circle cx="104.97" cy="144.96" r="1.9" fill="#cfcfcf" stroke="#656565" stroke-width="0.9"/>
<circle cx="117.59" cy="144.96" r="1.9" fill="#cfcfcf" stroke="#656565" stroke-width="0.9"/>
<circle cx="130.21" cy="144.96" r="1.9" fill="#cfcfcf" stroke="#656565" stroke-width="0.9"/>
<circle cx="142.83" cy="144.96" r="1.9" fill="#cfcfcf" stroke="#656565" stroke-width="0.9"/>
<circle cx="155.45" cy="144.96" r="1.9" fill="#cfcfcf" stroke="#656565" stroke-width="0.9"/>
<circle cx="168.07" cy="144.96" r="1.9" fill="#cfcfcf" stroke="#656565" stroke-width="0.9"/>
<circle cx="86.04" cy="155.98" r="1.9" fill="#cfcfcf" stroke="#656565" stroke-width="0.9"/>
<circle cx="98.66" cy="155.98" r="1.9" fill="#cfcfcf" stroke="#656565" stroke-width="0.9"/>
<circle cx="111.28" cy="155.98" r="1.9" fill="#cfcfcf" stroke="#656565" stroke-width="0.9"/>
<circle cx="123.90" cy="155.98" r="1.9" fill="#cfcfcf" stroke="#656565" stroke-width="0.9"/>
<circle cx="136.52" cy="155.98" r="1.9" fill="#cfcfcf" stroke="#656565" stroke-width="0.9"/>
<circle cx="149.14" cy="155.98" r="1.9" fill="#cfcfcf" stroke="#656565" stroke-width="0.9"/>
<circle cx="161.76" cy="155.98" r="1.9" fill="#cfcfcf" stroke="#656565" stroke-width="0.9"/>
<circle cx="174.38" cy="155.98" r="1.9" fill="#cfcfcf" stroke="#656565" stroke-width="0.9"/>
<circle cx="92.35" cy="167.00" r="1.9" fill="#cfcfcf" stroke="#656565" stroke-width="0.9"/>
<circle cx="104.97" cy="167.00" r="1.9" fill="#cfcfcf" stroke="#656565" stroke-width="0.9"/>
<circle cx="117.59" cy="167.00" r="1.9" fill="#cfcfcf" stroke="#656565" stroke-width="0.9"/>
<circle cx="130.21" cy="167.00" r="1.9" fill="#cfcfcf" stroke="#656565" stroke-width="0.9"/>
<circle cx="142.83" cy="167.00" r="1.9" fill="#cfcfcf" stroke="#656565" stroke-width="0.9"/>
<circle cx="155.45" cy="167.00" r="1.9" fill="#cfcfcf" stroke="#656565" stroke-width="0.9"/>
<circle cx="168.07" cy="167.00" r="1.9" fill="#cfcfcf" stroke="#656565" stroke-width="0.9"/>
<circle cx="180.69" cy="167.00" r="1.9" fill="#cfcfcf" stroke="#656565" stroke-width="0.9"/>
<circle cx="98.66" cy="178.02" r="1.9" fill="#cfcfcf" stroke="#656565" stroke-width="0.9"/>
<circle cx="111.28" cy="178.02" r="1.9" fill="#cfcfcf" stroke="#656565" stroke-width="0.9"/>
<circle cx="123.90" cy="178.02" r="1.9" fill="#cfcfcf" stroke="#656565" stroke-width="0.9"/>
<circle cx="136.52" cy="178.02" r="1.9" fill="#cfcfcf" stroke="#656565" stroke-width="0.9"/>
<circle cx="149.14" cy="178.02" r="1.9" fill="#cfcfcf" stroke="#656565" stroke-width="0.9"/>
<circle cx="161.76" cy="178.02" r="1.9" fill="#cfcfcf" stroke="#656565" stroke-width="0.9"/>
<circle cx="174.38" cy="178.02" r="1.9" fill="#cfcfcf" stroke="#656565" stroke-width="0.9"/>
<circle cx="187.00" cy="178.02" r="1.9" fill="#cfcfcf" stroke="#656565" stroke-width="0.9"/>
<circle cx="104.97" cy="189.04" r="1.9" fill="#cfcfcf" stroke="#656565" stroke-width="0.9"/>
<circle cx="117.59" cy="189.04" r="1.9" fill="#cfcfcf" stroke="#656565" stroke-width="0.9"/>
<circle cx="130.21" cy="189.04" r="1.9" fill="#cfcfcf" stroke="#656565" stroke-width="0.9"/>
<circle cx="142.83" cy="189.04" r="1.9" fill="#cfcfcf" stroke="#656565" stroke-width="0.9"/>
<circle cx="155.45" cy="189.04" r="1.9" fill="#cfcfcf" stroke="#656565" stroke-width="0.9"/>
<circle cx="168.07" cy="189.04" r="1.9" fill="#cfcfcf" stroke="#656565" stroke-width="0.9"/>
<circle cx="180.69" cy="189.04" r="1.9" fill="#cfcfcf" stroke="#656565" stroke-width="0.9"/>
<circle cx="193.31" cy="189.04" r="1.9" fill="#cfcfcf" stroke="#656565" stroke-width="0.9"/>
<circle cx="123.90" cy="126.84" r="5.2" fill="none" stroke="#d4733a" stroke-width="1.3"/>
<circle cx="98.66" cy="170.92" r="5.2" fill="none" stroke="#d4733a" stroke-width="1.3"/>
<polygon points="240.4,72.5 347.4,72.5 398.8,160.7 291.8,160.7" fill="none" stroke="#d8d8d8" stroke-width="0.7"/>
<polygon points="243.4,73.7 343.4,73.7 392.3,157.7 294.3,157.7" fill="none" stroke="#e2e2e2" stroke-width="0.6"/>
<line x1="248.40" y1="76.10" x2="248.40" y2="72.55" stroke="#767676" stroke-width="1.3"/>
<line x1="248.40" y1="72.55" x2="248.40" y2="69.00" stroke="#86d83a" stroke-width="1.2"/>
<line x1="248.40" y1="76.10" x2="245.25" y2="77.97" stroke="#767676" stroke-width="1.3"/>
<line x1="245.25" y1="77.97" x2="242.09" y2="79.85" stroke="#86d83a" stroke-width="1.2"/>
<line x1="248.40" y1="76.10" x2="251.56" y2="77.97" stroke="#767676" stroke-width="1.3"/>
<line x1="251.56" y1="77.97" x2="254.71" y2="79.85" stroke="#86d83a" stroke-width="1.2"/>
<line x1="261.02" y1="76.10" x2="261.02" y2="72.55" stroke="#767676" stroke-width="1.3"/>
<line x1="261.02" y1="72.55" x2="261.02" y2="69.00" stroke="#86d83a" stroke-width="1.2"/>
<line x1="261.02" y1="76.10" x2="257.87" y2="77.97" stroke="#767676" stroke-width="1.3"/>
<line x1="257.87" y1="77.97" x2="254.71" y2="79.85" stroke="#86d83a" stroke-width="1.2"/>
<line x1="261.02" y1="76.10" x2="264.17" y2="77.97" stroke="#767676" stroke-width="1.3"/>
<line x1="264.17" y1="77.97" x2="267.33" y2="79.85" stroke="#86d83a" stroke-width="1.2"/>
<line x1="273.64" y1="76.10" x2="273.64" y2="72.55" stroke="#767676" stroke-width="1.3"/>
<line x1="273.64" y1="72.55" x2="273.64" y2="69.00" stroke="#86d83a" stroke-width="1.2"/>
<line x1="273.64" y1="76.10" x2="270.49" y2="77.97" stroke="#767676" stroke-width="1.3"/>
<line x1="270.49" y1="77.97" x2="267.33" y2="79.85" stroke="#86d83a" stroke-width="1.2"/>
<line x1="273.64" y1="76.10" x2="276.79" y2="77.97" stroke="#767676" stroke-width="1.3"/>
<line x1="276.79" y1="77.97" x2="279.95" y2="79.85" stroke="#86d83a" stroke-width="1.2"/>
<line x1="286.26" y1="76.10" x2="286.26" y2="72.55" stroke="#767676" stroke-width="1.3"/>
<line x1="286.26" y1="72.55" x2="286.26" y2="69.00" stroke="#86d83a" stroke-width="1.2"/>
<line x1="286.26" y1="76.10" x2="283.11" y2="77.97" stroke="#767676" stroke-width="1.3"/>
<line x1="283.11" y1="77.97" x2="279.95" y2="79.85" stroke="#86d83a" stroke-width="1.2"/>
<line x1="286.26" y1="76.10" x2="289.41" y2="77.97" stroke="#767676" stroke-width="1.3"/>
<line x1="289.41" y1="77.97" x2="292.57" y2="79.85" stroke="#86d83a" stroke-width="1.2"/>
<line x1="298.88" y1="76.10" x2="298.88" y2="72.55" stroke="#767676" stroke-width="1.3"/>
<line x1="298.88" y1="72.55" x2="298.88" y2="69.00" stroke="#86d83a" stroke-width="1.2"/>
<line x1="298.88" y1="76.10" x2="295.73" y2="77.97" stroke="#767676" stroke-width="1.3"/>
<line x1="295.73" y1="77.97" x2="292.57" y2="79.85" stroke="#86d83a" stroke-width="1.2"/>
<line x1="298.88" y1="76.10" x2="302.03" y2="77.97" stroke="#767676" stroke-width="1.3"/>
<line x1="302.03" y1="77.97" x2="305.19" y2="79.85" stroke="#86d83a" stroke-width="1.2"/>
<line x1="311.50" y1="76.10" x2="311.50" y2="72.55" stroke="#767676" stroke-width="1.3"/>
<line x1="311.50" y1="72.55" x2="311.50" y2="69.00" stroke="#86d83a" stroke-width="1.2"/>
<line x1="311.50" y1="76.10" x2="308.35" y2="77.97" stroke="#767676" stroke-width="1.3"/>
<line x1="308.35" y1="77.97" x2="305.19" y2="79.85" stroke="#86d83a" stroke-width="1.2"/>
<line x1="311.50" y1="76.10" x2="314.65" y2="77.97" stroke="#767676" stroke-width="1.3"/>
<line x1="314.65" y1="77.97" x2="317.81" y2="79.85" stroke="#86d83a" stroke-width="1.2"/>
<line x1="324.12" y1="76.10" x2="324.12" y2="72.55" stroke="#767676" stroke-width="1.3"/>
<line x1="324.12" y1="72.55" x2="324.12" y2="69.00" stroke="#86d83a" stroke-width="1.2"/>
<line x1="324.12" y1="76.10" x2="320.97" y2="77.97" stroke="#767676" stroke-width="1.3"/>
<line x1="320.97" y1="77.97" x2="317.81" y2="79.85" stroke="#86d83a" stroke-width="1.2"/>
<line x1="324.12" y1="76.10" x2="327.27" y2="77.97" stroke="#767676" stroke-width="1.3"/>
<line x1="327.27" y1="77.97" x2="330.43" y2="79.85" stroke="#86d83a" stroke-width="1.2"/>
<line x1="336.74" y1="76.10" x2="336.74" y2="72.55" stroke="#767676" stroke-width="1.3"/>
<line x1="336.74" y1="72.55" x2="336.74" y2="69.00" stroke="#86d83a" stroke-width="1.2"/>
<line x1="336.74" y1="76.10" x2="333.59" y2="77.97" stroke="#767676" stroke-width="1.3"/>
<line x1="333.59" y1="77.97" x2="330.43" y2="79.85" stroke="#86d83a" stroke-width="1.2"/>
<line x1="336.74" y1="76.10" x2="339.89" y2="77.97" stroke="#767676" stroke-width="1.3"/>
<line x1="339.89" y1="77.97" x2="343.05" y2="79.85" stroke="#86d83a" stroke-width="1.2"/>
<line x1="254.71" y1="87.05" x2="254.71" y2="83.50" stroke="#767676" stroke-width="1.3"/>
<line x1="254.71" y1="83.50" x2="254.71" y2="79.95" stroke="#86d83a" stroke-width="1.2"/>
<line x1="254.71" y1="87.05" x2="251.56" y2="88.92" stroke="#767676" stroke-width="1.3"/>
<line x1="251.56" y1="88.92" x2="248.40" y2="90.80" stroke="#86d83a" stroke-width="1.2"/>
<line x1="254.71" y1="87.05" x2="257.87" y2="88.92" stroke="#767676" stroke-width="1.3"/>
<line x1="257.87" y1="88.92" x2="261.02" y2="90.80" stroke="#86d83a" stroke-width="1.2"/>
<line x1="267.33" y1="87.05" x2="267.33" y2="83.50" stroke="#767676" stroke-width="1.3"/>
<line x1="267.33" y1="83.50" x2="267.33" y2="79.95" stroke="#86d83a" stroke-width="1.2"/>
<line x1="267.33" y1="87.05" x2="264.17" y2="88.92" stroke="#767676" stroke-width="1.3"/>
<line x1="264.17" y1="88.92" x2="261.02" y2="90.80" stroke="#86d83a" stroke-width="1.2"/>
<line x1="267.33" y1="87.05" x2="270.49" y2="88.92" stroke="#767676" stroke-width="1.3"/>
<line x1="270.49" y1="88.92" x2="273.64" y2="90.80" stroke="#86d83a" stroke-width="1.2"/>
<line x1="279.95" y1="87.05" x2="279.95" y2="83.50" stroke="#767676" stroke-width="1.3"/>
<line x1="279.95" y1="83.50" x2="279.95" y2="79.95" stroke="#86d83a" stroke-width="1.2"/>
<line x1="279.95" y1="87.05" x2="276.79" y2="88.92" stroke="#767676" stroke-width="1.3"/>
<line x1="276.79" y1="88.92" x2="273.64" y2="90.80" stroke="#86d83a" stroke-width="1.2"/>
<line x1="279.95" y1="87.05" x2="283.11" y2="88.92" stroke="#767676" stroke-width="1.3"/>
<line x1="283.11" y1="88.92" x2="286.26" y2="90.80" stroke="#86d83a" stroke-width="1.2"/>
<line x1="292.57" y1="87.05" x2="292.57" y2="83.50" stroke="#767676" stroke-width="1.3"/>
<line x1="292.57" y1="83.50" x2="292.57" y2="79.95" stroke="#86d83a" stroke-width="1.2"/>
<line x1="292.57" y1="87.05" x2="289.41" y2="88.92" stroke="#767676" stroke-width="1.3"/>
<line x1="289.41" y1="88.92" x2="286.26" y2="90.80" stroke="#86d83a" stroke-width="1.2"/>
<line x1="292.57" y1="87.05" x2="295.73" y2="88.92" stroke="#767676" stroke-width="1.3"/>
<line x1="295.73" y1="88.92" x2="298.88" y2="90.80" stroke="#86d83a" stroke-width="1.2"/>
<line x1="305.19" y1="87.05" x2="305.19" y2="83.50" stroke="#767676" stroke-width="1.3"/>
<line x1="305.19" y1="83.50" x2="305.19" y2="79.95" stroke="#86d83a" stroke-width="1.2"/>
<line x1="305.19" y1="87.05" x2="302.03" y2="88.92" stroke="#767676" stroke-width="1.3"/>
<line x1="302.03" y1="88.92" x2="298.88" y2="90.80" stroke="#86d83a" stroke-width="1.2"/>
<line x1="305.19" y1="87.05" x2="308.35" y2="88.92" stroke="#767676" stroke-width="1.3"/>
<line x1="308.35" y1="88.92" x2="311.50" y2="90.80" stroke="#86d83a" stroke-width="1.2"/>
<line x1="317.81" y1="87.05" x2="317.81" y2="83.50" stroke="#767676" stroke-width="1.3"/>
<line x1="317.81" y1="83.50" x2="317.81" y2="79.95" stroke="#86d83a" stroke-width="1.2"/>
<line x1="317.81" y1="87.05" x2="314.65" y2="88.92" stroke="#767676" stroke-width="1.3"/>
<line x1="314.65" y1="88.92" x2="311.50" y2="90.80" stroke="#86d83a" stroke-width="1.2"/>
<line x1="317.81" y1="87.05" x2="320.97" y2="88.92" stroke="#767676" stroke-width="1.3"/>
<line x1="320.97" y1="88.92" x2="324.12" y2="90.80" stroke="#86d83a" stroke-width="1.2"/>
<line x1="330.43" y1="87.05" x2="330.43" y2="83.50" stroke="#767676" stroke-width="1.3"/>
<line x1="330.43" y1="83.50" x2="330.43" y2="79.95" stroke="#86d83a" stroke-width="1.2"/>
<line x1="330.43" y1="87.05" x2="327.27" y2="88.92" stroke="#767676" stroke-width="1.3"/>
<line x1="327.27" y1="88.92" x2="324.12" y2="90.80" stroke="#86d83a" stroke-width="1.2"/>
<line x1="330.43" y1="87.05" x2="333.59" y2="88.92" stroke="#767676" stroke-width="1.3"/>
<line x1="333.59" y1="88.92" x2="336.74" y2="90.80" stroke="#86d83a" stroke-width="1.2"/>
<line x1="343.05" y1="87.05" x2="343.05" y2="83.50" stroke="#767676" stroke-width="1.3"/>
<line x1="343.05" y1="83.50" x2="343.05" y2="79.95" stroke="#86d83a" stroke-width="1.2"/>
<line x1="343.05" y1="87.05" x2="339.89" y2="88.92" stroke="#767676" stroke-width="1.3"/>
<line x1="339.89" y1="88.92" x2="336.74" y2="90.80" stroke="#86d83a" stroke-width="1.2"/>
<line x1="343.05" y1="87.05" x2="346.21" y2="88.92" stroke="#767676" stroke-width="1.3"/>
<line x1="346.21" y1="88.92" x2="349.36" y2="90.80" stroke="#86d83a" stroke-width="1.2"/>
<line x1="261.02" y1="98.00" x2="261.02" y2="94.45" stroke="#767676" stroke-width="1.3"/>
<line x1="261.02" y1="94.45" x2="261.02" y2="90.90" stroke="#86d83a" stroke-width="1.2"/>
<line x1="261.02" y1="98.00" x2="257.87" y2="99.88" stroke="#767676" stroke-width="1.3"/>
<line x1="257.87" y1="99.88" x2="254.71" y2="101.75" stroke="#86d83a" stroke-width="1.2"/>
<line x1="261.02" y1="98.00" x2="264.17" y2="99.88" stroke="#767676" stroke-width="1.3"/>
<line x1="264.17" y1="99.88" x2="267.33" y2="101.75" stroke="#86d83a" stroke-width="1.2"/>
<line x1="273.64" y1="98.00" x2="273.64" y2="94.45" stroke="#767676" stroke-width="1.3"/>
<line x1="273.64" y1="94.45" x2="273.64" y2="90.90" stroke="#86d83a" stroke-width="1.2"/>
<line x1="273.64" y1="98.00" x2="270.49" y2="99.88" stroke="#767676" stroke-width="1.3"/>
<line x1="270.49" y1="99.88" x2="267.33" y2="101.75" stroke="#86d83a" stroke-width="1.2"/>
<line x1="273.64" y1="98.00" x2="276.79" y2="99.88" stroke="#767676" stroke-width="1.3"/>
<line x1="276.79" y1="99.88" x2="279.95" y2="101.75" stroke="#86d83a" stroke-width="1.2"/>
<line x1="286.26" y1="98.00" x2="286.26" y2="94.45" stroke="#767676" stroke-width="1.3"/>
<line x1="286.26" y1="94.45" x2="286.26" y2="90.90" stroke="#86d83a" stroke-width="1.2"/>
<line x1="286.26" y1="98.00" x2="283.11" y2="99.88" stroke="#767676" stroke-width="1.3"/>
<line x1="283.11" y1="99.88" x2="279.95" y2="101.75" stroke="#86d83a" stroke-width="1.2"/>
<line x1="286.26" y1="98.00" x2="289.41" y2="99.88" stroke="#767676" stroke-width="1.3"/>
<line x1="289.41" y1="99.88" x2="292.57" y2="101.75" stroke="#86d83a" stroke-width="1.2"/>
<line x1="298.88" y1="98.00" x2="298.88" y2="94.45" stroke="#767676" stroke-width="1.3"/>
<line x1="298.88" y1="94.45" x2="298.88" y2="90.90" stroke="#86d83a" stroke-width="1.2"/>
<line x1="298.88" y1="98.00" x2="295.73" y2="99.88" stroke="#767676" stroke-width="1.3"/>
<line x1="295.73" y1="99.88" x2="292.57" y2="101.75" stroke="#86d83a" stroke-width="1.2"/>
<line x1="298.88" y1="98.00" x2="302.03" y2="99.88" stroke="#767676" stroke-width="1.3"/>
<line x1="302.03" y1="99.88" x2="305.19" y2="101.75" stroke="#86d83a" stroke-width="1.2"/>
<line x1="311.50" y1="98.00" x2="311.50" y2="94.45" stroke="#767676" stroke-width="1.3"/>
<line x1="311.50" y1="94.45" x2="311.50" y2="90.90" stroke="#86d83a" stroke-width="1.2"/>
<line x1="311.50" y1="98.00" x2="308.35" y2="99.88" stroke="#767676" stroke-width="1.3"/>
<line x1="308.35" y1="99.88" x2="305.19" y2="101.75" stroke="#86d83a" stroke-width="1.2"/>
<line x1="311.50" y1="98.00" x2="314.65" y2="99.88" stroke="#767676" stroke-width="1.3"/>
<line x1="314.65" y1="99.88" x2="317.81" y2="101.75" stroke="#86d83a" stroke-width="1.2"/>
<line x1="324.12" y1="98.00" x2="324.12" y2="94.45" stroke="#767676" stroke-width="1.3"/>
<line x1="324.12" y1="94.45" x2="324.12" y2="90.90" stroke="#86d83a" stroke-width="1.2"/>
<line x1="324.12" y1="98.00" x2="320.97" y2="99.88" stroke="#767676" stroke-width="1.3"/>
<line x1="320.97" y1="99.88" x2="317.81" y2="101.75" stroke="#86d83a" stroke-width="1.2"/>
<line x1="324.12" y1="98.00" x2="327.27" y2="99.88" stroke="#767676" stroke-width="1.3"/>
<line x1="327.27" y1="99.88" x2="330.43" y2="101.75" stroke="#86d83a" stroke-width="1.2"/>
<line x1="336.74" y1="98.00" x2="336.74" y2="94.45" stroke="#767676" stroke-width="1.3"/>
<line x1="336.74" y1="94.45" x2="336.74" y2="90.90" stroke="#86d83a" stroke-width="1.2"/>
<line x1="336.74" y1="98.00" x2="333.59" y2="99.88" stroke="#767676" stroke-width="1.3"/>
<line x1="333.59" y1="99.88" x2="330.43" y2="101.75" stroke="#86d83a" stroke-width="1.2"/>
<line x1="336.74" y1="98.00" x2="339.89" y2="99.88" stroke="#767676" stroke-width="1.3"/>
<line x1="339.89" y1="99.88" x2="343.05" y2="101.75" stroke="#86d83a" stroke-width="1.2"/>
<line x1="349.36" y1="98.00" x2="349.36" y2="94.45" stroke="#767676" stroke-width="1.3"/>
<line x1="349.36" y1="94.45" x2="349.36" y2="90.90" stroke="#86d83a" stroke-width="1.2"/>
<line x1="349.36" y1="98.00" x2="346.21" y2="99.88" stroke="#767676" stroke-width="1.3"/>
<line x1="346.21" y1="99.88" x2="343.05" y2="101.75" stroke="#86d83a" stroke-width="1.2"/>
<line x1="349.36" y1="98.00" x2="352.51" y2="99.88" stroke="#767676" stroke-width="1.3"/>
<line x1="352.51" y1="99.88" x2="355.67" y2="101.75" stroke="#86d83a" stroke-width="1.2"/>
<line x1="267.33" y1="108.95" x2="267.33" y2="105.40" stroke="#767676" stroke-width="1.3"/>
<line x1="267.33" y1="105.40" x2="267.33" y2="101.85" stroke="#86d83a" stroke-width="1.2"/>
<line x1="267.33" y1="108.95" x2="264.17" y2="110.82" stroke="#767676" stroke-width="1.3"/>
<line x1="264.17" y1="110.82" x2="261.02" y2="112.70" stroke="#86d83a" stroke-width="1.2"/>
<line x1="267.33" y1="108.95" x2="270.49" y2="110.82" stroke="#767676" stroke-width="1.3"/>
<line x1="270.49" y1="110.82" x2="273.64" y2="112.70" stroke="#86d83a" stroke-width="1.2"/>
<line x1="279.95" y1="108.95" x2="279.95" y2="105.40" stroke="#767676" stroke-width="1.3"/>
<line x1="279.95" y1="105.40" x2="279.95" y2="101.85" stroke="#86d83a" stroke-width="1.2"/>
<line x1="279.95" y1="108.95" x2="276.79" y2="110.82" stroke="#767676" stroke-width="1.3"/>
<line x1="276.79" y1="110.82" x2="273.64" y2="112.70" stroke="#86d83a" stroke-width="1.2"/>
<line x1="279.95" y1="108.95" x2="283.11" y2="110.82" stroke="#767676" stroke-width="1.3"/>
<line x1="283.11" y1="110.82" x2="286.26" y2="112.70" stroke="#86d83a" stroke-width="1.2"/>
<line x1="292.57" y1="108.95" x2="292.57" y2="105.40" stroke="#767676" stroke-width="1.3"/>
<line x1="292.57" y1="105.40" x2="292.57" y2="101.85" stroke="#86d83a" stroke-width="1.2"/>
<line x1="292.57" y1="108.95" x2="289.41" y2="110.82" stroke="#767676" stroke-width="1.3"/>
<line x1="289.41" y1="110.82" x2="286.26" y2="112.70" stroke="#86d83a" stroke-width="1.2"/>
<line x1="292.57" y1="108.95" x2="295.73" y2="110.82" stroke="#767676" stroke-width="1.3"/>
<line x1="295.73" y1="110.82" x2="298.88" y2="112.70" stroke="#86d83a" stroke-width="1.2"/>
<line x1="305.19" y1="108.95" x2="305.19" y2="105.40" stroke="#767676" stroke-width="1.3"/>
<line x1="305.19" y1="105.40" x2="305.19" y2="101.85" stroke="#86d83a" stroke-width="1.2"/>
<line x1="305.19" y1="108.95" x2="302.03" y2="110.82" stroke="#767676" stroke-width="1.3"/>
<line x1="302.03" y1="110.82" x2="298.88" y2="112.70" stroke="#86d83a" stroke-width="1.2"/>
<line x1="305.19" y1="108.95" x2="308.35" y2="110.82" stroke="#767676" stroke-width="1.3"/>
<line x1="308.35" y1="110.82" x2="311.50" y2="112.70" stroke="#86d83a" stroke-width="1.2"/>
<line x1="317.81" y1="108.95" x2="317.81" y2="105.40" stroke="#767676" stroke-width="1.3"/>
<line x1="317.81" y1="105.40" x2="317.81" y2="101.85" stroke="#86d83a" stroke-width="1.2"/>
<line x1="317.81" y1="108.95" x2="314.65" y2="110.82" stroke="#767676" stroke-width="1.3"/>
<line x1="314.65" y1="110.82" x2="311.50" y2="112.70" stroke="#86d83a" stroke-width="1.2"/>
<line x1="317.81" y1="108.95" x2="320.97" y2="110.82" stroke="#767676" stroke-width="1.3"/>
<line x1="320.97" y1="110.82" x2="324.12" y2="112.70" stroke="#86d83a" stroke-width="1.2"/>
<line x1="330.43" y1="108.95" x2="330.43" y2="105.40" stroke="#767676" stroke-width="1.3"/>
<line x1="330.43" y1="105.40" x2="330.43" y2="101.85" stroke="#86d83a" stroke-width="1.2"/>
<line x1="330.43" y1="108.95" x2="327.27" y2="110.82" stroke="#767676" stroke-width="1.3"/>
<line x1="327.27" y1="110.82" x2="324.12" y2="112.70" stroke="#86d83a" stroke-width="1.2"/>
<line x1="330.43" y1="108.95" x2="333.59" y2="110.82" stroke="#767676" stroke-width="1.3"/>
<line x1="333.59" y1="110.82" x2="336.74" y2="112.70" stroke="#86d83a" stroke-width="1.2"/>
<line x1="343.05" y1="108.95" x2="343.05" y2="105.40" stroke="#767676" stroke-width="1.3"/>
<line x1="343.05" y1="105.40" x2="343.05" y2="101.85" stroke="#86d83a" stroke-width="1.2"/>
<line x1="343.05" y1="108.95" x2="339.89" y2="110.82" stroke="#767676" stroke-width="1.3"/>
<line x1="339.89" y1="110.82" x2="336.74" y2="112.70" stroke="#86d83a" stroke-width="1.2"/>
<line x1="343.05" y1="108.95" x2="346.21" y2="110.82" stroke="#767676" stroke-width="1.3"/>
<line x1="346.21" y1="110.82" x2="349.36" y2="112.70" stroke="#86d83a" stroke-width="1.2"/>
<line x1="355.67" y1="108.95" x2="355.67" y2="105.40" stroke="#767676" stroke-width="1.3"/>
<line x1="355.67" y1="105.40" x2="355.67" y2="101.85" stroke="#86d83a" stroke-width="1.2"/>
<line x1="355.67" y1="108.95" x2="352.51" y2="110.82" stroke="#767676" stroke-width="1.3"/>
<line x1="352.51" y1="110.82" x2="349.36" y2="112.70" stroke="#86d83a" stroke-width="1.2"/>
<line x1="355.67" y1="108.95" x2="358.83" y2="110.82" stroke="#767676" stroke-width="1.3"/>
<line x1="358.83" y1="110.82" x2="361.98" y2="112.70" stroke="#86d83a" stroke-width="1.2"/>
<line x1="273.64" y1="119.90" x2="273.64" y2="116.35" stroke="#767676" stroke-width="1.3"/>
<line x1="273.64" y1="116.35" x2="273.64" y2="112.80" stroke="#86d83a" stroke-width="1.2"/>
<line x1="273.64" y1="119.90" x2="270.49" y2="121.77" stroke="#767676" stroke-width="1.3"/>
<line x1="270.49" y1="121.77" x2="267.33" y2="123.65" stroke="#86d83a" stroke-width="1.2"/>
<line x1="273.64" y1="119.90" x2="276.79" y2="121.77" stroke="#767676" stroke-width="1.3"/>
<line x1="276.79" y1="121.77" x2="279.95" y2="123.65" stroke="#86d83a" stroke-width="1.2"/>
<line x1="286.26" y1="119.90" x2="286.26" y2="116.35" stroke="#767676" stroke-width="1.3"/>
<line x1="286.26" y1="116.35" x2="286.26" y2="112.80" stroke="#86d83a" stroke-width="1.2"/>
<line x1="286.26" y1="119.90" x2="283.11" y2="121.77" stroke="#767676" stroke-width="1.3"/>
<line x1="283.11" y1="121.77" x2="279.95" y2="123.65" stroke="#86d83a" stroke-width="1.2"/>
<line x1="286.26" y1="119.90" x2="289.41" y2="121.77" stroke="#767676" stroke-width="1.3"/>
<line x1="289.41" y1="121.77" x2="292.57" y2="123.65" stroke="#86d83a" stroke-width="1.2"/>
<line x1="298.88" y1="119.90" x2="298.88" y2="116.35" stroke="#767676" stroke-width="1.3"/>
<line x1="298.88" y1="116.35" x2="298.88" y2="112.80" stroke="#86d83a" stroke-width="1.2"/>
<line x1="298.88" y1="119.90" x2="295.73" y2="121.77" stroke="#767676" stroke-width="1.3"/>
<line x1="295.73" y1="121.77" x2="292.57" y2="123.65" stroke="#86d83a" stroke-width="1.2"/>
<line x1="298.88" y1="119.90" x2="302.03" y2="121.77" stroke="#767676" stroke-width="1.3"/>
<line x1="302.03" y1="121.77" x2="305.19" y2="123.65" stroke="#86d83a" stroke-width="1.2"/>
<line x1="311.50" y1="119.90" x2="311.50" y2="116.35" stroke="#767676" stroke-width="1.3"/>
<line x1="311.50" y1="116.35" x2="311.50" y2="112.80" stroke="#86d83a" stroke-width="1.2"/>
<line x1="311.50" y1="119.90" x2="308.35" y2="121.77" stroke="#767676" stroke-width="1.3"/>
<line x1="308.35" y1="121.77" x2="305.19" y2="123.65" stroke="#86d83a" stroke-width="1.2"/>
<line x1="311.50" y1="119.90" x2="314.65" y2="121.77" stroke="#767676" stroke-width="1.3"/>
<line x1="314.65" y1="121.77" x2="317.81" y2="123.65" stroke="#86d83a" stroke-width="1.2"/>
<line x1="324.12" y1="119.90" x2="324.12" y2="116.35" stroke="#767676" stroke-width="1.3"/>
<line x1="324.12" y1="116.35" x2="324.12" y2="112.80" stroke="#86d83a" stroke-width="1.2"/>
<line x1="324.12" y1="119.90" x2="320.97" y2="121.77" stroke="#767676" stroke-width="1.3"/>
<line x1="320.97" y1="121.77" x2="317.81" y2="123.65" stroke="#86d83a" stroke-width="1.2"/>
<line x1="324.12" y1="119.90" x2="327.27" y2="121.77" stroke="#767676" stroke-width="1.3"/>
<line x1="327.27" y1="121.77" x2="330.43" y2="123.65" stroke="#86d83a" stroke-width="1.2"/>
<line x1="336.74" y1="119.90" x2="336.74" y2="116.35" stroke="#767676" stroke-width="1.3"/>
<line x1="336.74" y1="116.35" x2="336.74" y2="112.80" stroke="#86d83a" stroke-width="1.2"/>
<line x1="336.74" y1="119.90" x2="333.59" y2="121.77" stroke="#767676" stroke-width="1.3"/>
<line x1="333.59" y1="121.77" x2="330.43" y2="123.65" stroke="#86d83a" stroke-width="1.2"/>
<line x1="336.74" y1="119.90" x2="339.89" y2="121.77" stroke="#767676" stroke-width="1.3"/>
<line x1="339.89" y1="121.77" x2="343.05" y2="123.65" stroke="#86d83a" stroke-width="1.2"/>
<line x1="349.36" y1="119.90" x2="349.36" y2="116.35" stroke="#767676" stroke-width="1.3"/>
<line x1="349.36" y1="116.35" x2="349.36" y2="112.80" stroke="#86d83a" stroke-width="1.2"/>
<line x1="349.36" y1="119.90" x2="346.21" y2="121.77" stroke="#767676" stroke-width="1.3"/>
<line x1="346.21" y1="121.77" x2="343.05" y2="123.65" stroke="#86d83a" stroke-width="1.2"/>
<line x1="349.36" y1="119.90" x2="352.51" y2="121.77" stroke="#767676" stroke-width="1.3"/>
<line x1="352.51" y1="121.77" x2="355.67" y2="123.65" stroke="#86d83a" stroke-width="1.2"/>
<line x1="361.98" y1="119.90" x2="361.98" y2="116.35" stroke="#767676" stroke-width="1.3"/>
<line x1="361.98" y1="116.35" x2="361.98" y2="112.80" stroke="#86d83a" stroke-width="1.2"/>
<line x1="361.98" y1="119.90" x2="358.83" y2="121.77" stroke="#767676" stroke-width="1.3"/>
<line x1="358.83" y1="121.77" x2="355.67" y2="123.65" stroke="#86d83a" stroke-width="1.2"/>
<line x1="361.98" y1="119.90" x2="365.13" y2="121.77" stroke="#767676" stroke-width="1.3"/>
<line x1="365.13" y1="121.77" x2="368.29" y2="123.65" stroke="#86d83a" stroke-width="1.2"/>
<line x1="279.95" y1="130.85" x2="279.95" y2="127.30" stroke="#767676" stroke-width="1.3"/>
<line x1="279.95" y1="127.30" x2="279.95" y2="123.75" stroke="#86d83a" stroke-width="1.2"/>
<line x1="279.95" y1="130.85" x2="276.79" y2="132.72" stroke="#767676" stroke-width="1.3"/>
<line x1="276.79" y1="132.72" x2="273.64" y2="134.60" stroke="#86d83a" stroke-width="1.2"/>
<line x1="279.95" y1="130.85" x2="283.11" y2="132.72" stroke="#767676" stroke-width="1.3"/>
<line x1="283.11" y1="132.72" x2="286.26" y2="134.60" stroke="#86d83a" stroke-width="1.2"/>
<line x1="292.57" y1="130.85" x2="292.57" y2="127.30" stroke="#767676" stroke-width="1.3"/>
<line x1="292.57" y1="127.30" x2="292.57" y2="123.75" stroke="#86d83a" stroke-width="1.2"/>
<line x1="292.57" y1="130.85" x2="289.41" y2="132.72" stroke="#767676" stroke-width="1.3"/>
<line x1="289.41" y1="132.72" x2="286.26" y2="134.60" stroke="#86d83a" stroke-width="1.2"/>
<line x1="292.57" y1="130.85" x2="295.73" y2="132.72" stroke="#767676" stroke-width="1.3"/>
<line x1="295.73" y1="132.72" x2="298.88" y2="134.60" stroke="#86d83a" stroke-width="1.2"/>
<line x1="305.19" y1="130.85" x2="305.19" y2="127.30" stroke="#767676" stroke-width="1.3"/>
<line x1="305.19" y1="127.30" x2="305.19" y2="123.75" stroke="#86d83a" stroke-width="1.2"/>
<line x1="305.19" y1="130.85" x2="302.03" y2="132.72" stroke="#767676" stroke-width="1.3"/>
<line x1="302.03" y1="132.72" x2="298.88" y2="134.60" stroke="#86d83a" stroke-width="1.2"/>
<line x1="305.19" y1="130.85" x2="308.35" y2="132.72" stroke="#767676" stroke-width="1.3"/>
<line x1="308.35" y1="132.72" x2="311.50" y2="134.60" stroke="#86d83a" stroke-width="1.2"/>
<line x1="317.81" y1="130.85" x2="317.81" y2="127.30" stroke="#767676" stroke-width="1.3"/>
<line x1="317.81" y1="127.30" x2="317.81" y2="123.75" stroke="#86d83a" stroke-width="1.2"/>
<line x1="317.81" y1="130.85" x2="314.65" y2="132.72" stroke="#767676" stroke-width="1.3"/>
<line x1="314.65" y1="132.72" x2="311.50" y2="134.60" stroke="#86d83a" stroke-width="1.2"/>
<line x1="317.81" y1="130.85" x2="320.97" y2="132.72" stroke="#767676" stroke-width="1.3"/>
<line x1="320.97" y1="132.72" x2="324.12" y2="134.60" stroke="#86d83a" stroke-width="1.2"/>
<line x1="330.43" y1="130.85" x2="330.43" y2="127.30" stroke="#767676" stroke-width="1.3"/>
<line x1="330.43" y1="127.30" x2="330.43" y2="123.75" stroke="#86d83a" stroke-width="1.2"/>
<line x1="330.43" y1="130.85" x2="327.27" y2="132.72" stroke="#767676" stroke-width="1.3"/>
<line x1="327.27" y1="132.72" x2="324.12" y2="134.60" stroke="#86d83a" stroke-width="1.2"/>
<line x1="330.43" y1="130.85" x2="333.59" y2="132.72" stroke="#767676" stroke-width="1.3"/>
<line x1="333.59" y1="132.72" x2="336.74" y2="134.60" stroke="#86d83a" stroke-width="1.2"/>
<line x1="343.05" y1="130.85" x2="343.05" y2="127.30" stroke="#767676" stroke-width="1.3"/>
<line x1="343.05" y1="127.30" x2="343.05" y2="123.75" stroke="#86d83a" stroke-width="1.2"/>
<line x1="343.05" y1="130.85" x2="339.89" y2="132.72" stroke="#767676" stroke-width="1.3"/>
<line x1="339.89" y1="132.72" x2="336.74" y2="134.60" stroke="#86d83a" stroke-width="1.2"/>
<line x1="343.05" y1="130.85" x2="346.21" y2="132.72" stroke="#767676" stroke-width="1.3"/>
<line x1="346.21" y1="132.72" x2="349.36" y2="134.60" stroke="#86d83a" stroke-width="1.2"/>
<line x1="355.67" y1="130.85" x2="355.67" y2="127.30" stroke="#767676" stroke-width="1.3"/>
<line x1="355.67" y1="127.30" x2="355.67" y2="123.75" stroke="#86d83a" stroke-width="1.2"/>
<line x1="355.67" y1="130.85" x2="352.51" y2="132.72" stroke="#767676" stroke-width="1.3"/>
<line x1="352.51" y1="132.72" x2="349.36" y2="134.60" stroke="#86d83a" stroke-width="1.2"/>
<line x1="355.67" y1="130.85" x2="358.83" y2="132.72" stroke="#767676" stroke-width="1.3"/>
<line x1="358.83" y1="132.72" x2="361.98" y2="134.60" stroke="#86d83a" stroke-width="1.2"/>
<line x1="368.29" y1="130.85" x2="368.29" y2="127.30" stroke="#767676" stroke-width="1.3"/>
<line x1="368.29" y1="127.30" x2="368.29" y2="123.75" stroke="#86d83a" stroke-width="1.2"/>
<line x1="368.29" y1="130.85" x2="365.13" y2="132.72" stroke="#767676" stroke-width="1.3"/>
<line x1="365.13" y1="132.72" x2="361.98" y2="134.60" stroke="#86d83a" stroke-width="1.2"/>
<line x1="368.29" y1="130.85" x2="371.45" y2="132.72" stroke="#767676" stroke-width="1.3"/>
<line x1="371.45" y1="132.72" x2="374.60" y2="134.60" stroke="#86d83a" stroke-width="1.2"/>
<line x1="286.26" y1="141.80" x2="286.26" y2="138.25" stroke="#767676" stroke-width="1.3"/>
<line x1="286.26" y1="138.25" x2="286.26" y2="134.70" stroke="#86d83a" stroke-width="1.2"/>
<line x1="286.26" y1="141.80" x2="283.11" y2="143.67" stroke="#767676" stroke-width="1.3"/>
<line x1="283.11" y1="143.67" x2="279.95" y2="145.55" stroke="#86d83a" stroke-width="1.2"/>
<line x1="286.26" y1="141.80" x2="289.41" y2="143.67" stroke="#767676" stroke-width="1.3"/>
<line x1="289.41" y1="143.67" x2="292.57" y2="145.55" stroke="#86d83a" stroke-width="1.2"/>
<line x1="298.88" y1="141.80" x2="298.88" y2="138.25" stroke="#767676" stroke-width="1.3"/>
<line x1="298.88" y1="138.25" x2="298.88" y2="134.70" stroke="#86d83a" stroke-width="1.2"/>
<line x1="298.88" y1="141.80" x2="295.73" y2="143.67" stroke="#767676" stroke-width="1.3"/>
<line x1="295.73" y1="143.67" x2="292.57" y2="145.55" stroke="#86d83a" stroke-width="1.2"/>
<line x1="298.88" y1="141.80" x2="302.03" y2="143.67" stroke="#767676" stroke-width="1.3"/>
<line x1="302.03" y1="143.67" x2="305.19" y2="145.55" stroke="#86d83a" stroke-width="1.2"/>
<line x1="311.50" y1="141.80" x2="311.50" y2="138.25" stroke="#767676" stroke-width="1.3"/>
<line x1="311.50" y1="138.25" x2="311.50" y2="134.70" stroke="#86d83a" stroke-width="1.2"/>
<line x1="311.50" y1="141.80" x2="308.35" y2="143.67" stroke="#767676" stroke-width="1.3"/>
<line x1="308.35" y1="143.67" x2="305.19" y2="145.55" stroke="#86d83a" stroke-width="1.2"/>
<line x1="311.50" y1="141.80" x2="314.65" y2="143.67" stroke="#767676" stroke-width="1.3"/>
<line x1="314.65" y1="143.67" x2="317.81" y2="145.55" stroke="#86d83a" stroke-width="1.2"/>
<line x1="324.12" y1="141.80" x2="324.12" y2="138.25" stroke="#767676" stroke-width="1.3"/>
<line x1="324.12" y1="138.25" x2="324.12" y2="134.70" stroke="#86d83a" stroke-width="1.2"/>
<line x1="324.12" y1="141.80" x2="320.97" y2="143.67" stroke="#767676" stroke-width="1.3"/>
<line x1="320.97" y1="143.67" x2="317.81" y2="145.55" stroke="#86d83a" stroke-width="1.2"/>
<line x1="324.12" y1="141.80" x2="327.27" y2="143.67" stroke="#767676" stroke-width="1.3"/>
<line x1="327.27" y1="143.67" x2="330.43" y2="145.55" stroke="#86d83a" stroke-width="1.2"/>
<line x1="336.74" y1="141.80" x2="336.74" y2="138.25" stroke="#767676" stroke-width="1.3"/>
<line x1="336.74" y1="138.25" x2="336.74" y2="134.70" stroke="#86d83a" stroke-width="1.2"/>
<line x1="336.74" y1="141.80" x2="333.59" y2="143.67" stroke="#767676" stroke-width="1.3"/>
<line x1="333.59" y1="143.67" x2="330.43" y2="145.55" stroke="#86d83a" stroke-width="1.2"/>
<line x1="336.74" y1="141.80" x2="339.89" y2="143.67" stroke="#767676" stroke-width="1.3"/>
<line x1="339.89" y1="143.67" x2="343.05" y2="145.55" stroke="#86d83a" stroke-width="1.2"/>
<line x1="349.36" y1="141.80" x2="349.36" y2="138.25" stroke="#767676" stroke-width="1.3"/>
<line x1="349.36" y1="138.25" x2="349.36" y2="134.70" stroke="#86d83a" stroke-width="1.2"/>
<line x1="349.36" y1="141.80" x2="346.21" y2="143.67" stroke="#767676" stroke-width="1.3"/>
<line x1="346.21" y1="143.67" x2="343.05" y2="145.55" stroke="#86d83a" stroke-width="1.2"/>
<line x1="349.36" y1="141.80" x2="352.51" y2="143.67" stroke="#767676" stroke-width="1.3"/>
<line x1="352.51" y1="143.67" x2="355.67" y2="145.55" stroke="#86d83a" stroke-width="1.2"/>
<line x1="361.98" y1="141.80" x2="361.98" y2="138.25" stroke="#767676" stroke-width="1.3"/>
<line x1="361.98" y1="138.25" x2="361.98" y2="134.70" stroke="#86d83a" stroke-width="1.2"/>
<line x1="361.98" y1="141.80" x2="358.83" y2="143.67" stroke="#767676" stroke-width="1.3"/>
<line x1="358.83" y1="143.67" x2="355.67" y2="145.55" stroke="#86d83a" stroke-width="1.2"/>
<line x1="361.98" y1="141.80" x2="365.13" y2="143.67" stroke="#767676" stroke-width="1.3"/>
<line x1="365.13" y1="143.67" x2="368.29" y2="145.55" stroke="#86d83a" stroke-width="1.2"/>
<line x1="374.60" y1="141.80" x2="374.60" y2="138.25" stroke="#767676" stroke-width="1.3"/>
<line x1="374.60" y1="138.25" x2="374.60" y2="134.70" stroke="#86d83a" stroke-width="1.2"/>
<line x1="374.60" y1="141.80" x2="371.45" y2="143.67" stroke="#767676" stroke-width="1.3"/>
<line x1="371.45" y1="143.67" x2="368.29" y2="145.55" stroke="#86d83a" stroke-width="1.2"/>
<line x1="374.60" y1="141.80" x2="377.75" y2="143.67" stroke="#767676" stroke-width="1.3"/>
<line x1="377.75" y1="143.67" x2="380.91" y2="145.55" stroke="#86d83a" stroke-width="1.2"/>
<line x1="292.57" y1="152.75" x2="292.57" y2="149.20" stroke="#767676" stroke-width="1.3"/>
<line x1="292.57" y1="149.20" x2="292.57" y2="145.65" stroke="#86d83a" stroke-width="1.2"/>
<line x1="292.57" y1="152.75" x2="289.41" y2="154.62" stroke="#767676" stroke-width="1.3"/>
<line x1="289.41" y1="154.62" x2="286.26" y2="156.50" stroke="#86d83a" stroke-width="1.2"/>
<line x1="292.57" y1="152.75" x2="295.73" y2="154.62" stroke="#767676" stroke-width="1.3"/>
<line x1="295.73" y1="154.62" x2="298.88" y2="156.50" stroke="#86d83a" stroke-width="1.2"/>
<line x1="305.19" y1="152.75" x2="305.19" y2="149.20" stroke="#767676" stroke-width="1.3"/>
<line x1="305.19" y1="149.20" x2="305.19" y2="145.65" stroke="#86d83a" stroke-width="1.2"/>
<line x1="305.19" y1="152.75" x2="302.03" y2="154.62" stroke="#767676" stroke-width="1.3"/>
<line x1="302.03" y1="154.62" x2="298.88" y2="156.50" stroke="#86d83a" stroke-width="1.2"/>
<line x1="305.19" y1="152.75" x2="308.35" y2="154.62" stroke="#767676" stroke-width="1.3"/>
<line x1="308.35" y1="154.62" x2="311.50" y2="156.50" stroke="#86d83a" stroke-width="1.2"/>
<line x1="317.81" y1="152.75" x2="317.81" y2="149.20" stroke="#767676" stroke-width="1.3"/>
<line x1="317.81" y1="149.20" x2="317.81" y2="145.65" stroke="#86d83a" stroke-width="1.2"/>
<line x1="317.81" y1="152.75" x2="314.65" y2="154.62" stroke="#767676" stroke-width="1.3"/>
<line x1="314.65" y1="154.62" x2="311.50" y2="156.50" stroke="#86d83a" stroke-width="1.2"/>
<line x1="317.81" y1="152.75" x2="320.97" y2="154.62" stroke="#767676" stroke-width="1.3"/>
<line x1="320.97" y1="154.62" x2="324.12" y2="156.50" stroke="#86d83a" stroke-width="1.2"/>
<line x1="330.43" y1="152.75" x2="330.43" y2="149.20" stroke="#767676" stroke-width="1.3"/>
<line x1="330.43" y1="149.20" x2="330.43" y2="145.65" stroke="#86d83a" stroke-width="1.2"/>
<line x1="330.43" y1="152.75" x2="327.27" y2="154.62" stroke="#767676" stroke-width="1.3"/>
<line x1="327.27" y1="154.62" x2="324.12" y2="156.50" stroke="#86d83a" stroke-width="1.2"/>
<line x1="330.43" y1="152.75" x2="333.59" y2="154.62" stroke="#767676" stroke-width="1.3"/>
<line x1="333.59" y1="154.62" x2="336.74" y2="156.50" stroke="#86d83a" stroke-width="1.2"/>
<line x1="343.05" y1="152.75" x2="343.05" y2="149.20" stroke="#767676" stroke-width="1.3"/>
<line x1="343.05" y1="149.20" x2="343.05" y2="145.65" stroke="#86d83a" stroke-width="1.2"/>
<line x1="343.05" y1="152.75" x2="339.89" y2="154.62" stroke="#767676" stroke-width="1.3"/>
<line x1="339.89" y1="154.62" x2="336.74" y2="156.50" stroke="#86d83a" stroke-width="1.2"/>
<line x1="343.05" y1="152.75" x2="346.21" y2="154.62" stroke="#767676" stroke-width="1.3"/>
<line x1="346.21" y1="154.62" x2="349.36" y2="156.50" stroke="#86d83a" stroke-width="1.2"/>
<line x1="355.67" y1="152.75" x2="355.67" y2="149.20" stroke="#767676" stroke-width="1.3"/>
<line x1="355.67" y1="149.20" x2="355.67" y2="145.65" stroke="#86d83a" stroke-width="1.2"/>
<line x1="355.67" y1="152.75" x2="352.51" y2="154.62" stroke="#767676" stroke-width="1.3"/>
<line x1="352.51" y1="154.62" x2="349.36" y2="156.50" stroke="#86d83a" stroke-width="1.2"/>
<line x1="355.67" y1="152.75" x2="358.83" y2="154.62" stroke="#767676" stroke-width="1.3"/>
<line x1="358.83" y1="154.62" x2="361.98" y2="156.50" stroke="#86d83a" stroke-width="1.2"/>
<line x1="368.29" y1="152.75" x2="368.29" y2="149.20" stroke="#767676" stroke-width="1.3"/>
<line x1="368.29" y1="149.20" x2="368.29" y2="145.65" stroke="#86d83a" stroke-width="1.2"/>
<line x1="368.29" y1="152.75" x2="365.13" y2="154.62" stroke="#767676" stroke-width="1.3"/>
<line x1="365.13" y1="154.62" x2="361.98" y2="156.50" stroke="#86d83a" stroke-width="1.2"/>
<line x1="368.29" y1="152.75" x2="371.45" y2="154.62" stroke="#767676" stroke-width="1.3"/>
<line x1="371.45" y1="154.62" x2="374.60" y2="156.50" stroke="#86d83a" stroke-width="1.2"/>
<line x1="380.91" y1="152.75" x2="380.91" y2="149.20" stroke="#767676" stroke-width="1.3"/>
<line x1="380.91" y1="149.20" x2="380.91" y2="145.65" stroke="#86d83a" stroke-width="1.2"/>
<line x1="380.91" y1="152.75" x2="377.75" y2="154.62" stroke="#767676" stroke-width="1.3"/>
<line x1="377.75" y1="154.62" x2="374.60" y2="156.50" stroke="#86d83a" stroke-width="1.2"/>
<line x1="380.91" y1="152.75" x2="384.07" y2="154.62" stroke="#767676" stroke-width="1.3"/>
<line x1="384.07" y1="154.62" x2="387.22" y2="156.50" stroke="#86d83a" stroke-width="1.2"/>
<circle cx="248.40" cy="69.00" r="2.3" fill="#a2e065"/>
<circle cx="242.09" cy="79.85" r="2.3" fill="#a2e065"/>
<circle cx="254.71" cy="79.85" r="1.9" fill="#86d83a"/>
<circle cx="261.02" cy="69.00" r="2.3" fill="#a2e065"/>
<circle cx="267.33" cy="79.85" r="1.9" fill="#86d83a"/>
<circle cx="273.64" cy="69.00" r="2.3" fill="#a2e065"/>
<circle cx="279.95" cy="79.85" r="1.9" fill="#86d83a"/>
<circle cx="286.26" cy="69.00" r="2.3" fill="#a2e065"/>
<circle cx="292.57" cy="79.85" r="1.9" fill="#86d83a"/>
<circle cx="298.88" cy="69.00" r="2.3" fill="#a2e065"/>
<circle cx="305.19" cy="79.85" r="1.9" fill="#86d83a"/>
<circle cx="311.50" cy="69.00" r="2.3" fill="#a2e065"/>
<circle cx="317.81" cy="79.85" r="1.9" fill="#86d83a"/>
<circle cx="324.12" cy="69.00" r="2.3" fill="#a2e065"/>
<circle cx="330.43" cy="79.85" r="1.9" fill="#86d83a"/>
<circle cx="336.74" cy="69.00" r="2.3" fill="#a2e065"/>
<circle cx="343.05" cy="79.85" r="1.9" fill="#86d83a"/>
<circle cx="248.40" cy="90.80" r="2.3" fill="#a2e065"/>
<circle cx="261.02" cy="90.80" r="1.9" fill="#86d83a"/>
<circle cx="273.64" cy="90.80" r="1.9" fill="#86d83a"/>
<circle cx="286.26" cy="90.80" r="1.9" fill="#86d83a"/>
<circle cx="298.88" cy="90.80" r="1.9" fill="#86d83a"/>
<circle cx="311.50" cy="90.80" r="1.9" fill="#86d83a"/>
<circle cx="324.12" cy="90.80" r="1.9" fill="#86d83a"/>
<circle cx="336.74" cy="90.80" r="1.9" fill="#86d83a"/>
<circle cx="349.36" cy="90.80" r="1.9" fill="#86d83a"/>
<circle cx="254.71" cy="101.75" r="2.3" fill="#a2e065"/>
<circle cx="267.33" cy="101.75" r="1.9" fill="#86d83a"/>
<circle cx="279.95" cy="101.75" r="1.9" fill="#86d83a"/>
<circle cx="292.57" cy="101.75" r="1.9" fill="#86d83a"/>
<circle cx="305.19" cy="101.75" r="1.9" fill="#86d83a"/>
<circle cx="317.81" cy="101.75" r="1.9" fill="#86d83a"/>
<circle cx="330.43" cy="101.75" r="1.9" fill="#86d83a"/>
<circle cx="343.05" cy="101.75" r="1.9" fill="#86d83a"/>
<circle cx="355.67" cy="101.75" r="1.9" fill="#86d83a"/>
<circle cx="261.02" cy="112.70" r="2.3" fill="#a2e065"/>
<circle cx="273.64" cy="112.70" r="1.9" fill="#86d83a"/>
<circle cx="286.26" cy="112.70" r="1.9" fill="#86d83a"/>
<circle cx="298.88" cy="112.70" r="1.9" fill="#86d83a"/>
<circle cx="311.50" cy="112.70" r="1.9" fill="#86d83a"/>
<circle cx="324.12" cy="112.70" r="1.9" fill="#86d83a"/>
<circle cx="336.74" cy="112.70" r="1.9" fill="#86d83a"/>
<circle cx="349.36" cy="112.70" r="1.9" fill="#86d83a"/>
<circle cx="361.98" cy="112.70" r="1.9" fill="#86d83a"/>
<circle cx="267.33" cy="123.65" r="2.3" fill="#a2e065"/>
<circle cx="279.95" cy="123.65" r="1.9" fill="#86d83a"/>
<circle cx="292.57" cy="123.65" r="1.9" fill="#86d83a"/>
<circle cx="305.19" cy="123.65" r="1.9" fill="#86d83a"/>
<circle cx="317.81" cy="123.65" r="1.9" fill="#86d83a"/>
<circle cx="330.43" cy="123.65" r="1.9" fill="#86d83a"/>
<circle cx="343.05" cy="123.65" r="1.9" fill="#86d83a"/>
<circle cx="355.67" cy="123.65" r="1.9" fill="#86d83a"/>
<circle cx="368.29" cy="123.65" r="1.9" fill="#86d83a"/>
<circle cx="273.64" cy="134.60" r="2.3" fill="#a2e065"/>
<circle cx="286.26" cy="134.60" r="1.9" fill="#86d83a"/>
<circle cx="298.88" cy="134.60" r="1.9" fill="#86d83a"/>
<circle cx="311.50" cy="134.60" r="1.9" fill="#86d83a"/>
<circle cx="324.12" cy="134.60" r="1.9" fill="#86d83a"/>
<circle cx="336.74" cy="134.60" r="1.9" fill="#86d83a"/>
<circle cx="349.36" cy="134.60" r="1.9" fill="#86d83a"/>
<circle cx="361.98" cy="134.60" r="1.9" fill="#86d83a"/>
<circle cx="374.60" cy="134.60" r="1.9" fill="#86d83a"/>
<circle cx="279.95" cy="145.55" r="2.3" fill="#a2e065"/>
<circle cx="292.57" cy="145.55" r="1.9" fill="#86d83a"/>
<circle cx="305.19" cy="145.55" r="1.9" fill="#86d83a"/>
<circle cx="317.81" cy="145.55" r="1.9" fill="#86d83a"/>
<circle cx="330.43" cy="145.55" r="1.9" fill="#86d83a"/>
<circle cx="343.05" cy="145.55" r="1.9" fill="#86d83a"/>
<circle cx="355.67" cy="145.55" r="1.9" fill="#86d83a"/>
<circle cx="368.29" cy="145.55" r="1.9" fill="#86d83a"/>
<circle cx="380.91" cy="145.55" r="1.9" fill="#86d83a"/>
<circle cx="286.26" cy="156.50" r="2.3" fill="#a2e065"/>
<circle cx="298.88" cy="156.50" r="1.9" fill="#86d83a"/>
<circle cx="311.50" cy="156.50" r="1.9" fill="#86d83a"/>
<circle cx="324.12" cy="156.50" r="1.9" fill="#86d83a"/>
<circle cx="336.74" cy="156.50" r="1.9" fill="#86d83a"/>
<circle cx="349.36" cy="156.50" r="1.9" fill="#86d83a"/>
<circle cx="361.98" cy="156.50" r="1.9" fill="#86d83a"/>
<circle cx="374.60" cy="156.50" r="1.9" fill="#86d83a"/>
<circle cx="387.22" cy="156.50" r="2.3" fill="#a2e065"/>
<circle cx="248.40" cy="76.10" r="1.9" fill="#cfcfcf" stroke="#656565" stroke-width="0.9"/>
<circle cx="261.02" cy="76.10" r="1.9" fill="#cfcfcf" stroke="#656565" stroke-width="0.9"/>
<circle cx="273.64" cy="76.10" r="1.9" fill="#cfcfcf" stroke="#656565" stroke-width="0.9"/>
<circle cx="286.26" cy="76.10" r="1.9" fill="#cfcfcf" stroke="#656565" stroke-width="0.9"/>
<circle cx="298.88" cy="76.10" r="1.9" fill="#cfcfcf" stroke="#656565" stroke-width="0.9"/>
<circle cx="311.50" cy="76.10" r="1.9" fill="#cfcfcf" stroke="#656565" stroke-width="0.9"/>
<circle cx="324.12" cy="76.10" r="1.9" fill="#cfcfcf" stroke="#656565" stroke-width="0.9"/>
<circle cx="336.74" cy="76.10" r="1.9" fill="#cfcfcf" stroke="#656565" stroke-width="0.9"/>
<circle cx="254.71" cy="87.05" r="1.9" fill="#cfcfcf" stroke="#656565" stroke-width="0.9"/>
<circle cx="267.33" cy="87.05" r="1.9" fill="#cfcfcf" stroke="#656565" stroke-width="0.9"/>
<circle cx="279.95" cy="87.05" r="1.9" fill="#cfcfcf" stroke="#656565" stroke-width="0.9"/>
<circle cx="292.57" cy="87.05" r="1.9" fill="#cfcfcf" stroke="#656565" stroke-width="0.9"/>
<circle cx="305.19" cy="87.05" r="1.9" fill="#cfcfcf" stroke="#656565" stroke-width="0.9"/>
<circle cx="317.81" cy="87.05" r="1.9" fill="#cfcfcf" stroke="#656565" stroke-width="0.9"/>
<circle cx="330.43" cy="87.05" r="1.9" fill="#cfcfcf" stroke="#656565" stroke-width="0.9"/>
<circle cx="343.05" cy="87.05" r="1.9" fill="#cfcfcf" stroke="#656565" stroke-width="0.9"/>
<circle cx="261.02" cy="98.00" r="1.9" fill="#cfcfcf" stroke="#656565" stroke-width="0.9"/>
<circle cx="273.64" cy="98.00" r="1.9" fill="#cfcfcf" stroke="#656565" stroke-width="0.9"/>
<circle cx="286.26" cy="98.00" r="1.9" fill="#cfcfcf" stroke="#656565" stroke-width="0.9"/>
<circle cx="298.88" cy="98.00" r="1.9" fill="#cfcfcf" stroke="#656565" stroke-width="0.9"/>
<circle cx="311.50" cy="98.00" r="1.9" fill="#cfcfcf" stroke="#656565" stroke-width="0.9"/>
<circle cx="324.12" cy="98.00" r="1.9" fill="#cfcfcf" stroke="#656565" stroke-width="0.9"/>
<circle cx="336.74" cy="98.00" r="1.9" fill="#cfcfcf" stroke="#656565" stroke-width="0.9"/>
<circle cx="349.36" cy="98.00" r="1.9" fill="#cfcfcf" stroke="#656565" stroke-width="0.9"/>
<circle cx="267.33" cy="108.95" r="1.9" fill="#cfcfcf" stroke="#656565" stroke-width="0.9"/>
<circle cx="279.95" cy="108.95" r="1.9" fill="#cfcfcf" stroke="#656565" stroke-width="0.9"/>
<circle cx="292.57" cy="108.95" r="1.9" fill="#cfcfcf" stroke="#656565" stroke-width="0.9"/>
<circle cx="305.19" cy="108.95" r="1.9" fill="#cfcfcf" stroke="#656565" stroke-width="0.9"/>
<circle cx="317.81" cy="108.95" r="1.9" fill="#cfcfcf" stroke="#656565" stroke-width="0.9"/>
<circle cx="330.43" cy="108.95" r="1.9" fill="#cfcfcf" stroke="#656565" stroke-width="0.9"/>
<circle cx="343.05" cy="108.95" r="1.9" fill="#cfcfcf" stroke="#656565" stroke-width="0.9"/>
<circle cx="355.67" cy="108.95" r="1.9" fill="#cfcfcf" stroke="#656565" stroke-width="0.9"/>
<circle cx="273.64" cy="119.90" r="1.9" fill="#cfcfcf" stroke="#656565" stroke-width="0.9"/>
<circle cx="286.26" cy="119.90" r="1.9" fill="#cfcfcf" stroke="#656565" stroke-width="0.9"/>
<circle cx="298.88" cy="119.90" r="1.9" fill="#cfcfcf" stroke="#656565" stroke-width="0.9"/>
<circle cx="311.50" cy="119.90" r="1.9" fill="#cfcfcf" stroke="#656565" stroke-width="0.9"/>
<circle cx="324.12" cy="119.90" r="1.9" fill="#cfcfcf" stroke="#656565" stroke-width="0.9"/>
<circle cx="336.74" cy="119.90" r="1.9" fill="#cfcfcf" stroke="#656565" stroke-width="0.9"/>
<circle cx="349.36" cy="119.90" r="1.9" fill="#cfcfcf" stroke="#656565" stroke-width="0.9"/>
<circle cx="361.98" cy="119.90" r="1.9" fill="#cfcfcf" stroke="#656565" stroke-width="0.9"/>
<circle cx="279.95" cy="130.85" r="1.9" fill="#cfcfcf" stroke="#656565" stroke-width="0.9"/>
<circle cx="292.57" cy="130.85" r="2.0" fill="#b08ad0" stroke="#7a4a9a" stroke-width="0.8"/>
<circle cx="305.19" cy="130.85" r="1.9" fill="#cfcfcf" stroke="#656565" stroke-width="0.9"/>
<circle cx="317.81" cy="130.85" r="1.9" fill="#cfcfcf" stroke="#656565" stroke-width="0.9"/>
<circle cx="330.43" cy="130.85" r="1.9" fill="#cfcfcf" stroke="#656565" stroke-width="0.9"/>
<circle cx="343.05" cy="130.85" r="1.9" fill="#cfcfcf" stroke="#656565" stroke-width="0.9"/>
<circle cx="355.67" cy="130.85" r="1.9" fill="#cfcfcf" stroke="#656565" stroke-width="0.9"/>
<circle cx="368.29" cy="130.85" r="1.9" fill="#cfcfcf" stroke="#656565" stroke-width="0.9"/>
<circle cx="286.26" cy="141.80" r="1.9" fill="#cfcfcf" stroke="#656565" stroke-width="0.9"/>
<circle cx="298.88" cy="141.80" r="1.9" fill="#cfcfcf" stroke="#656565" stroke-width="0.9"/>
<circle cx="311.50" cy="141.80" r="1.9" fill="#cfcfcf" stroke="#656565" stroke-width="0.9"/>
<circle cx="324.12" cy="141.80" r="1.9" fill="#cfcfcf" stroke="#656565" stroke-width="0.9"/>
<circle cx="336.74" cy="141.80" r="1.9" fill="#cfcfcf" stroke="#656565" stroke-width="0.9"/>
<circle cx="349.36" cy="141.80" r="1.9" fill="#cfcfcf" stroke="#656565" stroke-width="0.9"/>
<circle cx="361.98" cy="141.80" r="1.9" fill="#cfcfcf" stroke="#656565" stroke-width="0.9"/>
<circle cx="374.60" cy="141.80" r="1.9" fill="#cfcfcf" stroke="#656565" stroke-width="0.9"/>
<circle cx="292.57" cy="152.75" r="1.9" fill="#cfcfcf" stroke="#656565" stroke-width="0.9"/>
<circle cx="305.19" cy="152.75" r="1.9" fill="#cfcfcf" stroke="#656565" stroke-width="0.9"/>
<circle cx="317.81" cy="152.75" r="1.9" fill="#cfcfcf" stroke="#656565" stroke-width="0.9"/>
<circle cx="330.43" cy="152.75" r="1.9" fill="#cfcfcf" stroke="#656565" stroke-width="0.9"/>
<circle cx="343.05" cy="152.75" r="1.9" fill="#cfcfcf" stroke="#656565" stroke-width="0.9"/>
<circle cx="355.67" cy="152.75" r="1.9" fill="#cfcfcf" stroke="#656565" stroke-width="0.9"/>
<circle cx="368.29" cy="152.75" r="1.9" fill="#cfcfcf" stroke="#656565" stroke-width="0.9"/>
<circle cx="380.91" cy="152.75" r="1.9" fill="#cfcfcf" stroke="#656565" stroke-width="0.9"/>
<circle cx="292.57" cy="130.85" r="5.2" fill="none" stroke="#d4733a" stroke-width="1.3"/>
<circle cx="374.60" cy="156.50" r="5.2" fill="none" stroke="#d4733a" stroke-width="1.3"/>
<circle cx="387.22" cy="156.50" r="5.2" fill="none" stroke="#4a7fc0" stroke-width="1.3"/>
<polygon points="432.9,44.0 539.9,44.0 591.3,132.2 484.3,132.2" fill="none" stroke="#d8d8d8" stroke-width="0.7"/>
<polygon points="435.9,45.2 535.9,45.2 584.8,129.2 486.8,129.2" fill="none" stroke="#e2e2e2" stroke-width="0.6"/>
<line x1="440.90" y1="47.60" x2="440.90" y2="44.05" stroke="#767676" stroke-width="1.3"/>
<line x1="440.90" y1="44.05" x2="440.90" y2="40.50" stroke="#86d83a" stroke-width="1.2"/>
<line x1="440.90" y1="47.60" x2="437.75" y2="49.48" stroke="#767676" stroke-width="1.3"/>
<line x1="437.75" y1="49.48" x2="434.59" y2="51.35" stroke="#86d83a" stroke-width="1.2"/>
<line x1="440.90" y1="47.60" x2="444.05" y2="49.48" stroke="#767676" stroke-width="1.3"/>
<line x1="444.05" y1="49.48" x2="447.21" y2="51.35" stroke="#86d83a" stroke-width="1.2"/>
<line x1="453.52" y1="47.60" x2="453.52" y2="44.05" stroke="#767676" stroke-width="1.3"/>
<line x1="453.52" y1="44.05" x2="453.52" y2="40.50" stroke="#86d83a" stroke-width="1.2"/>
<line x1="453.52" y1="47.60" x2="450.37" y2="49.48" stroke="#767676" stroke-width="1.3"/>
<line x1="450.37" y1="49.48" x2="447.21" y2="51.35" stroke="#86d83a" stroke-width="1.2"/>
<line x1="453.52" y1="47.60" x2="456.67" y2="49.48" stroke="#767676" stroke-width="1.3"/>
<line x1="456.67" y1="49.48" x2="459.83" y2="51.35" stroke="#86d83a" stroke-width="1.2"/>
<line x1="466.14" y1="47.60" x2="466.14" y2="44.05" stroke="#767676" stroke-width="1.3"/>
<line x1="466.14" y1="44.05" x2="466.14" y2="40.50" stroke="#86d83a" stroke-width="1.2"/>
<line x1="466.14" y1="47.60" x2="462.99" y2="49.48" stroke="#767676" stroke-width="1.3"/>
<line x1="462.99" y1="49.48" x2="459.83" y2="51.35" stroke="#86d83a" stroke-width="1.2"/>
<line x1="466.14" y1="47.60" x2="469.29" y2="49.48" stroke="#767676" stroke-width="1.3"/>
<line x1="469.29" y1="49.48" x2="472.45" y2="51.35" stroke="#86d83a" stroke-width="1.2"/>
<line x1="478.76" y1="47.60" x2="478.76" y2="44.05" stroke="#767676" stroke-width="1.3"/>
<line x1="478.76" y1="44.05" x2="478.76" y2="40.50" stroke="#86d83a" stroke-width="1.2"/>
<line x1="478.76" y1="47.60" x2="475.61" y2="49.48" stroke="#767676" stroke-width="1.3"/>
<line x1="475.61" y1="49.48" x2="472.45" y2="51.35" stroke="#86d83a" stroke-width="1.2"/>
<line x1="478.76" y1="47.60" x2="481.91" y2="49.48" stroke="#767676" stroke-width="1.3"/>
<line x1="481.91" y1="49.48" x2="485.07" y2="51.35" stroke="#86d83a" stroke-width="1.2"/>
<line x1="491.38" y1="47.60" x2="491.38" y2="44.05" stroke="#767676" stroke-width="1.3"/>
<line x1="491.38" y1="44.05" x2="491.38" y2="40.50" stroke="#86d83a" stroke-width="1.2"/>
<line x1="491.38" y1="47.60" x2="488.23" y2="49.48" stroke="#767676" stroke-width="1.3"/>
<line x1="488.23" y1="49.48" x2="485.07" y2="51.35" stroke="#86d83a" stroke-width="1.2"/>
<line x1="491.38" y1="47.60" x2="494.53" y2="49.48" stroke="#767676" stroke-width="1.3"/>
<line x1="494.53" y1="49.48" x2="497.69" y2="51.35" stroke="#86d83a" stroke-width="1.2"/>
<line x1="504.00" y1="47.60" x2="504.00" y2="44.05" stroke="#767676" stroke-width="1.3"/>
<line x1="504.00" y1="44.05" x2="504.00" y2="40.50" stroke="#86d83a" stroke-width="1.2"/>
<line x1="504.00" y1="47.60" x2="500.85" y2="49.48" stroke="#767676" stroke-width="1.3"/>
<line x1="500.85" y1="49.48" x2="497.69" y2="51.35" stroke="#86d83a" stroke-width="1.2"/>
<line x1="504.00" y1="47.60" x2="507.15" y2="49.48" stroke="#767676" stroke-width="1.3"/>
<line x1="507.15" y1="49.48" x2="510.31" y2="51.35" stroke="#86d83a" stroke-width="1.2"/>
<line x1="516.62" y1="47.60" x2="516.62" y2="44.05" stroke="#767676" stroke-width="1.3"/>
<line x1="516.62" y1="44.05" x2="516.62" y2="40.50" stroke="#86d83a" stroke-width="1.2"/>
<line x1="516.62" y1="47.60" x2="513.47" y2="49.48" stroke="#767676" stroke-width="1.3"/>
<line x1="513.47" y1="49.48" x2="510.31" y2="51.35" stroke="#86d83a" stroke-width="1.2"/>
<line x1="516.62" y1="47.60" x2="519.77" y2="49.48" stroke="#767676" stroke-width="1.3"/>
<line x1="519.77" y1="49.48" x2="522.93" y2="51.35" stroke="#86d83a" stroke-width="1.2"/>
<line x1="529.24" y1="47.60" x2="529.24" y2="44.05" stroke="#767676" stroke-width="1.3"/>
<line x1="529.24" y1="44.05" x2="529.24" y2="40.50" stroke="#86d83a" stroke-width="1.2"/>
<line x1="529.24" y1="47.60" x2="526.09" y2="49.48" stroke="#767676" stroke-width="1.3"/>
<line x1="526.09" y1="49.48" x2="522.93" y2="51.35" stroke="#86d83a" stroke-width="1.2"/>
<line x1="529.24" y1="47.60" x2="532.39" y2="49.48" stroke="#767676" stroke-width="1.3"/>
<line x1="532.39" y1="49.48" x2="535.55" y2="51.35" stroke="#86d83a" stroke-width="1.2"/>
<line x1="447.21" y1="58.42" x2="447.21" y2="54.87" stroke="#767676" stroke-width="1.3"/>
<line x1="447.21" y1="54.87" x2="447.21" y2="51.32" stroke="#86d83a" stroke-width="1.2"/>
<line x1="447.21" y1="58.42" x2="444.05" y2="60.30" stroke="#767676" stroke-width="1.3"/>
<line x1="444.05" y1="60.30" x2="440.90" y2="62.17" stroke="#86d83a" stroke-width="1.2"/>
<line x1="447.21" y1="58.42" x2="450.37" y2="60.30" stroke="#767676" stroke-width="1.3"/>
<line x1="450.37" y1="60.30" x2="453.52" y2="62.17" stroke="#86d83a" stroke-width="1.2"/>
<line x1="459.83" y1="58.42" x2="459.83" y2="54.87" stroke="#767676" stroke-width="1.3"/>
<line x1="459.83" y1="54.87" x2="459.83" y2="51.32" stroke="#86d83a" stroke-width="1.2"/>
<line x1="459.83" y1="58.42" x2="456.67" y2="60.30" stroke="#767676" stroke-width="1.3"/>
<line x1="456.67" y1="60.30" x2="453.52" y2="62.17" stroke="#86d83a" stroke-width="1.2"/>
<line x1="459.83" y1="58.42" x2="462.99" y2="60.30" stroke="#767676" stroke-width="1.3"/>
<line x1="462.99" y1="60.30" x2="466.14" y2="62.17" stroke="#86d83a" stroke-width="1.2"/>
<line x1="472.45" y1="58.42" x2="472.45" y2="54.87" stroke="#767676" stroke-width="1.3"/>
<line x1="472.45" y1="54.87" x2="472.45" y2="51.32" stroke="#86d83a" stroke-width="1.2"/>
<line x1="472.45" y1="58.42" x2="469.29" y2="60.30" stroke="#767676" stroke-width="1.3"/>
<line x1="469.29" y1="60.30" x2="466.14" y2="62.17" stroke="#86d83a" stroke-width="1.2"/>
<line x1="472.45" y1="58.42" x2="475.61" y2="60.30" stroke="#767676" stroke-width="1.3"/>
<line x1="475.61" y1="60.30" x2="478.76" y2="62.17" stroke="#86d83a" stroke-width="1.2"/>
<line x1="485.07" y1="58.42" x2="485.07" y2="54.87" stroke="#767676" stroke-width="1.3"/>
<line x1="485.07" y1="54.87" x2="485.07" y2="51.32" stroke="#86d83a" stroke-width="1.2"/>
<line x1="485.07" y1="58.42" x2="481.91" y2="60.30" stroke="#767676" stroke-width="1.3"/>
<line x1="481.91" y1="60.30" x2="478.76" y2="62.17" stroke="#86d83a" stroke-width="1.2"/>
<line x1="485.07" y1="58.42" x2="488.23" y2="60.30" stroke="#767676" stroke-width="1.3"/>
<line x1="488.23" y1="60.30" x2="491.38" y2="62.17" stroke="#86d83a" stroke-width="1.2"/>
<line x1="497.69" y1="58.42" x2="497.69" y2="54.87" stroke="#767676" stroke-width="1.3"/>
<line x1="497.69" y1="54.87" x2="497.69" y2="51.32" stroke="#86d83a" stroke-width="1.2"/>
<line x1="497.69" y1="58.42" x2="494.53" y2="60.30" stroke="#767676" stroke-width="1.3"/>
<line x1="494.53" y1="60.30" x2="491.38" y2="62.17" stroke="#86d83a" stroke-width="1.2"/>
<line x1="497.69" y1="58.42" x2="500.85" y2="60.30" stroke="#767676" stroke-width="1.3"/>
<line x1="500.85" y1="60.30" x2="504.00" y2="62.17" stroke="#86d83a" stroke-width="1.2"/>
<line x1="510.31" y1="58.42" x2="510.31" y2="54.87" stroke="#767676" stroke-width="1.3"/>
<line x1="510.31" y1="54.87" x2="510.31" y2="51.32" stroke="#86d83a" stroke-width="1.2"/>
<line x1="510.31" y1="58.42" x2="507.15" y2="60.30" stroke="#767676" stroke-width="1.3"/>
<line x1="507.15" y1="60.30" x2="504.00" y2="62.17" stroke="#86d83a" stroke-width="1.2"/>
<line x1="510.31" y1="58.42" x2="513.47" y2="60.30" stroke="#767676" stroke-width="1.3"/>
<line x1="513.47" y1="60.30" x2="516.62" y2="62.17" stroke="#86d83a" stroke-width="1.2"/>
<line x1="522.93" y1="58.42" x2="522.93" y2="54.87" stroke="#767676" stroke-width="1.3"/>
<line x1="522.93" y1="54.87" x2="522.93" y2="51.32" stroke="#86d83a" stroke-width="1.2"/>
<line x1="522.93" y1="58.42" x2="519.77" y2="60.30" stroke="#767676" stroke-width="1.3"/>
<line x1="519.77" y1="60.30" x2="516.62" y2="62.17" stroke="#86d83a" stroke-width="1.2"/>
<line x1="522.93" y1="58.42" x2="526.08" y2="60.30" stroke="#767676" stroke-width="1.3"/>
<line x1="526.08" y1="60.30" x2="529.24" y2="62.17" stroke="#86d83a" stroke-width="1.2"/>
<line x1="535.55" y1="58.42" x2="535.55" y2="54.87" stroke="#767676" stroke-width="1.3"/>
<line x1="535.55" y1="54.87" x2="535.55" y2="51.32" stroke="#86d83a" stroke-width="1.2"/>
<line x1="535.55" y1="58.42" x2="532.39" y2="60.30" stroke="#767676" stroke-width="1.3"/>
<line x1="532.39" y1="60.30" x2="529.24" y2="62.17" stroke="#86d83a" stroke-width="1.2"/>
<line x1="535.55" y1="58.42" x2="538.70" y2="60.30" stroke="#767676" stroke-width="1.3"/>
<line x1="538.70" y1="60.30" x2="541.86" y2="62.17" stroke="#86d83a" stroke-width="1.2"/>
<line x1="453.52" y1="69.24" x2="453.52" y2="65.69" stroke="#767676" stroke-width="1.3"/>
<line x1="453.52" y1="65.69" x2="453.52" y2="62.14" stroke="#86d83a" stroke-width="1.2"/>
<line x1="453.52" y1="69.24" x2="450.37" y2="71.12" stroke="#767676" stroke-width="1.3"/>
<line x1="450.37" y1="71.12" x2="447.21" y2="72.99" stroke="#86d83a" stroke-width="1.2"/>
<line x1="453.52" y1="69.24" x2="456.67" y2="71.12" stroke="#767676" stroke-width="1.3"/>
<line x1="456.67" y1="71.12" x2="459.83" y2="72.99" stroke="#86d83a" stroke-width="1.2"/>
<line x1="466.14" y1="69.24" x2="466.14" y2="65.69" stroke="#767676" stroke-width="1.3"/>
<line x1="466.14" y1="65.69" x2="466.14" y2="62.14" stroke="#86d83a" stroke-width="1.2"/>
<line x1="466.14" y1="69.24" x2="462.99" y2="71.12" stroke="#767676" stroke-width="1.3"/>
<line x1="462.99" y1="71.12" x2="459.83" y2="72.99" stroke="#86d83a" stroke-width="1.2"/>
<line x1="466.14" y1="69.24" x2="469.29" y2="71.12" stroke="#767676" stroke-width="1.3"/>
<line x1="469.29" y1="71.12" x2="472.45" y2="72.99" stroke="#86d83a" stroke-width="1.2"/>
<line x1="478.76" y1="69.24" x2="478.76" y2="65.69" stroke="#767676" stroke-width="1.3"/>
<line x1="478.76" y1="65.69" x2="478.76" y2="62.14" stroke="#86d83a" stroke-width="1.2"/>
<line x1="478.76" y1="69.24" x2="475.61" y2="71.12" stroke="#767676" stroke-width="1.3"/>
<line x1="475.61" y1="71.12" x2="472.45" y2="72.99" stroke="#86d83a" stroke-width="1.2"/>
<line x1="478.76" y1="69.24" x2="481.91" y2="71.12" stroke="#767676" stroke-width="1.3"/>
<line x1="481.91" y1="71.12" x2="485.07" y2="72.99" stroke="#86d83a" stroke-width="1.2"/>
<line x1="491.38" y1="69.24" x2="491.38" y2="65.69" stroke="#767676" stroke-width="1.3"/>
<line x1="491.38" y1="65.69" x2="491.38" y2="62.14" stroke="#86d83a" stroke-width="1.2"/>
<line x1="491.38" y1="69.24" x2="488.23" y2="71.12" stroke="#767676" stroke-width="1.3"/>
<line x1="488.23" y1="71.12" x2="485.07" y2="72.99" stroke="#86d83a" stroke-width="1.2"/>
<line x1="491.38" y1="69.24" x2="494.53" y2="71.12" stroke="#767676" stroke-width="1.3"/>
<line x1="494.53" y1="71.12" x2="497.69" y2="72.99" stroke="#86d83a" stroke-width="1.2"/>
<line x1="504.00" y1="69.24" x2="504.00" y2="65.69" stroke="#767676" stroke-width="1.3"/>
<line x1="504.00" y1="65.69" x2="504.00" y2="62.14" stroke="#86d83a" stroke-width="1.2"/>
<line x1="504.00" y1="69.24" x2="500.85" y2="71.12" stroke="#767676" stroke-width="1.3"/>
<line x1="500.85" y1="71.12" x2="497.69" y2="72.99" stroke="#86d83a" stroke-width="1.2"/>
<line x1="504.00" y1="69.24" x2="507.15" y2="71.12" stroke="#767676" stroke-width="1.3"/>
<line x1="507.15" y1="71.12" x2="510.31" y2="72.99" stroke="#86d83a" stroke-width="1.2"/>
<line x1="516.62" y1="69.24" x2="516.62" y2="65.69" stroke="#767676" stroke-width="1.3"/>
<line x1="516.62" y1="65.69" x2="516.62" y2="62.14" stroke="#86d83a" stroke-width="1.2"/>
<line x1="516.62" y1="69.24" x2="513.47" y2="71.12" stroke="#767676" stroke-width="1.3"/>
<line x1="513.47" y1="71.12" x2="510.31" y2="72.99" stroke="#86d83a" stroke-width="1.2"/>
<line x1="516.62" y1="69.24" x2="519.77" y2="71.12" stroke="#767676" stroke-width="1.3"/>
<line x1="519.77" y1="71.12" x2="522.93" y2="72.99" stroke="#86d83a" stroke-width="1.2"/>
<line x1="529.24" y1="69.24" x2="529.24" y2="65.69" stroke="#767676" stroke-width="1.3"/>
<line x1="529.24" y1="65.69" x2="529.24" y2="62.14" stroke="#86d83a" stroke-width="1.2"/>
<line x1="529.24" y1="69.24" x2="526.09" y2="71.12" stroke="#767676" stroke-width="1.3"/>
<line x1="526.09" y1="71.12" x2="522.93" y2="72.99" stroke="#86d83a" stroke-width="1.2"/>
<line x1="529.24" y1="69.24" x2="532.39" y2="71.12" stroke="#767676" stroke-width="1.3"/>
<line x1="532.39" y1="71.12" x2="535.55" y2="72.99" stroke="#86d83a" stroke-width="1.2"/>
<line x1="541.86" y1="69.24" x2="541.86" y2="65.69" stroke="#767676" stroke-width="1.3"/>
<line x1="541.86" y1="65.69" x2="541.86" y2="62.14" stroke="#86d83a" stroke-width="1.2"/>
<line x1="541.86" y1="69.24" x2="538.71" y2="71.12" stroke="#767676" stroke-width="1.3"/>
<line x1="538.71" y1="71.12" x2="535.55" y2="72.99" stroke="#86d83a" stroke-width="1.2"/>
<line x1="541.86" y1="69.24" x2="545.01" y2="71.12" stroke="#767676" stroke-width="1.3"/>
<line x1="545.01" y1="71.12" x2="548.17" y2="72.99" stroke="#86d83a" stroke-width="1.2"/>
<line x1="459.83" y1="80.06" x2="459.83" y2="76.51" stroke="#767676" stroke-width="1.3"/>
<line x1="459.83" y1="76.51" x2="459.83" y2="72.96" stroke="#86d83a" stroke-width="1.2"/>
<line x1="459.83" y1="80.06" x2="456.67" y2="81.94" stroke="#767676" stroke-width="1.3"/>
<line x1="456.67" y1="81.94" x2="453.52" y2="83.81" stroke="#86d83a" stroke-width="1.2"/>
<line x1="459.83" y1="80.06" x2="462.99" y2="81.94" stroke="#767676" stroke-width="1.3"/>
<line x1="462.99" y1="81.94" x2="466.14" y2="83.81" stroke="#86d83a" stroke-width="1.2"/>
<line x1="472.45" y1="80.06" x2="472.45" y2="76.51" stroke="#767676" stroke-width="1.3"/>
<line x1="472.45" y1="76.51" x2="472.45" y2="72.96" stroke="#86d83a" stroke-width="1.2"/>
<line x1="472.45" y1="80.06" x2="469.29" y2="81.94" stroke="#767676" stroke-width="1.3"/>
<line x1="469.29" y1="81.94" x2="466.14" y2="83.81" stroke="#86d83a" stroke-width="1.2"/>
<line x1="472.45" y1="80.06" x2="475.61" y2="81.94" stroke="#767676" stroke-width="1.3"/>
<line x1="475.61" y1="81.94" x2="478.76" y2="83.81" stroke="#86d83a" stroke-width="1.2"/>
<line x1="485.07" y1="80.06" x2="485.07" y2="76.51" stroke="#767676" stroke-width="1.3"/>
<line x1="485.07" y1="76.51" x2="485.07" y2="72.96" stroke="#86d83a" stroke-width="1.2"/>
<line x1="485.07" y1="80.06" x2="481.91" y2="81.94" stroke="#767676" stroke-width="1.3"/>
<line x1="481.91" y1="81.94" x2="478.76" y2="83.81" stroke="#86d83a" stroke-width="1.2"/>
<line x1="485.07" y1="80.06" x2="488.23" y2="81.94" stroke="#767676" stroke-width="1.3"/>
<line x1="488.23" y1="81.94" x2="491.38" y2="83.81" stroke="#86d83a" stroke-width="1.2"/>
<line x1="497.69" y1="80.06" x2="497.69" y2="76.51" stroke="#767676" stroke-width="1.3"/>
<line x1="497.69" y1="76.51" x2="497.69" y2="72.96" stroke="#86d83a" stroke-width="1.2"/>
<line x1="497.69" y1="80.06" x2="494.53" y2="81.94" stroke="#767676" stroke-width="1.3"/>
<line x1="494.53" y1="81.94" x2="491.38" y2="83.81" stroke="#86d83a" stroke-width="1.2"/>
<line x1="497.69" y1="80.06" x2="500.85" y2="81.94" stroke="#767676" stroke-width="1.3"/>
<line x1="500.85" y1="81.94" x2="504.00" y2="83.81" stroke="#86d83a" stroke-width="1.2"/>
<line x1="510.31" y1="80.06" x2="510.31" y2="76.51" stroke="#767676" stroke-width="1.3"/>
<line x1="510.31" y1="76.51" x2="510.31" y2="72.96" stroke="#86d83a" stroke-width="1.2"/>
<line x1="510.31" y1="80.06" x2="507.15" y2="81.94" stroke="#767676" stroke-width="1.3"/>
<line x1="507.15" y1="81.94" x2="504.00" y2="83.81" stroke="#86d83a" stroke-width="1.2"/>
<line x1="510.31" y1="80.06" x2="513.47" y2="81.94" stroke="#767676" stroke-width="1.3"/>
<line x1="513.47" y1="81.94" x2="516.62" y2="83.81" stroke="#86d83a" stroke-width="1.2"/>
<line x1="522.93" y1="80.06" x2="522.93" y2="76.51" stroke="#767676" stroke-width="1.3"/>
<line x1="522.93" y1="76.51" x2="522.93" y2="72.96" stroke="#86d83a" stroke-width="1.2"/>
<line x1="522.93" y1="80.06" x2="519.77" y2="81.94" stroke="#767676" stroke-width="1.3"/>
<line x1="519.77" y1="81.94" x2="516.62" y2="83.81" stroke="#86d83a" stroke-width="1.2"/>
<line x1="522.93" y1="80.06" x2="526.08" y2="81.94" stroke="#767676" stroke-width="1.3"/>
<line x1="526.08" y1="81.94" x2="529.24" y2="83.81" stroke="#86d83a" stroke-width="1.2"/>
<line x1="535.55" y1="80.06" x2="535.55" y2="76.51" stroke="#767676" stroke-width="1.3"/>
<line x1="535.55" y1="76.51" x2="535.55" y2="72.96" stroke="#86d83a" stroke-width="1.2"/>
<line x1="535.55" y1="80.06" x2="532.39" y2="81.94" stroke="#767676" stroke-width="1.3"/>
<line x1="532.39" y1="81.94" x2="529.24" y2="83.81" stroke="#86d83a" stroke-width="1.2"/>
<line x1="535.55" y1="80.06" x2="538.70" y2="81.94" stroke="#767676" stroke-width="1.3"/>
<line x1="538.70" y1="81.94" x2="541.86" y2="83.81" stroke="#86d83a" stroke-width="1.2"/>
<line x1="548.17" y1="80.06" x2="548.17" y2="76.51" stroke="#767676" stroke-width="1.3"/>
<line x1="548.17" y1="76.51" x2="548.17" y2="72.96" stroke="#86d83a" stroke-width="1.2"/>
<line x1="548.17" y1="80.06" x2="545.01" y2="81.94" stroke="#767676" stroke-width="1.3"/>
<line x1="545.01" y1="81.94" x2="541.86" y2="83.81" stroke="#86d83a" stroke-width="1.2"/>
<line x1="548.17" y1="80.06" x2="551.32" y2="81.94" stroke="#767676" stroke-width="1.3"/>
<line x1="551.32" y1="81.94" x2="554.48" y2="83.81" stroke="#86d83a" stroke-width="1.2"/>
<line x1="466.14" y1="90.88" x2="466.14" y2="87.33" stroke="#767676" stroke-width="1.3"/>
<line x1="466.14" y1="87.33" x2="466.14" y2="83.78" stroke="#86d83a" stroke-width="1.2"/>
<line x1="466.14" y1="90.88" x2="462.99" y2="92.75" stroke="#767676" stroke-width="1.3"/>
<line x1="462.99" y1="92.75" x2="459.83" y2="94.63" stroke="#86d83a" stroke-width="1.2"/>
<line x1="466.14" y1="90.88" x2="469.29" y2="92.75" stroke="#767676" stroke-width="1.3"/>
<line x1="469.29" y1="92.75" x2="472.45" y2="94.63" stroke="#86d83a" stroke-width="1.2"/>
<line x1="478.76" y1="90.88" x2="478.76" y2="87.33" stroke="#767676" stroke-width="1.3"/>
<line x1="478.76" y1="87.33" x2="478.76" y2="83.78" stroke="#86d83a" stroke-width="1.2"/>
<line x1="478.76" y1="90.88" x2="475.61" y2="92.75" stroke="#767676" stroke-width="1.3"/>
<line x1="475.61" y1="92.75" x2="472.45" y2="94.63" stroke="#86d83a" stroke-width="1.2"/>
<line x1="478.76" y1="90.88" x2="481.91" y2="92.75" stroke="#767676" stroke-width="1.3"/>
<line x1="481.91" y1="92.75" x2="485.07" y2="94.63" stroke="#86d83a" stroke-width="1.2"/>
<line x1="491.38" y1="90.88" x2="491.38" y2="87.33" stroke="#767676" stroke-width="1.3"/>
<line x1="491.38" y1="87.33" x2="491.38" y2="83.78" stroke="#86d83a" stroke-width="1.2"/>
<line x1="491.38" y1="90.88" x2="488.23" y2="92.75" stroke="#767676" stroke-width="1.3"/>
<line x1="488.23" y1="92.75" x2="485.07" y2="94.63" stroke="#86d83a" stroke-width="1.2"/>
<line x1="491.38" y1="90.88" x2="494.53" y2="92.75" stroke="#767676" stroke-width="1.3"/>
<line x1="494.53" y1="92.75" x2="497.69" y2="94.63" stroke="#86d83a" stroke-width="1.2"/>
<line x1="504.00" y1="90.88" x2="504.00" y2="87.33" stroke="#767676" stroke-width="1.3"/>
<line x1="504.00" y1="87.33" x2="504.00" y2="83.78" stroke="#86d83a" stroke-width="1.2"/>
<line x1="504.00" y1="90.88" x2="500.85" y2="92.75" stroke="#767676" stroke-width="1.3"/>
<line x1="500.85" y1="92.75" x2="497.69" y2="94.63" stroke="#86d83a" stroke-width="1.2"/>
<line x1="504.00" y1="90.88" x2="507.15" y2="92.75" stroke="#767676" stroke-width="1.3"/>
<line x1="507.15" y1="92.75" x2="510.31" y2="94.63" stroke="#86d83a" stroke-width="1.2"/>
<line x1="516.62" y1="90.88" x2="516.62" y2="87.33" stroke="#767676" stroke-width="1.3"/>
<line x1="516.62" y1="87.33" x2="516.62" y2="83.78" stroke="#86d83a" stroke-width="1.2"/>
<line x1="516.62" y1="90.88" x2="513.47" y2="92.75" stroke="#767676" stroke-width="1.3"/>
<line x1="513.47" y1="92.75" x2="510.31" y2="94.63" stroke="#86d83a" stroke-width="1.2"/>
<line x1="516.62" y1="90.88" x2="519.77" y2="92.75" stroke="#767676" stroke-width="1.3"/>
<line x1="519.77" y1="92.75" x2="522.93" y2="94.63" stroke="#86d83a" stroke-width="1.2"/>
<line x1="529.24" y1="90.88" x2="529.24" y2="87.33" stroke="#767676" stroke-width="1.3"/>
<line x1="529.24" y1="87.33" x2="529.24" y2="83.78" stroke="#86d83a" stroke-width="1.2"/>
<line x1="529.24" y1="90.88" x2="526.09" y2="92.75" stroke="#767676" stroke-width="1.3"/>
<line x1="526.09" y1="92.75" x2="522.93" y2="94.63" stroke="#86d83a" stroke-width="1.2"/>
<line x1="529.24" y1="90.88" x2="532.39" y2="92.75" stroke="#767676" stroke-width="1.3"/>
<line x1="532.39" y1="92.75" x2="535.55" y2="94.63" stroke="#86d83a" stroke-width="1.2"/>
<line x1="541.86" y1="90.88" x2="541.86" y2="87.33" stroke="#767676" stroke-width="1.3"/>
<line x1="541.86" y1="87.33" x2="541.86" y2="83.78" stroke="#86d83a" stroke-width="1.2"/>
<line x1="541.86" y1="90.88" x2="538.71" y2="92.75" stroke="#767676" stroke-width="1.3"/>
<line x1="538.71" y1="92.75" x2="535.55" y2="94.63" stroke="#86d83a" stroke-width="1.2"/>
<line x1="541.86" y1="90.88" x2="545.01" y2="92.75" stroke="#767676" stroke-width="1.3"/>
<line x1="545.01" y1="92.75" x2="548.17" y2="94.63" stroke="#86d83a" stroke-width="1.2"/>
<line x1="554.48" y1="90.88" x2="554.48" y2="87.33" stroke="#767676" stroke-width="1.3"/>
<line x1="554.48" y1="87.33" x2="554.48" y2="83.78" stroke="#86d83a" stroke-width="1.2"/>
<line x1="554.48" y1="90.88" x2="551.33" y2="92.75" stroke="#767676" stroke-width="1.3"/>
<line x1="551.33" y1="92.75" x2="548.17" y2="94.63" stroke="#86d83a" stroke-width="1.2"/>
<line x1="554.48" y1="90.88" x2="557.63" y2="92.75" stroke="#767676" stroke-width="1.3"/>
<line x1="557.63" y1="92.75" x2="560.79" y2="94.63" stroke="#86d83a" stroke-width="1.2"/>
<line x1="472.45" y1="101.70" x2="472.45" y2="98.15" stroke="#767676" stroke-width="1.3"/>
<line x1="472.45" y1="98.15" x2="472.45" y2="94.60" stroke="#86d83a" stroke-width="1.2"/>
<line x1="472.45" y1="101.70" x2="469.29" y2="103.58" stroke="#767676" stroke-width="1.3"/>
<line x1="469.29" y1="103.58" x2="466.14" y2="105.45" stroke="#86d83a" stroke-width="1.2"/>
<line x1="472.45" y1="101.70" x2="475.61" y2="103.58" stroke="#767676" stroke-width="1.3"/>
<line x1="475.61" y1="103.58" x2="478.76" y2="105.45" stroke="#86d83a" stroke-width="1.2"/>
<line x1="485.07" y1="101.70" x2="485.07" y2="98.15" stroke="#767676" stroke-width="1.3"/>
<line x1="485.07" y1="98.15" x2="485.07" y2="94.60" stroke="#86d83a" stroke-width="1.2"/>
<line x1="485.07" y1="101.70" x2="481.91" y2="103.58" stroke="#767676" stroke-width="1.3"/>
<line x1="481.91" y1="103.58" x2="478.76" y2="105.45" stroke="#86d83a" stroke-width="1.2"/>
<line x1="485.07" y1="101.70" x2="488.23" y2="103.58" stroke="#767676" stroke-width="1.3"/>
<line x1="488.23" y1="103.58" x2="491.38" y2="105.45" stroke="#86d83a" stroke-width="1.2"/>
<line x1="497.69" y1="101.70" x2="497.69" y2="98.15" stroke="#767676" stroke-width="1.3"/>
<line x1="497.69" y1="98.15" x2="497.69" y2="94.60" stroke="#86d83a" stroke-width="1.2"/>
<line x1="497.69" y1="101.70" x2="494.53" y2="103.58" stroke="#767676" stroke-width="1.3"/>
<line x1="494.53" y1="103.58" x2="491.38" y2="105.45" stroke="#86d83a" stroke-width="1.2"/>
<line x1="497.69" y1="101.70" x2="500.85" y2="103.58" stroke="#767676" stroke-width="1.3"/>
<line x1="500.85" y1="103.58" x2="504.00" y2="105.45" stroke="#86d83a" stroke-width="1.2"/>
<line x1="510.31" y1="101.70" x2="510.31" y2="98.15" stroke="#767676" stroke-width="1.3"/>
<line x1="510.31" y1="98.15" x2="510.31" y2="94.60" stroke="#86d83a" stroke-width="1.2"/>
<line x1="510.31" y1="101.70" x2="507.15" y2="103.58" stroke="#767676" stroke-width="1.3"/>
<line x1="507.15" y1="103.58" x2="504.00" y2="105.45" stroke="#86d83a" stroke-width="1.2"/>
<line x1="510.31" y1="101.70" x2="513.47" y2="103.58" stroke="#767676" stroke-width="1.3"/>
<line x1="513.47" y1="103.58" x2="516.62" y2="105.45" stroke="#86d83a" stroke-width="1.2"/>
<line x1="522.93" y1="101.70" x2="522.93" y2="98.15" stroke="#767676" stroke-width="1.3"/>
<line x1="522.93" y1="98.15" x2="522.93" y2="94.60" stroke="#86d83a" stroke-width="1.2"/>
<line x1="522.93" y1="101.70" x2="519.77" y2="103.58" stroke="#767676" stroke-width="1.3"/>
<line x1="519.77" y1="103.58" x2="516.62" y2="105.45" stroke="#86d83a" stroke-width="1.2"/>
<line x1="522.93" y1="101.70" x2="526.08" y2="103.58" stroke="#767676" stroke-width="1.3"/>
<line x1="526.08" y1="103.58" x2="529.24" y2="105.45" stroke="#86d83a" stroke-width="1.2"/>
<line x1="535.55" y1="101.70" x2="535.55" y2="98.15" stroke="#767676" stroke-width="1.3"/>
<line x1="535.55" y1="98.15" x2="535.55" y2="94.60" stroke="#86d83a" stroke-width="1.2"/>
<line x1="535.55" y1="101.70" x2="532.39" y2="103.58" stroke="#767676" stroke-width="1.3"/>
<line x1="532.39" y1="103.58" x2="529.24" y2="105.45" stroke="#86d83a" stroke-width="1.2"/>
<line x1="535.55" y1="101.70" x2="538.70" y2="103.58" stroke="#767676" stroke-width="1.3"/>
<line x1="538.70" y1="103.58" x2="541.86" y2="105.45" stroke="#86d83a" stroke-width="1.2"/>
<line x1="548.17" y1="101.70" x2="548.17" y2="98.15" stroke="#767676" stroke-width="1.3"/>
<line x1="548.17" y1="98.15" x2="548.17" y2="94.60" stroke="#86d83a" stroke-width="1.2"/>
<line x1="548.17" y1="101.70" x2="545.01" y2="103.58" stroke="#767676" stroke-width="1.3"/>
<line x1="545.01" y1="103.58" x2="541.86" y2="105.45" stroke="#86d83a" stroke-width="1.2"/>
<line x1="548.17" y1="101.70" x2="551.32" y2="103.58" stroke="#767676" stroke-width="1.3"/>
<line x1="551.32" y1="103.58" x2="554.48" y2="105.45" stroke="#86d83a" stroke-width="1.2"/>
<line x1="560.79" y1="101.70" x2="560.79" y2="98.15" stroke="#767676" stroke-width="1.3"/>
<line x1="560.79" y1="98.15" x2="560.79" y2="94.60" stroke="#86d83a" stroke-width="1.2"/>
<line x1="560.79" y1="101.70" x2="557.63" y2="103.58" stroke="#767676" stroke-width="1.3"/>
<line x1="557.63" y1="103.58" x2="554.48" y2="105.45" stroke="#86d83a" stroke-width="1.2"/>
<line x1="560.79" y1="101.70" x2="563.94" y2="103.58" stroke="#767676" stroke-width="1.3"/>
<line x1="563.94" y1="103.58" x2="567.10" y2="105.45" stroke="#86d83a" stroke-width="1.2"/>
<line x1="478.76" y1="112.52" x2="478.76" y2="108.97" stroke="#767676" stroke-width="1.3"/>
<line x1="478.76" y1="108.97" x2="478.76" y2="105.42" stroke="#86d83a" stroke-width="1.2"/>
<line x1="478.76" y1="112.52" x2="475.61" y2="114.40" stroke="#767676" stroke-width="1.3"/>
<line x1="475.61" y1="114.40" x2="472.45" y2="116.27" stroke="#86d83a" stroke-width="1.2"/>
<line x1="478.76" y1="112.52" x2="481.91" y2="114.40" stroke="#767676" stroke-width="1.3"/>
<line x1="481.91" y1="114.40" x2="485.07" y2="116.27" stroke="#86d83a" stroke-width="1.2"/>
<line x1="491.38" y1="112.52" x2="491.38" y2="108.97" stroke="#767676" stroke-width="1.3"/>
<line x1="491.38" y1="108.97" x2="491.38" y2="105.42" stroke="#86d83a" stroke-width="1.2"/>
<line x1="491.38" y1="112.52" x2="488.23" y2="114.40" stroke="#767676" stroke-width="1.3"/>
<line x1="488.23" y1="114.40" x2="485.07" y2="116.27" stroke="#86d83a" stroke-width="1.2"/>
<line x1="491.38" y1="112.52" x2="494.53" y2="114.40" stroke="#767676" stroke-width="1.3"/>
<line x1="494.53" y1="114.40" x2="497.69" y2="116.27" stroke="#86d83a" stroke-width="1.2"/>
<line x1="504.00" y1="112.52" x2="504.00" y2="108.97" stroke="#767676" stroke-width="1.3"/>
<line x1="504.00" y1="108.97" x2="504.00" y2="105.42" stroke="#86d83a" stroke-width="1.2"/>
<line x1="504.00" y1="112.52" x2="500.85" y2="114.40" stroke="#767676" stroke-width="1.3"/>
<line x1="500.85" y1="114.40" x2="497.69" y2="116.27" stroke="#86d83a" stroke-width="1.2"/>
<line x1="504.00" y1="112.52" x2="507.15" y2="114.40" stroke="#767676" stroke-width="1.3"/>
<line x1="507.15" y1="114.40" x2="510.31" y2="116.27" stroke="#86d83a" stroke-width="1.2"/>
<line x1="516.62" y1="112.52" x2="516.62" y2="108.97" stroke="#767676" stroke-width="1.3"/>
<line x1="516.62" y1="108.97" x2="516.62" y2="105.42" stroke="#86d83a" stroke-width="1.2"/>
<line x1="516.62" y1="112.52" x2="513.47" y2="114.40" stroke="#767676" stroke-width="1.3"/>
<line x1="513.47" y1="114.40" x2="510.31" y2="116.27" stroke="#86d83a" stroke-width="1.2"/>
<line x1="516.62" y1="112.52" x2="519.77" y2="114.40" stroke="#767676" stroke-width="1.3"/>
<line x1="519.77" y1="114.40" x2="522.93" y2="116.27" stroke="#86d83a" stroke-width="1.2"/>
<line x1="529.24" y1="112.52" x2="529.24" y2="108.97" stroke="#767676" stroke-width="1.3"/>
<line x1="529.24" y1="108.97" x2="529.24" y2="105.42" stroke="#86d83a" stroke-width="1.2"/>
<line x1="529.24" y1="112.52" x2="526.09" y2="114.40" stroke="#767676" stroke-width="1.3"/>
<line x1="526.09" y1="114.40" x2="522.93" y2="116.27" stroke="#86d83a" stroke-width="1.2"/>
<line x1="529.24" y1="112.52" x2="532.39" y2="114.40" stroke="#767676" stroke-width="1.3"/>
<line x1="532.39" y1="114.40" x2="535.55" y2="116.27" stroke="#86d83a" stroke-width="1.2"/>
<line x1="541.86" y1="112.52" x2="541.86" y2="108.97" stroke="#767676" stroke-width="1.3"/>
<line x1="541.86" y1="108.97" x2="541.86" y2="105.42" stroke="#86d83a" stroke-width="1.2"/>
<line x1="541.86" y1="112.52" x2="538.71" y2="114.40" stroke="#767676" stroke-width="1.3"/>
<line x1="538.71" y1="114.40" x2="535.55" y2="116.27" stroke="#86d83a" stroke-width="1.2"/>
<line x1="541.86" y1="112.52" x2="545.01" y2="114.40" stroke="#767676" stroke-width="1.3"/>
<line x1="545.01" y1="114.40" x2="548.17" y2="116.27" stroke="#86d83a" stroke-width="1.2"/>
<line x1="554.48" y1="112.52" x2="554.48" y2="108.97" stroke="#767676" stroke-width="1.3"/>
<line x1="554.48" y1="108.97" x2="554.48" y2="105.42" stroke="#86d83a" stroke-width="1.2"/>
<line x1="554.48" y1="112.52" x2="551.33" y2="114.40" stroke="#767676" stroke-width="1.3"/>
<line x1="551.33" y1="114.40" x2="548.17" y2="116.27" stroke="#86d83a" stroke-width="1.2"/>
<line x1="554.48" y1="112.52" x2="557.63" y2="114.40" stroke="#767676" stroke-width="1.3"/>
<line x1="557.63" y1="114.40" x2="560.79" y2="116.27" stroke="#86d83a" stroke-width="1.2"/>
<line x1="567.10" y1="112.52" x2="567.10" y2="108.97" stroke="#767676" stroke-width="1.3"/>
<line x1="567.10" y1="108.97" x2="567.10" y2="105.42" stroke="#86d83a" stroke-width="1.2"/>
<line x1="567.10" y1="112.52" x2="563.95" y2="114.40" stroke="#767676" stroke-width="1.3"/>
<line x1="563.95" y1="114.40" x2="560.79" y2="116.27" stroke="#86d83a" stroke-width="1.2"/>
<line x1="567.10" y1="112.52" x2="570.25" y2="114.40" stroke="#767676" stroke-width="1.3"/>
<line x1="570.25" y1="114.40" x2="573.41" y2="116.27" stroke="#86d83a" stroke-width="1.2"/>
<line x1="497.69" y1="123.34" x2="497.69" y2="119.79" stroke="#767676" stroke-width="1.3"/>
<line x1="497.69" y1="119.79" x2="497.69" y2="116.24" stroke="#86d83a" stroke-width="1.2"/>
<line x1="497.69" y1="123.34" x2="494.53" y2="125.22" stroke="#767676" stroke-width="1.3"/>
<line x1="494.53" y1="125.22" x2="491.38" y2="127.09" stroke="#86d83a" stroke-width="1.2"/>
<line x1="497.69" y1="123.34" x2="500.85" y2="125.22" stroke="#767676" stroke-width="1.3"/>
<line x1="500.85" y1="125.22" x2="504.00" y2="127.09" stroke="#86d83a" stroke-width="1.2"/>
<line x1="510.31" y1="123.34" x2="510.31" y2="119.79" stroke="#767676" stroke-width="1.3"/>
<line x1="510.31" y1="119.79" x2="510.31" y2="116.24" stroke="#86d83a" stroke-width="1.2"/>
<line x1="510.31" y1="123.34" x2="507.15" y2="125.22" stroke="#767676" stroke-width="1.3"/>
<line x1="507.15" y1="125.22" x2="504.00" y2="127.09" stroke="#86d83a" stroke-width="1.2"/>
<line x1="510.31" y1="123.34" x2="513.47" y2="125.22" stroke="#767676" stroke-width="1.3"/>
<line x1="513.47" y1="125.22" x2="516.62" y2="127.09" stroke="#86d83a" stroke-width="1.2"/>
<line x1="522.93" y1="123.34" x2="522.93" y2="119.79" stroke="#767676" stroke-width="1.3"/>
<line x1="522.93" y1="119.79" x2="522.93" y2="116.24" stroke="#86d83a" stroke-width="1.2"/>
<line x1="522.93" y1="123.34" x2="519.77" y2="125.22" stroke="#767676" stroke-width="1.3"/>
<line x1="519.77" y1="125.22" x2="516.62" y2="127.09" stroke="#86d83a" stroke-width="1.2"/>
<line x1="522.93" y1="123.34" x2="526.08" y2="125.22" stroke="#767676" stroke-width="1.3"/>
<line x1="526.08" y1="125.22" x2="529.24" y2="127.09" stroke="#86d83a" stroke-width="1.2"/>
<line x1="535.55" y1="123.34" x2="535.55" y2="119.79" stroke="#767676" stroke-width="1.3"/>
<line x1="535.55" y1="119.79" x2="535.55" y2="116.24" stroke="#86d83a" stroke-width="1.2"/>
<line x1="535.55" y1="123.34" x2="532.39" y2="125.22" stroke="#767676" stroke-width="1.3"/>
<line x1="532.39" y1="125.22" x2="529.24" y2="127.09" stroke="#86d83a" stroke-width="1.2"/>
<line x1="535.55" y1="123.34" x2="538.70" y2="125.22" stroke="#767676" stroke-width="1.3"/>
<line x1="538.70" y1="125.22" x2="541.86" y2="127.09" stroke="#86d83a" stroke-width="1.2"/>
<line x1="548.17" y1="123.34" x2="548.17" y2="119.79" stroke="#767676" stroke-width="1.3"/>
<line x1="548.17" y1="119.79" x2="548.17" y2="116.24" stroke="#86d83a" stroke-width="1.2"/>
<line x1="548.17" y1="123.34" x2="545.01" y2="125.22" stroke="#767676" stroke-width="1.3"/>
<line x1="545.01" y1="125.22" x2="541.86" y2="127.09" stroke="#86d83a" stroke-width="1.2"/>
<line x1="548.17" y1="123.34" x2="551.32" y2="125.22" stroke="#767676" stroke-width="1.3"/>
<line x1="551.32" y1="125.22" x2="554.48" y2="127.09" stroke="#86d83a" stroke-width="1.2"/>
<line x1="560.79" y1="123.34" x2="560.79" y2="119.79" stroke="#767676" stroke-width="1.3"/>
<line x1="560.79" y1="119.79" x2="560.79" y2="116.24" stroke="#86d83a" stroke-width="1.2"/>
<line x1="560.79" y1="123.34" x2="557.63" y2="125.22" stroke="#767676" stroke-width="1.3"/>
<line x1="557.63" y1="125.22" x2="554.48" y2="127.09" stroke="#86d83a" stroke-width="1.2"/>
<line x1="560.79" y1="123.34" x2="563.94" y2="125.22" stroke="#767676" stroke-width="1.3"/>
<line x1="563.94" y1="125.22" x2="567.10" y2="127.09" stroke="#86d83a" stroke-width="1.2"/>
<line x1="573.41" y1="123.34" x2="573.41" y2="119.79" stroke="#767676" stroke-width="1.3"/>
<line x1="573.41" y1="119.79" x2="573.41" y2="116.24" stroke="#86d83a" stroke-width="1.2"/>
<line x1="573.41" y1="123.34" x2="570.25" y2="125.22" stroke="#767676" stroke-width="1.3"/>
<line x1="570.25" y1="125.22" x2="567.10" y2="127.09" stroke="#86d83a" stroke-width="1.2"/>
<line x1="573.41" y1="123.34" x2="576.56" y2="125.22" stroke="#767676" stroke-width="1.3"/>
<line x1="576.56" y1="125.22" x2="579.72" y2="127.09" stroke="#86d83a" stroke-width="1.2"/>
<circle cx="440.90" cy="40.50" r="2.3" fill="#a2e065"/>
<circle cx="434.59" cy="51.35" r="2.3" fill="#a2e065"/>
<circle cx="447.21" cy="51.35" r="1.9" fill="#86d83a"/>
<circle cx="453.52" cy="40.50" r="2.3" fill="#a2e065"/>
<circle cx="459.83" cy="51.35" r="1.9" fill="#86d83a"/>
<circle cx="466.14" cy="40.50" r="2.3" fill="#a2e065"/>
<circle cx="472.45" cy="51.35" r="1.9" fill="#d2e03a"/>
<circle cx="478.76" cy="40.50" r="2.3" fill="#a2e065"/>
<circle cx="485.07" cy="51.35" r="1.9" fill="#86d83a"/>
<circle cx="491.38" cy="40.50" r="2.3" fill="#a2e065"/>
<circle cx="497.69" cy="51.35" r="1.9" fill="#86d83a"/>
<circle cx="504.00" cy="40.50" r="2.3" fill="#a2e065"/>
<circle cx="510.31" cy="51.35" r="1.9" fill="#86d83a"/>
<circle cx="516.62" cy="40.50" r="2.3" fill="#a2e065"/>
<circle cx="522.93" cy="51.35" r="1.9" fill="#86d83a"/>
<circle cx="529.24" cy="40.50" r="2.3" fill="#a2e065"/>
<circle cx="535.55" cy="51.35" r="1.9" fill="#86d83a"/>
<circle cx="440.90" cy="62.17" r="2.3" fill="#a2e065"/>
<circle cx="453.52" cy="62.17" r="1.9" fill="#86d83a"/>
<circle cx="466.14" cy="62.17" r="1.9" fill="#86d83a"/>
<circle cx="478.76" cy="62.17" r="1.9" fill="#86d83a"/>
<circle cx="491.38" cy="62.17" r="1.9" fill="#86d83a"/>
<circle cx="504.00" cy="62.17" r="1.9" fill="#86d83a"/>
<circle cx="516.62" cy="62.17" r="1.9" fill="#86d83a"/>
<circle cx="529.24" cy="62.17" r="1.9" fill="#86d83a"/>
<circle cx="541.86" cy="62.17" r="1.9" fill="#86d83a"/>
<circle cx="447.21" cy="72.99" r="2.3" fill="#a2e065"/>
<circle cx="459.83" cy="72.99" r="1.9" fill="#86d83a"/>
<circle cx="472.45" cy="72.99" r="1.9" fill="#86d83a"/>
<circle cx="485.07" cy="72.99" r="1.9" fill="#86d83a"/>
<circle cx="497.69" cy="72.99" r="1.9" fill="#86d83a"/>
<circle cx="510.31" cy="72.99" r="1.9" fill="#86d83a"/>
<circle cx="522.93" cy="72.99" r="1.9" fill="#86d83a"/>
<circle cx="535.55" cy="72.99" r="1.9" fill="#86d83a"/>
<circle cx="548.17" cy="72.99" r="1.9" fill="#86d83a"/>
<circle cx="453.52" cy="83.81" r="2.3" fill="#a2e065"/>
<circle cx="466.14" cy="83.81" r="1.9" fill="#86d83a"/>
<circle cx="478.76" cy="83.81" r="1.9" fill="#86d83a"/>
<circle cx="491.38" cy="83.81" r="1.9" fill="#86d83a"/>
<circle cx="504.00" cy="83.81" r="1.9" fill="#86d83a"/>
<circle cx="516.62" cy="83.81" r="1.9" fill="#86d83a"/>
<circle cx="529.24" cy="83.81" r="1.9" fill="#86d83a"/>
<circle cx="541.86" cy="83.81" r="1.9" fill="#86d83a"/>
<circle cx="554.48" cy="83.81" r="1.9" fill="#86d83a"/>
<circle cx="459.83" cy="94.63" r="2.3" fill="#a2e065"/>
<circle cx="472.45" cy="94.63" r="1.9" fill="#86d83a"/>
<circle cx="485.07" cy="94.63" r="1.9" fill="#86d83a"/>
<circle cx="497.69" cy="94.63" r="1.9" fill="#86d83a"/>
<circle cx="510.31" cy="94.63" r="1.9" fill="#86d83a"/>
<circle cx="522.93" cy="94.63" r="1.9" fill="#86d83a"/>
<circle cx="535.55" cy="94.63" r="1.9" fill="#86d83a"/>
<circle cx="548.17" cy="94.63" r="1.9" fill="#86d83a"/>
<circle cx="560.79" cy="94.63" r="1.9" fill="#86d83a"/>
<circle cx="466.14" cy="105.45" r="2.3" fill="#a2e065"/>
<circle cx="478.76" cy="105.45" r="1.9" fill="#86d83a"/>
<circle cx="491.38" cy="105.45" r="1.9" fill="#86d83a"/>
<circle cx="504.00" cy="105.45" r="1.9" fill="#86d83a"/>
<circle cx="516.62" cy="105.45" r="1.9" fill="#86d83a"/>
<circle cx="529.24" cy="105.45" r="1.9" fill="#86d83a"/>
<circle cx="541.86" cy="105.45" r="1.9" fill="#86d83a"/>
<circle cx="554.48" cy="105.45" r="1.9" fill="#86d83a"/>
<circle cx="567.10" cy="105.45" r="1.9" fill="#86d83a"/>
<circle cx="472.45" cy="116.27" r="2.3" fill="#a2e065"/>
<circle cx="485.07" cy="116.27" r="1.9" fill="#86d83a"/>
<circle cx="497.69" cy="116.27" r="1.9" fill="#86d83a"/>
<circle cx="510.31" cy="116.27" r="1.9" fill="#86d83a"/>
<circle cx="522.93" cy="116.27" r="1.9" fill="#86d83a"/>
<circle cx="535.55" cy="116.27" r="1.9" fill="#86d83a"/>
<circle cx="548.17" cy="116.27" r="1.9" fill="#86d83a"/>
<circle cx="560.79" cy="116.27" r="1.9" fill="#86d83a"/>
<circle cx="573.41" cy="116.27" r="1.9" fill="#86d83a"/>
<circle cx="491.38" cy="127.09" r="2.3" fill="#a2e065"/>
<circle cx="504.00" cy="127.09" r="1.9" fill="#86d83a"/>
<circle cx="516.62" cy="127.09" r="1.9" fill="#86d83a"/>
<circle cx="529.24" cy="127.09" r="1.9" fill="#86d83a"/>
<circle cx="541.86" cy="127.09" r="1.9" fill="#86d83a"/>
<circle cx="554.48" cy="127.09" r="1.9" fill="#86d83a"/>
<circle cx="567.10" cy="127.09" r="1.9" fill="#86d83a"/>
<circle cx="579.72" cy="127.09" r="2.3" fill="#a2e065"/>
<circle cx="440.90" cy="47.60" r="1.9" fill="#cfcfcf" stroke="#656565" stroke-width="0.9"/>
<circle cx="453.52" cy="47.60" r="1.9" fill="#cfcfcf" stroke="#656565" stroke-width="0.9"/>
<circle cx="466.14" cy="47.60" r="1.9" fill="#cfcfcf" stroke="#656565" stroke-width="0.9"/>
<circle cx="478.76" cy="47.60" r="1.9" fill="#cfcfcf" stroke="#656565" stroke-width="0.9"/>
<circle cx="491.38" cy="47.60" r="1.9" fill="#cfcfcf" stroke="#656565" stroke-width="0.9"/>
<circle cx="504.00" cy="47.60" r="1.9" fill="#cfcfcf" stroke="#656565" stroke-width="0.9"/>
<circle cx="516.62" cy="47.60" r="1.9" fill="#cfcfcf" stroke="#656565" stroke-width="0.9"/>
<circle cx="529.24" cy="47.60" r="1.9" fill="#cfcfcf" stroke="#656565" stroke-width="0.9"/>
<circle cx="447.21" cy="58.42" r="1.9" fill="#cfcfcf" stroke="#656565" stroke-width="0.9"/>
<circle cx="459.83" cy="58.42" r="1.9" fill="#cfcfcf" stroke="#656565" stroke-width="0.9"/>
<circle cx="472.45" cy="58.42" r="1.9" fill="#cfcfcf" stroke="#656565" stroke-width="0.9"/>
<circle cx="485.07" cy="58.42" r="1.9" fill="#cfcfcf" stroke="#656565" stroke-width="0.9"/>
<circle cx="497.69" cy="58.42" r="1.9" fill="#cfcfcf" stroke="#656565" stroke-width="0.9"/>
<circle cx="510.31" cy="58.42" r="1.9" fill="#cfcfcf" stroke="#656565" stroke-width="0.9"/>
<circle cx="522.93" cy="58.42" r="1.9" fill="#cfcfcf" stroke="#656565" stroke-width="0.9"/>
<circle cx="535.55" cy="58.42" r="1.9" fill="#cfcfcf" stroke="#656565" stroke-width="0.9"/>
<circle cx="453.52" cy="69.24" r="1.9" fill="#cfcfcf" stroke="#656565" stroke-width="0.9"/>
<circle cx="466.14" cy="69.24" r="1.9" fill="#cfcfcf" stroke="#656565" stroke-width="0.9"/>
<circle cx="478.76" cy="69.24" r="1.9" fill="#cfcfcf" stroke="#656565" stroke-width="0.9"/>
<circle cx="491.38" cy="69.24" r="1.9" fill="#cfcfcf" stroke="#656565" stroke-width="0.9"/>
<circle cx="504.00" cy="69.24" r="1.9" fill="#cfcfcf" stroke="#656565" stroke-width="0.9"/>
<circle cx="516.62" cy="69.24" r="1.9" fill="#cfcfcf" stroke="#656565" stroke-width="0.9"/>
<circle cx="529.24" cy="69.24" r="1.9" fill="#cfcfcf" stroke="#656565" stroke-width="0.9"/>
<circle cx="541.86" cy="69.24" r="1.9" fill="#cfcfcf" stroke="#656565" stroke-width="0.9"/>
<circle cx="459.83" cy="80.06" r="1.9" fill="#cfcfcf" stroke="#656565" stroke-width="0.9"/>
<circle cx="472.45" cy="80.06" r="1.9" fill="#cfcfcf" stroke="#656565" stroke-width="0.9"/>
<circle cx="485.07" cy="80.06" r="1.9" fill="#cfcfcf" stroke="#656565" stroke-width="0.9"/>
<circle cx="497.69" cy="80.06" r="1.9" fill="#cfcfcf" stroke="#656565" stroke-width="0.9"/>
<circle cx="510.31" cy="80.06" r="1.9" fill="#cfcfcf" stroke="#656565" stroke-width="0.9"/>
<circle cx="522.93" cy="80.06" r="1.9" fill="#cfcfcf" stroke="#656565" stroke-width="0.9"/>
<circle cx="535.55" cy="80.06" r="1.9" fill="#cfcfcf" stroke="#656565" stroke-width="0.9"/>
<circle cx="548.17" cy="80.06" r="1.9" fill="#cfcfcf" stroke="#656565" stroke-width="0.9"/>
<circle cx="466.14" cy="90.88" r="1.9" fill="#cfcfcf" stroke="#656565" stroke-width="0.9"/>
<circle cx="478.76" cy="90.88" r="1.9" fill="#cfcfcf" stroke="#656565" stroke-width="0.9"/>
<circle cx="491.38" cy="90.88" r="1.9" fill="#cfcfcf" stroke="#656565" stroke-width="0.9"/>
<circle cx="504.00" cy="90.88" r="1.9" fill="#cfcfcf" stroke="#656565" stroke-width="0.9"/>
<circle cx="516.62" cy="90.88" r="1.9" fill="#cfcfcf" stroke="#656565" stroke-width="0.9"/>
<circle cx="529.24" cy="90.88" r="1.9" fill="#cfcfcf" stroke="#656565" stroke-width="0.9"/>
<circle cx="541.86" cy="90.88" r="1.9" fill="#cfcfcf" stroke="#656565" stroke-width="0.9"/>
<circle cx="554.48" cy="90.88" r="1.9" fill="#cfcfcf" stroke="#656565" stroke-width="0.9"/>
<circle cx="472.45" cy="101.70" r="1.9" fill="#cfcfcf" stroke="#656565" stroke-width="0.9"/>
<circle cx="485.07" cy="101.70" r="1.9" fill="#cfcfcf" stroke="#656565" stroke-width="0.9"/>
<circle cx="497.69" cy="101.70" r="1.9" fill="#cfcfcf" stroke="#656565" stroke-width="0.9"/>
<circle cx="510.31" cy="101.70" r="1.9" fill="#cfcfcf" stroke="#656565" stroke-width="0.9"/>
<circle cx="522.93" cy="101.70" r="1.9" fill="#cfcfcf" stroke="#656565" stroke-width="0.9"/>
<circle cx="535.55" cy="101.70" r="1.9" fill="#cfcfcf" stroke="#656565" stroke-width="0.9"/>
<circle cx="548.17" cy="101.70" r="1.9" fill="#cfcfcf" stroke="#656565" stroke-width="0.9"/>
<circle cx="560.79" cy="101.70" r="1.9" fill="#cfcfcf" stroke="#656565" stroke-width="0.9"/>
<circle cx="478.76" cy="112.52" r="1.9" fill="#cfcfcf" stroke="#656565" stroke-width="0.9"/>
<circle cx="491.38" cy="112.52" r="1.9" fill="#cfcfcf" stroke="#656565" stroke-width="0.9"/>
<circle cx="504.00" cy="112.52" r="1.9" fill="#cfcfcf" stroke="#656565" stroke-width="0.9"/>
<circle cx="516.62" cy="112.52" r="1.9" fill="#cfcfcf" stroke="#656565" stroke-width="0.9"/>
<circle cx="529.24" cy="112.52" r="1.9" fill="#cfcfcf" stroke="#656565" stroke-width="0.9"/>
<circle cx="541.86" cy="112.52" r="1.9" fill="#cfcfcf" stroke="#656565" stroke-width="0.9"/>
<circle cx="554.48" cy="112.52" r="1.9" fill="#cfcfcf" stroke="#656565" stroke-width="0.9"/>
<circle cx="567.10" cy="112.52" r="1.9" fill="#cfcfcf" stroke="#656565" stroke-width="0.9"/>
<circle cx="497.69" cy="123.34" r="1.9" fill="#cfcfcf" stroke="#656565" stroke-width="0.9"/>
<circle cx="510.31" cy="123.34" r="1.9" fill="#cfcfcf" stroke="#656565" stroke-width="0.9"/>
<circle cx="522.93" cy="123.34" r="1.9" fill="#cfcfcf" stroke="#656565" stroke-width="0.9"/>
<circle cx="535.55" cy="123.34" r="1.9" fill="#cfcfcf" stroke="#656565" stroke-width="0.9"/>
<circle cx="548.17" cy="123.34" r="1.9" fill="#cfcfcf" stroke="#656565" stroke-width="0.9"/>
<circle cx="560.79" cy="123.34" r="1.9" fill="#cfcfcf" stroke="#656565" stroke-width="0.9"/>
<circle cx="573.41" cy="123.34" r="1.9" fill="#cfcfcf" stroke="#656565" stroke-width="0.9"/>
<circle cx="472.45" cy="51.32" r="5.2" fill="none" stroke="#d4733a" stroke-width="1.3"/>
<circle cx="478.76" cy="62.14" r="5.2" fill="none" stroke="#4a7fc0" stroke-width="1.3"/>
<circle cx="487.27" cy="123.74" r="5.2" fill="none" stroke="#4a7fc0" stroke-width="1.3"/>
<rect x="61.00" y="244.50" width="12.4" height="12.4" fill="none" stroke="#5b8c3d" stroke-width="1.2"/>
<rect x="358.38" y="203.70" width="12.4" height="12.4" fill="none" stroke="#5b8c3d" stroke-width="1.2"/>
<rect x="643.86" y="47.30" width="12.4" height="12.4" fill="none" stroke="#5b8c3d" stroke-width="1.2"/>
<path d="M67.9,243.7 C105,226 150,224 154.5,207" fill="none" stroke="#5f9e3c" stroke-width="1.15" stroke-dasharray="1.3 1.5"/>
<polygon points="157.20,198.50 159.05,207.82 150.85,205.57" fill="#5f9e3c"/>
<path d="M364.1,203.5 C358,191 347,181 344.2,169" fill="none" stroke="#5f9e3c" stroke-width="1.15" stroke-dasharray="1.3 1.5"/>
<polygon points="343.30,162.60 348.29,170.69 339.83,171.45" fill="#5f9e3c"/>
<path d="M648.9,59.3 C640,73 620,84 579,94.6" fill="none" stroke="#5f9e3c" stroke-width="1.15" stroke-dasharray="1.3 1.5"/>
<polygon points="573.20,97.20 579.47,90.82 582.07,98.38" fill="#5f9e3c"/>
<text x="6.3" y="450" font-size="17" fill="#222" textLength="21" lengthAdjust="spacingAndGlyphs">(b)</text>
<line x1="30.3" y1="672.00" x2="340.5" y2="672.00" stroke="#e3e3e3" stroke-width="0.8" stroke-dasharray="2 1.6"/>
<line x1="26.8" y1="672.00" x2="30.3" y2="672.00" stroke="#a8a8a8" stroke-width="1"/>
<text x="26.4" y="676.60" font-size="11.3" fill="#222" text-anchor="end" textLength="6.5" lengthAdjust="spacingAndGlyphs">0</text>
<line x1="30.3" y1="651.00" x2="340.5" y2="651.00" stroke="#e3e3e3" stroke-width="0.8" stroke-dasharray="2 1.6"/>
<line x1="26.8" y1="651.00" x2="30.3" y2="651.00" stroke="#a8a8a8" stroke-width="1"/>
<text x="26.4" y="655.60" font-size="11.3" fill="#222" text-anchor="end" textLength="6.5" lengthAdjust="spacingAndGlyphs">3</text>
<line x1="30.3" y1="630.00" x2="340.5" y2="630.00" stroke="#e3e3e3" stroke-width="0.8" stroke-dasharray="2 1.6"/>
<line x1="26.8" y1="630.00" x2="30.3" y2="630.00" stroke="#a8a8a8" stroke-width="1"/>
<text x="26.4" y="634.60" font-size="11.3" fill="#222" text-anchor="end" textLength="6.5" lengthAdjust="spacingAndGlyphs">6</text>
<line x1="30.3" y1="609.00" x2="340.5" y2="609.00" stroke="#e3e3e3" stroke-width="0.8" stroke-dasharray="2 1.6"/>
<line x1="26.8" y1="609.00" x2="30.3" y2="609.00" stroke="#a8a8a8" stroke-width="1"/>
<text x="26.4" y="613.60" font-size="11.3" fill="#222" text-anchor="end" textLength="6.5" lengthAdjust="spacingAndGlyphs">9</text>
<line x1="30.3" y1="588.00" x2="340.5" y2="588.00" stroke="#e3e3e3" stroke-width="0.8" stroke-dasharray="2 1.6"/>
<line x1="26.8" y1="588.00" x2="30.3" y2="588.00" stroke="#a8a8a8" stroke-width="1"/>
<text x="26.4" y="592.60" font-size="11.3" fill="#222" text-anchor="end" textLength="13.0" lengthAdjust="spacingAndGlyphs">12</text>
<line x1="30.3" y1="567.00" x2="340.5" y2="567.00" stroke="#e3e3e3" stroke-width="0.8" stroke-dasharray="2 1.6"/>
<line x1="26.8" y1="567.00" x2="30.3" y2="567.00" stroke="#a8a8a8" stroke-width="1"/>
<text x="26.4" y="571.60" font-size="11.3" fill="#222" text-anchor="end" textLength="13.0" lengthAdjust="spacingAndGlyphs">15</text>
<line x1="30.3" y1="546.00" x2="340.5" y2="546.00" stroke="#e3e3e3" stroke-width="0.8" stroke-dasharray="2 1.6"/>
<line x1="26.8" y1="546.00" x2="30.3" y2="546.00" stroke="#a8a8a8" stroke-width="1"/>
<text x="26.4" y="550.60" font-size="11.3" fill="#222" text-anchor="end" textLength="13.0" lengthAdjust="spacingAndGlyphs">18</text>
<line x1="30.3" y1="525.00" x2="340.5" y2="525.00" stroke="#e3e3e3" stroke-width="0.8" stroke-dasharray="2 1.6"/>
<line x1="26.8" y1="525.00" x2="30.3" y2="525.00" stroke="#a8a8a8" stroke-width="1"/>
<text x="26.4" y="529.60" font-size="11.3" fill="#222" text-anchor="end" textLength="13.0" lengthAdjust="spacingAndGlyphs">21</text>
<line x1="30.3" y1="504.00" x2="340.5" y2="504.00" stroke="#e3e3e3" stroke-width="0.8" stroke-dasharray="2 1.6"/>
<line x1="26.8" y1="504.00" x2="30.3" y2="504.00" stroke="#a8a8a8" stroke-width="1"/>
<text x="26.4" y="508.60" font-size="11.3" fill="#222" text-anchor="end" textLength="13.0" lengthAdjust="spacingAndGlyphs">24</text>
<line x1="30.3" y1="483.00" x2="340.5" y2="483.00" stroke="#e3e3e3" stroke-width="0.8" stroke-dasharray="2 1.6"/>
<line x1="26.8" y1="483.00" x2="30.3" y2="483.00" stroke="#a8a8a8" stroke-width="1"/>
<text x="26.4" y="487.60" font-size="11.3" fill="#222" text-anchor="end" textLength="13.0" lengthAdjust="spacingAndGlyphs">27</text>
<line x1="30.3" y1="462.00" x2="340.5" y2="462.00" stroke="#e3e3e3" stroke-width="0.8" stroke-dasharray="2 1.6"/>
<line x1="26.8" y1="462.00" x2="30.3" y2="462.00" stroke="#a8a8a8" stroke-width="1"/>
<text x="26.4" y="466.60" font-size="11.3" fill="#222" text-anchor="end" textLength="13.0" lengthAdjust="spacingAndGlyphs">30</text>
<line x1="67.7" y1="462.5" x2="67.7" y2="672.0" stroke="#e3e3e3" stroke-width="0.8" stroke-dasharray="2 1.6"/>
<line x1="67.7" y1="672.0" x2="67.7" y2="675.5" stroke="#a8a8a8" stroke-width="1"/>
<text x="67.7" y="683.8" font-size="11.3" fill="#222" text-anchor="middle" textLength="20" lengthAdjust="spacingAndGlyphs">8x8</text>
<line x1="185.2" y1="462.5" x2="185.2" y2="672.0" stroke="#e3e3e3" stroke-width="0.8" stroke-dasharray="2 1.6"/>
<line x1="185.2" y1="672.0" x2="185.2" y2="675.5" stroke="#a8a8a8" stroke-width="1"/>
<text x="185.2" y="683.8" font-size="11.3" fill="#222" text-anchor="middle" textLength="32.3" lengthAdjust="spacingAndGlyphs">12x12</text>
<line x1="302.7" y1="462.5" x2="302.7" y2="672.0" stroke="#e3e3e3" stroke-width="0.8" stroke-dasharray="2 1.6"/>
<line x1="302.7" y1="672.0" x2="302.7" y2="675.5" stroke="#a8a8a8" stroke-width="1"/>
<text x="302.7" y="683.8" font-size="11.3" fill="#222" text-anchor="middle" textLength="32.3" lengthAdjust="spacingAndGlyphs">16x16</text>
<path d="M30.3,462.5 H340.5 V672.0" fill="none" stroke="#808080" stroke-width="1.25"/>
<path d="M30.3,462.5 V672.0 H340.5" fill="none" stroke="#a8a8a8" stroke-width="1.6"/>
<text x="185" y="695" font-size="11.5" fill="#222" text-anchor="middle">Supercell sizes</text>
<text transform="translate(8.8 567) rotate(-90)" font-size="11.5" fill="#222" text-anchor="middle">Ionic steps</text>
<circle cx="44.20" cy="651.00" r="4" fill="#8fbedb"/>
<circle cx="55.95" cy="651.00" r="4" fill="#efb37e"/>
<circle cx="67.70" cy="651.00" r="4" fill="#92d38c"/>
<circle cx="79.45" cy="651.00" r="4" fill="#df8a8e"/>
<circle cx="91.20" cy="651.00" r="4" fill="#c3a9e0"/>
<circle cx="161.70" cy="651.00" r="4" fill="#8fbedb"/>
<circle cx="173.45" cy="651.00" r="4" fill="#efb37e"/>
<circle cx="185.20" cy="651.00" r="4" fill="#92d38c"/>
<circle cx="196.95" cy="651.00" r="4" fill="#df8a8e"/>
<circle cx="208.70" cy="651.00" r="4" fill="#c3a9e0"/>
<circle cx="279.20" cy="651.00" r="4" fill="#8fbedb"/>
<circle cx="290.95" cy="651.00" r="4" fill="#efb37e"/>
<circle cx="302.70" cy="651.00" r="4" fill="#92d38c"/>
<circle cx="314.45" cy="651.00" r="4" fill="#df8a8e"/>
<circle cx="326.20" cy="651.00" r="4" fill="#c3a9e0"/>
<line x1="30.3" y1="651.00" x2="329.7" y2="651.00" stroke="#111" stroke-width="1.5"/>
<polygon points="44.30,535.90 48.00,542.70 40.60,542.70" fill="#8fbedb"/>
<polygon points="162.20,535.90 165.90,542.70 158.50,542.70" fill="#8fbedb"/>
<polygon points="279.70,521.90 283.40,528.70 276.00,528.70" fill="#8fbedb"/>
<rect x="40.5" y="464.9" width="289" height="43.8" rx="2.5" fill="#fff" fill-opacity="0.85" stroke="#e0e0e0" stroke-width="1"/>
<circle cx="53.6" cy="473.0" r="4" fill="#8fbedb"/>
<text x="71.2" y="476.4" font-size="10.6" fill="#222">Sample 6 (predicted)</text>
<polygon points="53.60,483.91 57.52,491.12 49.68,491.12" fill="#8fbedb"/>
<text x="71.2" y="490.4" font-size="10.6" fill="#222">Sample 6 (unrelaxed)</text>
<circle cx="53.6" cy="501.0" r="4" fill="#efb37e"/>
<text x="71.2" y="504.4" font-size="10.6" fill="#222">Sample 14 (predicted)</text>
<circle cx="204" cy="473.0" r="4" fill="#92d38c"/>
<text x="221.6" y="476.4" font-size="10.6" fill="#222">Sample 21 (predicted)</text>
<circle cx="204" cy="486.8" r="4" fill="#df8a8e"/>
<text x="221.6" y="490.2" font-size="10.6" fill="#222">Sample 25 (predicted)</text>
<circle cx="204" cy="500.6" r="4" fill="#c3a9e0"/>
<text x="221.6" y="504.0" font-size="10.6" fill="#222">Sample 36 (predicted)</text>
<text x="360.5" y="451" font-size="17" fill="#222">(c)</text>
<rect x="387.4" y="462.5" width="289.0" height="208.70000000000005" fill="none" stroke="#707070" stroke-width="1.15"/>
<line x1="383.9" y1="663.30" x2="387.4" y2="663.30" stroke="#636363" stroke-width="1"/>
<text x="383.8" y="667.30" font-size="11.3" fill="#222" text-anchor="end" textLength="6.6" lengthAdjust="spacingAndGlyphs">0</text>
<line x1="383.9" y1="617.10" x2="387.4" y2="617.10" stroke="#636363" stroke-width="1"/>
<text x="383.8" y="621.10" font-size="11.3" fill="#222" text-anchor="end" textLength="19.799999999999997" lengthAdjust="spacingAndGlyphs">500</text>
<line x1="383.9" y1="570.90" x2="387.4" y2="570.90" stroke="#636363" stroke-width="1"/>
<text x="383.8" y="574.90" font-size="11.3" fill="#222" text-anchor="end" textLength="26.4" lengthAdjust="spacingAndGlyphs">1000</text>
<line x1="383.9" y1="524.70" x2="387.4" y2="524.70" stroke="#636363" stroke-width="1"/>
<text x="383.8" y="528.70" font-size="11.3" fill="#222" text-anchor="end" textLength="26.4" lengthAdjust="spacingAndGlyphs">1500</text>
<line x1="383.9" y1="478.50" x2="387.4" y2="478.50" stroke="#636363" stroke-width="1"/>
<text x="383.8" y="482.50" font-size="11.3" fill="#222" text-anchor="end" textLength="26.4" lengthAdjust="spacingAndGlyphs">2000</text>
<line x1="400.4" y1="671.2" x2="400.4" y2="673.7" stroke="#636363" stroke-width="1"/>
<text x="400.4" y="682.5" font-size="11.3" fill="#222" text-anchor="middle" textLength="28.5" lengthAdjust="spacingAndGlyphs">8 × 8</text>
<line x1="532.0" y1="671.2" x2="532.0" y2="673.7" stroke="#636363" stroke-width="1"/>
<text x="532.0" y="682.5" font-size="11.3" fill="#222" text-anchor="middle" textLength="41.5" lengthAdjust="spacingAndGlyphs">12 × 12</text>
<line x1="663.5" y1="671.2" x2="663.5" y2="673.7" stroke="#636363" stroke-width="1"/>
<text x="663.5" y="682.5" font-size="11.3" fill="#222" text-anchor="middle" textLength="41.5" lengthAdjust="spacingAndGlyphs">16 × 16</text>
<text x="532" y="694.5" font-size="11.5" fill="#222" text-anchor="middle">Supercell size</text>
<text transform="translate(353.6 566.8) rotate(-90)" font-size="11.5" fill="#222" text-anchor="middle">Time (h)</text>
<polyline points="400.4,656.46 532.0,623.20 663.5,472.22" fill="none" stroke="#7db3d8" stroke-width="1"/>
<polyline points="400.4,661.82 532.0,653.14 663.5,615.25" fill="none" stroke="#f0b070" stroke-width="1"/>
<circle cx="400.4" cy="656.46" r="4.5" fill="#6aa4cd"/>
<circle cx="532.0" cy="623.20" r="4.5" fill="#6aa4cd"/>
<circle cx="663.5" cy="472.22" r="4.5" fill="#6aa4cd"/>
<circle cx="400.4" cy="661.82" r="4.5" fill="#eea158"/>
<circle cx="532.0" cy="653.14" r="4.5" fill="#eea158"/>
<circle cx="663.5" cy="615.25" r="4.5" fill="#eea158"/>
<rect x="392" y="466.8" width="114.3" height="29.4" rx="2.5" fill="#fff" fill-opacity="0.85" stroke="#e0e0e0" stroke-width="1"/>
<line x1="395.2" y1="474.1" x2="414.9" y2="474.1" stroke="#7db3d8" stroke-width="1"/>
<line x1="395.2" y1="487.3" x2="414.9" y2="487.3" stroke="#f0b070" stroke-width="1"/>
<circle cx="404.9" cy="474.1" r="4.3" fill="#6aa4cd"/>
<circle cx="404.9" cy="487.3" r="4.3" fill="#eea158"/>
<text x="421.5" y="478" font-size="10.6" fill="#222">Unrelaxed</text>
<text x="421.5" y="491.2" font-size="10.6" fill="#222">DefiNet-predicted</text>
</svg>
</body></html>
